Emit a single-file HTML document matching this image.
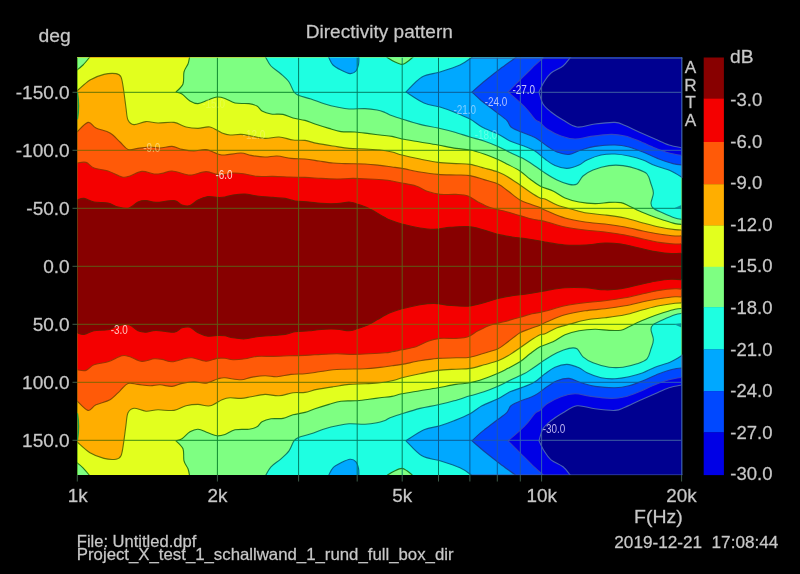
<!DOCTYPE html>
<html><head><meta charset="utf-8"><title>Directivity pattern</title>
<style>html,body{margin:0;padding:0;background:#000;}body{width:800px;height:574px;overflow:hidden;position:relative;font-family:"Liberation Sans",sans-serif;}</style>
</head><body>
<svg width="800" height="574" viewBox="0 0 800 574" style="display:block;position:absolute;left:0;top:0">
<rect x="0" y="0" width="800" height="574" fill="#000"/>
<defs><clipPath id="pc"><rect x="77" y="57.6" width="604.4" height="417.4"/></clipPath>
<clipPath id="bc"><path d="M473.0 56.0 C472.7 56.3 473.2 56.5 471.0 58.0 C468.8 59.5 465.2 62.7 460.0 65.0 C454.8 67.3 446.3 70.0 440.0 72.0 C433.7 74.0 427.7 73.7 422.0 77.0 C416.3 80.3 408.7 89.5 406.0 92.0 C409.0 93.8 418.3 100.5 424.0 103.0 C429.7 105.5 435.0 105.5 440.0 107.0 C445.0 108.5 449.0 110.0 454.0 112.0 C459.0 114.0 465.3 116.5 470.0 119.0 C474.7 121.5 477.3 124.5 482.0 127.0 C486.7 129.5 493.3 131.7 498.0 134.0 C502.7 136.3 505.7 139.0 510.0 141.0 C514.3 143.0 519.8 144.3 524.0 146.0 C528.2 147.7 531.5 148.8 535.0 151.0 C538.5 153.2 541.7 156.6 545.0 159.0 C548.3 161.4 551.3 164.0 555.0 165.6 C558.7 167.2 563.0 168.5 567.0 168.4 C571.0 168.3 575.7 166.4 579.0 165.0 C582.3 163.6 583.3 161.7 587.0 160.0 C590.7 158.3 596.3 156.0 601.0 155.0 C605.7 154.0 610.3 153.8 615.0 154.0 C619.7 154.2 624.3 155.0 629.0 156.0 C633.7 157.0 638.7 158.4 643.0 160.0 C647.3 161.6 650.3 163.8 655.0 165.6 C659.7 167.4 666.3 168.9 671.0 171.0 C675.7 173.1 681.0 176.8 683.0 178.0 L684.4 178.0 L684.4 54.6 L473.0 54.6 Z"/><path d="M473.0 476.8 C472.7 476.5 473.2 476.3 471.0 474.8 C468.8 473.3 465.2 470.1 460.0 467.8 C454.8 465.5 446.3 462.8 440.0 460.8 C433.7 458.8 427.7 459.1 422.0 455.8 C416.3 452.5 408.7 443.3 406.0 440.8 C409.0 439.0 418.3 432.3 424.0 429.8 C429.7 427.3 435.0 427.3 440.0 425.8 C445.0 424.3 449.0 422.8 454.0 420.8 C459.0 418.8 465.3 416.3 470.0 413.8 C474.7 411.3 477.3 408.3 482.0 405.8 C486.7 403.3 493.3 401.1 498.0 398.8 C502.7 396.5 505.7 393.8 510.0 391.8 C514.3 389.8 519.8 388.5 524.0 386.8 C528.2 385.1 531.5 384.0 535.0 381.8 C538.5 379.6 541.7 376.2 545.0 373.8 C548.3 371.4 551.3 368.8 555.0 367.2 C558.7 365.6 563.0 364.3 567.0 364.4 C571.0 364.5 575.7 366.4 579.0 367.8 C582.3 369.2 583.3 371.1 587.0 372.8 C590.7 374.5 596.3 376.8 601.0 377.8 C605.7 378.8 610.3 379.0 615.0 378.8 C619.7 378.6 624.3 377.8 629.0 376.8 C633.7 375.8 638.7 374.4 643.0 372.8 C647.3 371.2 650.3 369.0 655.0 367.2 C659.7 365.4 666.3 363.9 671.0 361.8 C675.7 359.7 681.0 356.0 683.0 354.8 L684.4 354.8 L684.4 478.0 L473.0 478.0 Z"/></clipPath>
<clipPath id="b0"><path clip-rule="evenodd" d="M72 52.6 H686.4 V480 H72 Z M77.0 200.0 C78.2 199.7 81.2 198.1 84.0 198.4 C86.8 198.7 90.0 201.2 94.0 202.0 C98.0 202.8 104.0 202.2 108.0 203.0 C112.0 203.8 114.5 206.2 118.0 207.0 C121.5 207.8 125.7 208.8 129.0 208.0 C132.3 207.2 135.2 203.2 138.0 202.0 C140.8 200.8 143.0 200.5 146.0 200.6 C149.0 200.7 151.3 202.4 156.0 202.4 C160.7 202.4 169.7 200.2 174.0 200.6 C178.3 201.0 179.3 204.2 182.0 205.0 C184.7 205.8 187.3 206.4 190.0 205.6 C192.7 204.8 195.0 201.5 198.0 200.0 C201.0 198.5 204.7 197.0 208.0 196.6 C211.3 196.2 215.2 197.3 218.0 197.4 C220.8 197.5 222.5 197.4 225.0 197.0 C227.5 196.6 229.7 195.5 233.0 195.0 C236.3 194.5 241.0 193.8 245.0 194.0 C249.0 194.2 252.3 195.4 257.0 196.0 C261.7 196.6 268.3 197.0 273.0 197.4 C277.7 197.8 281.3 197.8 285.0 198.4 C288.7 199.0 291.0 200.4 295.0 201.0 C299.0 201.6 304.7 201.6 309.0 202.0 C313.3 202.4 316.3 203.1 321.0 203.4 C325.7 203.7 332.3 203.8 337.0 203.6 C341.7 203.4 345.7 201.9 349.0 202.0 C352.3 202.1 353.7 202.9 357.0 204.0 C360.3 205.1 365.7 206.9 369.0 208.4 C372.3 209.9 374.3 211.5 377.0 213.0 C379.7 214.5 382.8 216.4 385.0 217.6 C387.2 218.8 387.2 218.9 390.0 220.0 C392.8 221.1 397.0 222.7 402.0 224.0 C407.0 225.3 414.7 227.1 420.0 228.0 C425.3 228.9 429.0 229.5 434.0 229.4 C439.0 229.3 444.3 227.9 450.0 227.4 C455.7 226.9 462.3 226.2 468.0 226.6 C473.7 227.0 479.0 228.7 484.0 230.0 C489.0 231.3 493.3 233.2 498.0 234.4 C502.7 235.6 507.0 236.2 512.0 237.0 C517.0 237.8 523.3 238.3 528.0 239.0 C532.7 239.7 536.8 240.4 540.0 241.0 C543.2 241.6 542.8 241.7 547.0 242.4 C551.2 243.1 558.7 244.6 565.0 245.0 C571.3 245.4 578.3 245.3 585.0 245.0 C591.7 244.7 599.0 243.2 605.0 243.0 C611.0 242.8 615.3 243.2 621.0 244.0 C626.7 244.8 633.3 246.7 639.0 248.0 C644.7 249.3 649.7 250.7 655.0 251.6 C660.3 252.5 666.3 253.4 671.0 253.6 C675.7 253.8 681.0 253.1 683.0 253.0 L684.4 253.0 L684.4 54.6 L74.0 54.6 L74.0 200.0 Z M77.0 332.8 C78.2 333.1 81.2 334.7 84.0 334.4 C86.8 334.1 90.0 331.6 94.0 330.8 C98.0 330.0 104.0 330.6 108.0 329.8 C112.0 329.0 114.5 326.6 118.0 325.8 C121.5 325.0 125.7 324.0 129.0 324.8 C132.3 325.6 135.2 329.6 138.0 330.8 C140.8 332.0 143.0 332.3 146.0 332.2 C149.0 332.1 151.3 330.4 156.0 330.4 C160.7 330.4 169.7 332.6 174.0 332.2 C178.3 331.8 179.3 328.6 182.0 327.8 C184.7 327.0 187.3 326.4 190.0 327.2 C192.7 328.0 195.0 331.3 198.0 332.8 C201.0 334.3 204.7 335.8 208.0 336.2 C211.3 336.6 215.2 335.5 218.0 335.4 C220.8 335.3 222.5 335.4 225.0 335.8 C227.5 336.2 229.7 337.3 233.0 337.8 C236.3 338.3 241.0 339.0 245.0 338.8 C249.0 338.6 252.3 337.4 257.0 336.8 C261.7 336.2 268.3 335.8 273.0 335.4 C277.7 335.0 281.3 335.0 285.0 334.4 C288.7 333.8 291.0 332.4 295.0 331.8 C299.0 331.2 304.7 331.2 309.0 330.8 C313.3 330.4 316.3 329.7 321.0 329.4 C325.7 329.1 332.3 329.0 337.0 329.2 C341.7 329.4 345.7 330.9 349.0 330.8 C352.3 330.7 353.7 329.9 357.0 328.8 C360.3 327.7 365.7 325.9 369.0 324.4 C372.3 322.9 374.3 321.3 377.0 319.8 C379.7 318.3 382.8 316.4 385.0 315.2 C387.2 314.0 387.2 313.9 390.0 312.8 C392.8 311.7 397.0 310.1 402.0 308.8 C407.0 307.5 414.7 305.7 420.0 304.8 C425.3 303.9 429.0 303.3 434.0 303.4 C439.0 303.5 444.3 304.9 450.0 305.4 C455.7 305.9 462.3 306.6 468.0 306.2 C473.7 305.8 479.0 304.1 484.0 302.8 C489.0 301.5 493.3 299.6 498.0 298.4 C502.7 297.2 507.0 296.6 512.0 295.8 C517.0 295.0 523.3 294.5 528.0 293.8 C532.7 293.1 536.8 292.4 540.0 291.8 C543.2 291.2 542.8 291.1 547.0 290.4 C551.2 289.7 558.7 288.2 565.0 287.8 C571.3 287.4 578.3 287.5 585.0 287.8 C591.7 288.1 599.0 289.6 605.0 289.8 C611.0 290.0 615.3 289.6 621.0 288.8 C626.7 288.0 633.3 286.1 639.0 284.8 C644.7 283.5 649.7 282.1 655.0 281.2 C660.3 280.3 666.3 279.4 671.0 279.2 C675.7 279.0 681.0 279.7 683.0 279.8 L684.4 279.8 L684.4 478.0 L74.0 478.0 L74.0 332.8 Z"/></clipPath>
<clipPath id="b1"><path clip-rule="evenodd" d="M77.0 200.0 C78.2 199.7 81.2 198.1 84.0 198.4 C86.8 198.7 90.0 201.2 94.0 202.0 C98.0 202.8 104.0 202.2 108.0 203.0 C112.0 203.8 114.5 206.2 118.0 207.0 C121.5 207.8 125.7 208.8 129.0 208.0 C132.3 207.2 135.2 203.2 138.0 202.0 C140.8 200.8 143.0 200.5 146.0 200.6 C149.0 200.7 151.3 202.4 156.0 202.4 C160.7 202.4 169.7 200.2 174.0 200.6 C178.3 201.0 179.3 204.2 182.0 205.0 C184.7 205.8 187.3 206.4 190.0 205.6 C192.7 204.8 195.0 201.5 198.0 200.0 C201.0 198.5 204.7 197.0 208.0 196.6 C211.3 196.2 215.2 197.3 218.0 197.4 C220.8 197.5 222.5 197.4 225.0 197.0 C227.5 196.6 229.7 195.5 233.0 195.0 C236.3 194.5 241.0 193.8 245.0 194.0 C249.0 194.2 252.3 195.4 257.0 196.0 C261.7 196.6 268.3 197.0 273.0 197.4 C277.7 197.8 281.3 197.8 285.0 198.4 C288.7 199.0 291.0 200.4 295.0 201.0 C299.0 201.6 304.7 201.6 309.0 202.0 C313.3 202.4 316.3 203.1 321.0 203.4 C325.7 203.7 332.3 203.8 337.0 203.6 C341.7 203.4 345.7 201.9 349.0 202.0 C352.3 202.1 353.7 202.9 357.0 204.0 C360.3 205.1 365.7 206.9 369.0 208.4 C372.3 209.9 374.3 211.5 377.0 213.0 C379.7 214.5 382.8 216.4 385.0 217.6 C387.2 218.8 387.2 218.9 390.0 220.0 C392.8 221.1 397.0 222.7 402.0 224.0 C407.0 225.3 414.7 227.1 420.0 228.0 C425.3 228.9 429.0 229.5 434.0 229.4 C439.0 229.3 444.3 227.9 450.0 227.4 C455.7 226.9 462.3 226.2 468.0 226.6 C473.7 227.0 479.0 228.7 484.0 230.0 C489.0 231.3 493.3 233.2 498.0 234.4 C502.7 235.6 507.0 236.2 512.0 237.0 C517.0 237.8 523.3 238.3 528.0 239.0 C532.7 239.7 536.8 240.4 540.0 241.0 C543.2 241.6 542.8 241.7 547.0 242.4 C551.2 243.1 558.7 244.6 565.0 245.0 C571.3 245.4 578.3 245.3 585.0 245.0 C591.7 244.7 599.0 243.2 605.0 243.0 C611.0 242.8 615.3 243.2 621.0 244.0 C626.7 244.8 633.3 246.7 639.0 248.0 C644.7 249.3 649.7 250.7 655.0 251.6 C660.3 252.5 666.3 253.4 671.0 253.6 C675.7 253.8 681.0 253.1 683.0 253.0 L684.4 253.0 L684.4 54.6 L74.0 54.6 L74.0 200.0 Z M77.0 332.8 C78.2 333.1 81.2 334.7 84.0 334.4 C86.8 334.1 90.0 331.6 94.0 330.8 C98.0 330.0 104.0 330.6 108.0 329.8 C112.0 329.0 114.5 326.6 118.0 325.8 C121.5 325.0 125.7 324.0 129.0 324.8 C132.3 325.6 135.2 329.6 138.0 330.8 C140.8 332.0 143.0 332.3 146.0 332.2 C149.0 332.1 151.3 330.4 156.0 330.4 C160.7 330.4 169.7 332.6 174.0 332.2 C178.3 331.8 179.3 328.6 182.0 327.8 C184.7 327.0 187.3 326.4 190.0 327.2 C192.7 328.0 195.0 331.3 198.0 332.8 C201.0 334.3 204.7 335.8 208.0 336.2 C211.3 336.6 215.2 335.5 218.0 335.4 C220.8 335.3 222.5 335.4 225.0 335.8 C227.5 336.2 229.7 337.3 233.0 337.8 C236.3 338.3 241.0 339.0 245.0 338.8 C249.0 338.6 252.3 337.4 257.0 336.8 C261.7 336.2 268.3 335.8 273.0 335.4 C277.7 335.0 281.3 335.0 285.0 334.4 C288.7 333.8 291.0 332.4 295.0 331.8 C299.0 331.2 304.7 331.2 309.0 330.8 C313.3 330.4 316.3 329.7 321.0 329.4 C325.7 329.1 332.3 329.0 337.0 329.2 C341.7 329.4 345.7 330.9 349.0 330.8 C352.3 330.7 353.7 329.9 357.0 328.8 C360.3 327.7 365.7 325.9 369.0 324.4 C372.3 322.9 374.3 321.3 377.0 319.8 C379.7 318.3 382.8 316.4 385.0 315.2 C387.2 314.0 387.2 313.9 390.0 312.8 C392.8 311.7 397.0 310.1 402.0 308.8 C407.0 307.5 414.7 305.7 420.0 304.8 C425.3 303.9 429.0 303.3 434.0 303.4 C439.0 303.5 444.3 304.9 450.0 305.4 C455.7 305.9 462.3 306.6 468.0 306.2 C473.7 305.8 479.0 304.1 484.0 302.8 C489.0 301.5 493.3 299.6 498.0 298.4 C502.7 297.2 507.0 296.6 512.0 295.8 C517.0 295.0 523.3 294.5 528.0 293.8 C532.7 293.1 536.8 292.4 540.0 291.8 C543.2 291.2 542.8 291.1 547.0 290.4 C551.2 289.7 558.7 288.2 565.0 287.8 C571.3 287.4 578.3 287.5 585.0 287.8 C591.7 288.1 599.0 289.6 605.0 289.8 C611.0 290.0 615.3 289.6 621.0 288.8 C626.7 288.0 633.3 286.1 639.0 284.8 C644.7 283.5 649.7 282.1 655.0 281.2 C660.3 280.3 666.3 279.4 671.0 279.2 C675.7 279.0 681.0 279.7 683.0 279.8 L684.4 279.8 L684.4 478.0 L74.0 478.0 L74.0 332.8 Z M77.0 163.0 C78.5 162.9 83.2 161.6 86.0 162.4 C88.8 163.2 90.3 166.6 94.0 168.0 C97.7 169.4 103.3 169.5 108.0 171.0 C112.7 172.5 118.3 176.2 122.0 177.0 C125.7 177.8 126.7 176.9 130.0 176.0 C133.3 175.1 138.0 171.7 142.0 171.4 C146.0 171.1 150.7 173.7 154.0 174.0 C157.3 174.3 159.0 173.9 162.0 173.4 C165.0 172.9 168.3 170.9 172.0 171.0 C175.7 171.1 180.7 173.3 184.0 174.0 C187.3 174.7 188.3 175.4 192.0 175.0 C195.7 174.6 201.8 171.7 206.0 171.6 C210.2 171.5 213.8 173.9 217.0 174.4 C220.2 174.9 222.3 174.7 225.0 174.5 C227.7 174.3 229.7 173.1 233.0 173.0 C236.3 172.9 241.0 173.4 245.0 174.0 C249.0 174.6 252.3 176.0 257.0 176.4 C261.7 176.8 267.7 176.3 273.0 176.4 C278.3 176.5 283.7 176.8 289.0 177.0 C294.3 177.2 299.7 177.2 305.0 177.4 C310.3 177.6 315.7 178.1 321.0 178.4 C326.3 178.7 331.7 179.0 337.0 179.0 C342.3 179.0 347.7 178.4 353.0 178.4 C358.3 178.4 363.7 178.7 369.0 179.0 C374.3 179.3 381.2 179.7 385.0 180.0 C388.8 180.3 389.2 180.5 392.0 181.0 C394.8 181.5 398.0 182.2 402.0 183.0 C406.0 183.8 411.7 184.6 416.0 186.0 C420.3 187.4 424.0 190.2 428.0 191.6 C432.0 193.0 435.3 193.9 440.0 194.4 C444.7 194.9 451.3 194.1 456.0 194.4 C460.7 194.7 464.3 194.7 468.0 196.0 C471.7 197.3 474.3 200.1 478.0 202.0 C481.7 203.9 485.7 206.1 490.0 207.6 C494.3 209.1 499.0 209.7 504.0 211.0 C509.0 212.3 515.3 214.3 520.0 215.6 C524.7 216.9 528.7 218.2 532.0 219.0 C535.3 219.8 537.5 219.9 540.0 220.4 C542.5 220.9 542.8 220.9 547.0 222.0 C551.2 223.1 558.7 225.7 565.0 227.0 C571.3 228.3 578.3 229.2 585.0 230.0 C591.7 230.8 598.3 231.2 605.0 232.0 C611.7 232.8 618.7 233.8 625.0 235.0 C631.3 236.2 637.3 237.8 643.0 239.0 C648.7 240.2 653.7 241.6 659.0 242.4 C664.3 243.2 671.0 243.8 675.0 244.0 C679.0 244.2 681.7 243.7 683.0 243.6 L684.4 243.6 L684.4 54.6 L74.0 54.6 L74.0 163.0 Z M77.0 369.8 C78.5 369.9 83.2 371.2 86.0 370.4 C88.8 369.6 90.3 366.2 94.0 364.8 C97.7 363.4 103.3 363.3 108.0 361.8 C112.7 360.3 118.3 356.6 122.0 355.8 C125.7 355.0 126.7 355.9 130.0 356.8 C133.3 357.7 138.0 361.1 142.0 361.4 C146.0 361.7 150.7 359.1 154.0 358.8 C157.3 358.5 159.0 358.9 162.0 359.4 C165.0 359.9 168.3 361.9 172.0 361.8 C175.7 361.7 180.7 359.5 184.0 358.8 C187.3 358.1 188.3 357.4 192.0 357.8 C195.7 358.2 201.8 361.1 206.0 361.2 C210.2 361.3 213.8 358.9 217.0 358.4 C220.2 357.9 222.3 358.1 225.0 358.3 C227.7 358.5 229.7 359.7 233.0 359.8 C236.3 359.9 241.0 359.4 245.0 358.8 C249.0 358.2 252.3 356.8 257.0 356.4 C261.7 356.0 267.7 356.5 273.0 356.4 C278.3 356.3 283.7 356.0 289.0 355.8 C294.3 355.6 299.7 355.6 305.0 355.4 C310.3 355.2 315.7 354.7 321.0 354.4 C326.3 354.1 331.7 353.8 337.0 353.8 C342.3 353.8 347.7 354.4 353.0 354.4 C358.3 354.4 363.7 354.1 369.0 353.8 C374.3 353.5 381.2 353.1 385.0 352.8 C388.8 352.5 389.2 352.3 392.0 351.8 C394.8 351.3 398.0 350.6 402.0 349.8 C406.0 349.0 411.7 348.2 416.0 346.8 C420.3 345.4 424.0 342.6 428.0 341.2 C432.0 339.8 435.3 338.9 440.0 338.4 C444.7 337.9 451.3 338.7 456.0 338.4 C460.7 338.1 464.3 338.1 468.0 336.8 C471.7 335.5 474.3 332.7 478.0 330.8 C481.7 328.9 485.7 326.7 490.0 325.2 C494.3 323.7 499.0 323.1 504.0 321.8 C509.0 320.5 515.3 318.5 520.0 317.2 C524.7 315.9 528.7 314.6 532.0 313.8 C535.3 313.0 537.5 312.9 540.0 312.4 C542.5 311.9 542.8 311.9 547.0 310.8 C551.2 309.7 558.7 307.1 565.0 305.8 C571.3 304.5 578.3 303.6 585.0 302.8 C591.7 302.0 598.3 301.6 605.0 300.8 C611.7 300.0 618.7 299.0 625.0 297.8 C631.3 296.6 637.3 295.0 643.0 293.8 C648.7 292.6 653.7 291.2 659.0 290.4 C664.3 289.6 671.0 289.0 675.0 288.8 C679.0 288.6 681.7 289.1 683.0 289.2 L684.4 289.2 L684.4 478.0 L74.0 478.0 L74.0 369.8 Z"/></clipPath>
<clipPath id="b2"><path clip-rule="evenodd" d="M77.0 163.0 C78.5 162.9 83.2 161.6 86.0 162.4 C88.8 163.2 90.3 166.6 94.0 168.0 C97.7 169.4 103.3 169.5 108.0 171.0 C112.7 172.5 118.3 176.2 122.0 177.0 C125.7 177.8 126.7 176.9 130.0 176.0 C133.3 175.1 138.0 171.7 142.0 171.4 C146.0 171.1 150.7 173.7 154.0 174.0 C157.3 174.3 159.0 173.9 162.0 173.4 C165.0 172.9 168.3 170.9 172.0 171.0 C175.7 171.1 180.7 173.3 184.0 174.0 C187.3 174.7 188.3 175.4 192.0 175.0 C195.7 174.6 201.8 171.7 206.0 171.6 C210.2 171.5 213.8 173.9 217.0 174.4 C220.2 174.9 222.3 174.7 225.0 174.5 C227.7 174.3 229.7 173.1 233.0 173.0 C236.3 172.9 241.0 173.4 245.0 174.0 C249.0 174.6 252.3 176.0 257.0 176.4 C261.7 176.8 267.7 176.3 273.0 176.4 C278.3 176.5 283.7 176.8 289.0 177.0 C294.3 177.2 299.7 177.2 305.0 177.4 C310.3 177.6 315.7 178.1 321.0 178.4 C326.3 178.7 331.7 179.0 337.0 179.0 C342.3 179.0 347.7 178.4 353.0 178.4 C358.3 178.4 363.7 178.7 369.0 179.0 C374.3 179.3 381.2 179.7 385.0 180.0 C388.8 180.3 389.2 180.5 392.0 181.0 C394.8 181.5 398.0 182.2 402.0 183.0 C406.0 183.8 411.7 184.6 416.0 186.0 C420.3 187.4 424.0 190.2 428.0 191.6 C432.0 193.0 435.3 193.9 440.0 194.4 C444.7 194.9 451.3 194.1 456.0 194.4 C460.7 194.7 464.3 194.7 468.0 196.0 C471.7 197.3 474.3 200.1 478.0 202.0 C481.7 203.9 485.7 206.1 490.0 207.6 C494.3 209.1 499.0 209.7 504.0 211.0 C509.0 212.3 515.3 214.3 520.0 215.6 C524.7 216.9 528.7 218.2 532.0 219.0 C535.3 219.8 537.5 219.9 540.0 220.4 C542.5 220.9 542.8 220.9 547.0 222.0 C551.2 223.1 558.7 225.7 565.0 227.0 C571.3 228.3 578.3 229.2 585.0 230.0 C591.7 230.8 598.3 231.2 605.0 232.0 C611.7 232.8 618.7 233.8 625.0 235.0 C631.3 236.2 637.3 237.8 643.0 239.0 C648.7 240.2 653.7 241.6 659.0 242.4 C664.3 243.2 671.0 243.8 675.0 244.0 C679.0 244.2 681.7 243.7 683.0 243.6 L684.4 243.6 L684.4 54.6 L74.0 54.6 L74.0 163.0 Z M77.0 369.8 C78.5 369.9 83.2 371.2 86.0 370.4 C88.8 369.6 90.3 366.2 94.0 364.8 C97.7 363.4 103.3 363.3 108.0 361.8 C112.7 360.3 118.3 356.6 122.0 355.8 C125.7 355.0 126.7 355.9 130.0 356.8 C133.3 357.7 138.0 361.1 142.0 361.4 C146.0 361.7 150.7 359.1 154.0 358.8 C157.3 358.5 159.0 358.9 162.0 359.4 C165.0 359.9 168.3 361.9 172.0 361.8 C175.7 361.7 180.7 359.5 184.0 358.8 C187.3 358.1 188.3 357.4 192.0 357.8 C195.7 358.2 201.8 361.1 206.0 361.2 C210.2 361.3 213.8 358.9 217.0 358.4 C220.2 357.9 222.3 358.1 225.0 358.3 C227.7 358.5 229.7 359.7 233.0 359.8 C236.3 359.9 241.0 359.4 245.0 358.8 C249.0 358.2 252.3 356.8 257.0 356.4 C261.7 356.0 267.7 356.5 273.0 356.4 C278.3 356.3 283.7 356.0 289.0 355.8 C294.3 355.6 299.7 355.6 305.0 355.4 C310.3 355.2 315.7 354.7 321.0 354.4 C326.3 354.1 331.7 353.8 337.0 353.8 C342.3 353.8 347.7 354.4 353.0 354.4 C358.3 354.4 363.7 354.1 369.0 353.8 C374.3 353.5 381.2 353.1 385.0 352.8 C388.8 352.5 389.2 352.3 392.0 351.8 C394.8 351.3 398.0 350.6 402.0 349.8 C406.0 349.0 411.7 348.2 416.0 346.8 C420.3 345.4 424.0 342.6 428.0 341.2 C432.0 339.8 435.3 338.9 440.0 338.4 C444.7 337.9 451.3 338.7 456.0 338.4 C460.7 338.1 464.3 338.1 468.0 336.8 C471.7 335.5 474.3 332.7 478.0 330.8 C481.7 328.9 485.7 326.7 490.0 325.2 C494.3 323.7 499.0 323.1 504.0 321.8 C509.0 320.5 515.3 318.5 520.0 317.2 C524.7 315.9 528.7 314.6 532.0 313.8 C535.3 313.0 537.5 312.9 540.0 312.4 C542.5 311.9 542.8 311.9 547.0 310.8 C551.2 309.7 558.7 307.1 565.0 305.8 C571.3 304.5 578.3 303.6 585.0 302.8 C591.7 302.0 598.3 301.6 605.0 300.8 C611.7 300.0 618.7 299.0 625.0 297.8 C631.3 296.6 637.3 295.0 643.0 293.8 C648.7 292.6 653.7 291.2 659.0 290.4 C664.3 289.6 671.0 289.0 675.0 288.8 C679.0 288.6 681.7 289.1 683.0 289.2 L684.4 289.2 L684.4 478.0 L74.0 478.0 L74.0 369.8 Z M77.0 132.0 C78.8 130.4 84.8 123.1 88.0 122.4 C91.2 121.7 92.3 126.2 96.0 128.0 C99.7 129.8 106.0 130.7 110.0 133.0 C114.0 135.3 117.0 139.3 120.0 142.0 C123.0 144.7 125.0 148.3 128.0 149.4 C131.0 150.5 134.3 148.8 138.0 148.4 C141.7 148.0 146.3 147.1 150.0 147.0 C153.7 146.9 156.3 148.1 160.0 148.0 C163.7 147.9 168.3 146.2 172.0 146.4 C175.7 146.6 178.3 148.6 182.0 149.4 C185.7 150.2 190.0 151.0 194.0 151.0 C198.0 151.0 202.0 149.1 206.0 149.6 C210.0 150.1 214.8 153.1 218.0 154.0 C221.2 154.9 221.2 155.2 225.0 155.0 C228.8 154.8 236.7 152.9 241.0 153.0 C245.3 153.1 247.0 154.7 251.0 155.4 C255.0 156.1 260.7 156.9 265.0 157.0 C269.3 157.1 272.7 155.8 277.0 156.0 C281.3 156.2 286.3 157.9 291.0 158.4 C295.7 158.9 300.3 158.6 305.0 159.0 C309.7 159.4 314.3 160.3 319.0 161.0 C323.7 161.7 328.7 162.6 333.0 163.0 C337.3 163.4 339.7 163.4 345.0 163.6 C350.3 163.8 359.2 163.7 365.0 164.0 C370.8 164.3 375.5 164.9 380.0 165.4 C384.5 165.9 388.3 166.5 392.0 167.0 C395.7 167.5 397.3 167.6 402.0 168.4 C406.7 169.2 414.0 171.0 420.0 172.0 C426.0 173.0 432.0 173.9 438.0 174.4 C444.0 174.9 450.7 174.8 456.0 175.0 C461.3 175.2 465.3 174.8 470.0 175.6 C474.7 176.4 479.3 178.2 484.0 179.6 C488.7 181.0 494.0 182.1 498.0 184.0 C502.0 185.9 504.3 188.3 508.0 191.0 C511.7 193.7 516.3 197.8 520.0 200.0 C523.7 202.2 526.7 202.7 530.0 204.0 C533.3 205.3 537.2 206.4 540.0 207.6 C542.8 208.8 542.8 209.3 547.0 211.0 C551.2 212.7 558.7 216.2 565.0 218.0 C571.3 219.8 578.3 221.0 585.0 222.0 C591.7 223.0 598.3 223.2 605.0 224.0 C611.7 224.8 618.7 225.8 625.0 227.0 C631.3 228.2 637.3 229.8 643.0 231.0 C648.7 232.2 653.7 233.2 659.0 234.0 C664.3 234.8 671.0 235.7 675.0 236.0 C679.0 236.3 681.7 235.7 683.0 235.6 L684.4 235.6 L684.4 54.6 L74.0 54.6 L74.0 132.0 Z M77.0 400.8 C78.8 402.4 84.8 409.7 88.0 410.4 C91.2 411.1 92.3 406.6 96.0 404.8 C99.7 403.0 106.0 402.1 110.0 399.8 C114.0 397.5 117.0 393.5 120.0 390.8 C123.0 388.1 125.0 384.5 128.0 383.4 C131.0 382.3 134.3 384.0 138.0 384.4 C141.7 384.8 146.3 385.7 150.0 385.8 C153.7 385.9 156.3 384.7 160.0 384.8 C163.7 384.9 168.3 386.6 172.0 386.4 C175.7 386.2 178.3 384.2 182.0 383.4 C185.7 382.6 190.0 381.8 194.0 381.8 C198.0 381.8 202.0 383.7 206.0 383.2 C210.0 382.7 214.8 379.7 218.0 378.8 C221.2 377.9 221.2 377.6 225.0 377.8 C228.8 378.0 236.7 379.9 241.0 379.8 C245.3 379.7 247.0 378.1 251.0 377.4 C255.0 376.7 260.7 375.9 265.0 375.8 C269.3 375.7 272.7 377.0 277.0 376.8 C281.3 376.6 286.3 374.9 291.0 374.4 C295.7 373.9 300.3 374.2 305.0 373.8 C309.7 373.4 314.3 372.5 319.0 371.8 C323.7 371.1 328.7 370.2 333.0 369.8 C337.3 369.4 339.7 369.4 345.0 369.2 C350.3 369.0 359.2 369.1 365.0 368.8 C370.8 368.5 375.5 367.9 380.0 367.4 C384.5 366.9 388.3 366.3 392.0 365.8 C395.7 365.3 397.3 365.2 402.0 364.4 C406.7 363.6 414.0 361.8 420.0 360.8 C426.0 359.8 432.0 358.9 438.0 358.4 C444.0 357.9 450.7 358.0 456.0 357.8 C461.3 357.6 465.3 358.0 470.0 357.2 C474.7 356.4 479.3 354.6 484.0 353.2 C488.7 351.8 494.0 350.7 498.0 348.8 C502.0 346.9 504.3 344.5 508.0 341.8 C511.7 339.1 516.3 335.0 520.0 332.8 C523.7 330.6 526.7 330.1 530.0 328.8 C533.3 327.5 537.2 326.4 540.0 325.2 C542.8 324.0 542.8 323.5 547.0 321.8 C551.2 320.1 558.7 316.6 565.0 314.8 C571.3 313.0 578.3 311.8 585.0 310.8 C591.7 309.8 598.3 309.6 605.0 308.8 C611.7 308.0 618.7 307.0 625.0 305.8 C631.3 304.6 637.3 303.0 643.0 301.8 C648.7 300.6 653.7 299.6 659.0 298.8 C664.3 298.0 671.0 297.1 675.0 296.8 C679.0 296.5 681.7 297.1 683.0 297.2 L684.4 297.2 L684.4 478.0 L74.0 478.0 L74.0 400.8 Z"/></clipPath>
<clipPath id="b3"><path clip-rule="evenodd" d="M77.0 132.0 C78.8 130.4 84.8 123.1 88.0 122.4 C91.2 121.7 92.3 126.2 96.0 128.0 C99.7 129.8 106.0 130.7 110.0 133.0 C114.0 135.3 117.0 139.3 120.0 142.0 C123.0 144.7 125.0 148.3 128.0 149.4 C131.0 150.5 134.3 148.8 138.0 148.4 C141.7 148.0 146.3 147.1 150.0 147.0 C153.7 146.9 156.3 148.1 160.0 148.0 C163.7 147.9 168.3 146.2 172.0 146.4 C175.7 146.6 178.3 148.6 182.0 149.4 C185.7 150.2 190.0 151.0 194.0 151.0 C198.0 151.0 202.0 149.1 206.0 149.6 C210.0 150.1 214.8 153.1 218.0 154.0 C221.2 154.9 221.2 155.2 225.0 155.0 C228.8 154.8 236.7 152.9 241.0 153.0 C245.3 153.1 247.0 154.7 251.0 155.4 C255.0 156.1 260.7 156.9 265.0 157.0 C269.3 157.1 272.7 155.8 277.0 156.0 C281.3 156.2 286.3 157.9 291.0 158.4 C295.7 158.9 300.3 158.6 305.0 159.0 C309.7 159.4 314.3 160.3 319.0 161.0 C323.7 161.7 328.7 162.6 333.0 163.0 C337.3 163.4 339.7 163.4 345.0 163.6 C350.3 163.8 359.2 163.7 365.0 164.0 C370.8 164.3 375.5 164.9 380.0 165.4 C384.5 165.9 388.3 166.5 392.0 167.0 C395.7 167.5 397.3 167.6 402.0 168.4 C406.7 169.2 414.0 171.0 420.0 172.0 C426.0 173.0 432.0 173.9 438.0 174.4 C444.0 174.9 450.7 174.8 456.0 175.0 C461.3 175.2 465.3 174.8 470.0 175.6 C474.7 176.4 479.3 178.2 484.0 179.6 C488.7 181.0 494.0 182.1 498.0 184.0 C502.0 185.9 504.3 188.3 508.0 191.0 C511.7 193.7 516.3 197.8 520.0 200.0 C523.7 202.2 526.7 202.7 530.0 204.0 C533.3 205.3 537.2 206.4 540.0 207.6 C542.8 208.8 542.8 209.3 547.0 211.0 C551.2 212.7 558.7 216.2 565.0 218.0 C571.3 219.8 578.3 221.0 585.0 222.0 C591.7 223.0 598.3 223.2 605.0 224.0 C611.7 224.8 618.7 225.8 625.0 227.0 C631.3 228.2 637.3 229.8 643.0 231.0 C648.7 232.2 653.7 233.2 659.0 234.0 C664.3 234.8 671.0 235.7 675.0 236.0 C679.0 236.3 681.7 235.7 683.0 235.6 L684.4 235.6 L684.4 54.6 L74.0 54.6 L74.0 132.0 Z M77.0 400.8 C78.8 402.4 84.8 409.7 88.0 410.4 C91.2 411.1 92.3 406.6 96.0 404.8 C99.7 403.0 106.0 402.1 110.0 399.8 C114.0 397.5 117.0 393.5 120.0 390.8 C123.0 388.1 125.0 384.5 128.0 383.4 C131.0 382.3 134.3 384.0 138.0 384.4 C141.7 384.8 146.3 385.7 150.0 385.8 C153.7 385.9 156.3 384.7 160.0 384.8 C163.7 384.9 168.3 386.6 172.0 386.4 C175.7 386.2 178.3 384.2 182.0 383.4 C185.7 382.6 190.0 381.8 194.0 381.8 C198.0 381.8 202.0 383.7 206.0 383.2 C210.0 382.7 214.8 379.7 218.0 378.8 C221.2 377.9 221.2 377.6 225.0 377.8 C228.8 378.0 236.7 379.9 241.0 379.8 C245.3 379.7 247.0 378.1 251.0 377.4 C255.0 376.7 260.7 375.9 265.0 375.8 C269.3 375.7 272.7 377.0 277.0 376.8 C281.3 376.6 286.3 374.9 291.0 374.4 C295.7 373.9 300.3 374.2 305.0 373.8 C309.7 373.4 314.3 372.5 319.0 371.8 C323.7 371.1 328.7 370.2 333.0 369.8 C337.3 369.4 339.7 369.4 345.0 369.2 C350.3 369.0 359.2 369.1 365.0 368.8 C370.8 368.5 375.5 367.9 380.0 367.4 C384.5 366.9 388.3 366.3 392.0 365.8 C395.7 365.3 397.3 365.2 402.0 364.4 C406.7 363.6 414.0 361.8 420.0 360.8 C426.0 359.8 432.0 358.9 438.0 358.4 C444.0 357.9 450.7 358.0 456.0 357.8 C461.3 357.6 465.3 358.0 470.0 357.2 C474.7 356.4 479.3 354.6 484.0 353.2 C488.7 351.8 494.0 350.7 498.0 348.8 C502.0 346.9 504.3 344.5 508.0 341.8 C511.7 339.1 516.3 335.0 520.0 332.8 C523.7 330.6 526.7 330.1 530.0 328.8 C533.3 327.5 537.2 326.4 540.0 325.2 C542.8 324.0 542.8 323.5 547.0 321.8 C551.2 320.1 558.7 316.6 565.0 314.8 C571.3 313.0 578.3 311.8 585.0 310.8 C591.7 309.8 598.3 309.6 605.0 308.8 C611.7 308.0 618.7 307.0 625.0 305.8 C631.3 304.6 637.3 303.0 643.0 301.8 C648.7 300.6 653.7 299.6 659.0 298.8 C664.3 298.0 671.0 297.1 675.0 296.8 C679.0 296.5 681.7 297.1 683.0 297.2 L684.4 297.2 L684.4 478.0 L74.0 478.0 L74.0 400.8 Z M77.0 91.0 C79.2 89.2 85.5 82.8 90.0 80.0 C94.5 77.2 99.7 75.5 104.0 74.4 C108.3 73.3 113.2 73.2 116.0 73.6 C118.8 74.0 119.7 74.3 121.0 77.0 C122.3 79.7 122.8 84.8 123.6 90.0 C124.4 95.2 125.3 103.0 126.0 108.0 C126.7 113.0 126.7 117.2 128.0 120.0 C129.3 122.8 131.0 124.3 134.0 124.6 C137.0 124.9 142.0 121.9 146.0 121.6 C150.0 121.3 153.3 122.9 158.0 123.0 C162.7 123.1 169.3 121.7 174.0 122.4 C178.7 123.1 182.0 126.0 186.0 127.0 C190.0 128.0 194.0 128.4 198.0 128.4 C202.0 128.4 206.0 126.2 210.0 127.0 C214.0 127.8 218.7 131.7 222.0 133.0 C225.3 134.3 226.8 134.8 230.0 135.0 C233.2 135.2 237.5 134.2 241.0 134.4 C244.5 134.6 247.0 135.3 251.0 136.0 C255.0 136.7 260.3 138.2 265.0 138.4 C269.7 138.6 274.3 136.7 279.0 137.0 C283.7 137.3 288.7 139.4 293.0 140.0 C297.3 140.6 301.0 139.8 305.0 140.4 C309.0 141.0 312.3 142.5 317.0 143.4 C321.7 144.3 327.7 145.2 333.0 146.0 C338.3 146.8 343.7 147.9 349.0 148.4 C354.3 148.9 359.8 148.7 365.0 149.0 C370.2 149.3 375.5 149.5 380.0 150.0 C384.5 150.5 388.3 151.2 392.0 152.0 C395.7 152.8 397.3 153.8 402.0 155.0 C406.7 156.2 414.0 157.8 420.0 159.0 C426.0 160.2 432.0 161.6 438.0 162.4 C444.0 163.2 450.7 163.3 456.0 163.6 C461.3 163.9 465.3 163.7 470.0 164.4 C474.7 165.1 479.3 166.7 484.0 168.0 C488.7 169.3 494.0 170.5 498.0 172.0 C502.0 173.5 504.3 174.8 508.0 177.0 C511.7 179.2 516.3 182.5 520.0 185.0 C523.7 187.5 526.7 189.8 530.0 192.0 C533.3 194.2 537.5 196.8 540.0 198.0 C542.5 199.2 542.2 197.8 545.0 199.0 C547.8 200.2 552.7 203.3 557.0 205.0 C561.3 206.7 566.0 207.7 571.0 209.0 C576.0 210.3 581.3 212.0 587.0 213.0 C592.7 214.0 598.7 214.2 605.0 215.0 C611.3 215.8 618.7 216.7 625.0 218.0 C631.3 219.3 637.3 221.5 643.0 223.0 C648.7 224.5 653.7 225.9 659.0 227.0 C664.3 228.1 671.0 229.1 675.0 229.6 C679.0 230.1 681.7 229.9 683.0 230.0 L684.4 230.0 L684.4 54.6 L74.0 54.6 L74.0 91.0 Z M77.0 441.8 C79.2 443.6 85.5 450.0 90.0 452.8 C94.5 455.6 99.7 457.3 104.0 458.4 C108.3 459.5 113.2 459.6 116.0 459.2 C118.8 458.8 119.7 458.5 121.0 455.8 C122.3 453.1 122.8 448.0 123.6 442.8 C124.4 437.6 125.3 429.8 126.0 424.8 C126.7 419.8 126.7 415.6 128.0 412.8 C129.3 410.0 131.0 408.5 134.0 408.2 C137.0 407.9 142.0 410.9 146.0 411.2 C150.0 411.5 153.3 409.9 158.0 409.8 C162.7 409.7 169.3 411.1 174.0 410.4 C178.7 409.7 182.0 406.8 186.0 405.8 C190.0 404.8 194.0 404.4 198.0 404.4 C202.0 404.4 206.0 406.6 210.0 405.8 C214.0 405.0 218.7 401.1 222.0 399.8 C225.3 398.5 226.8 398.0 230.0 397.8 C233.2 397.6 237.5 398.6 241.0 398.4 C244.5 398.2 247.0 397.5 251.0 396.8 C255.0 396.1 260.3 394.6 265.0 394.4 C269.7 394.2 274.3 396.1 279.0 395.8 C283.7 395.5 288.7 393.4 293.0 392.8 C297.3 392.2 301.0 393.0 305.0 392.4 C309.0 391.8 312.3 390.3 317.0 389.4 C321.7 388.5 327.7 387.6 333.0 386.8 C338.3 386.0 343.7 384.9 349.0 384.4 C354.3 383.9 359.8 384.1 365.0 383.8 C370.2 383.5 375.5 383.3 380.0 382.8 C384.5 382.3 388.3 381.6 392.0 380.8 C395.7 380.0 397.3 379.0 402.0 377.8 C406.7 376.6 414.0 375.0 420.0 373.8 C426.0 372.6 432.0 371.2 438.0 370.4 C444.0 369.6 450.7 369.5 456.0 369.2 C461.3 368.9 465.3 369.1 470.0 368.4 C474.7 367.7 479.3 366.1 484.0 364.8 C488.7 363.5 494.0 362.3 498.0 360.8 C502.0 359.3 504.3 358.0 508.0 355.8 C511.7 353.6 516.3 350.3 520.0 347.8 C523.7 345.3 526.7 343.0 530.0 340.8 C533.3 338.6 537.5 336.0 540.0 334.8 C542.5 333.6 542.2 335.0 545.0 333.8 C547.8 332.6 552.7 329.5 557.0 327.8 C561.3 326.1 566.0 325.1 571.0 323.8 C576.0 322.5 581.3 320.8 587.0 319.8 C592.7 318.8 598.7 318.6 605.0 317.8 C611.3 317.0 618.7 316.1 625.0 314.8 C631.3 313.5 637.3 311.3 643.0 309.8 C648.7 308.3 653.7 306.9 659.0 305.8 C664.3 304.7 671.0 303.7 675.0 303.2 C679.0 302.7 681.7 302.9 683.0 302.8 L684.4 302.8 L684.4 478.0 L74.0 478.0 L74.0 441.8 Z"/></clipPath>
<clipPath id="b4"><path clip-rule="evenodd" d="M77.0 91.0 C79.2 89.2 85.5 82.8 90.0 80.0 C94.5 77.2 99.7 75.5 104.0 74.4 C108.3 73.3 113.2 73.2 116.0 73.6 C118.8 74.0 119.7 74.3 121.0 77.0 C122.3 79.7 122.8 84.8 123.6 90.0 C124.4 95.2 125.3 103.0 126.0 108.0 C126.7 113.0 126.7 117.2 128.0 120.0 C129.3 122.8 131.0 124.3 134.0 124.6 C137.0 124.9 142.0 121.9 146.0 121.6 C150.0 121.3 153.3 122.9 158.0 123.0 C162.7 123.1 169.3 121.7 174.0 122.4 C178.7 123.1 182.0 126.0 186.0 127.0 C190.0 128.0 194.0 128.4 198.0 128.4 C202.0 128.4 206.0 126.2 210.0 127.0 C214.0 127.8 218.7 131.7 222.0 133.0 C225.3 134.3 226.8 134.8 230.0 135.0 C233.2 135.2 237.5 134.2 241.0 134.4 C244.5 134.6 247.0 135.3 251.0 136.0 C255.0 136.7 260.3 138.2 265.0 138.4 C269.7 138.6 274.3 136.7 279.0 137.0 C283.7 137.3 288.7 139.4 293.0 140.0 C297.3 140.6 301.0 139.8 305.0 140.4 C309.0 141.0 312.3 142.5 317.0 143.4 C321.7 144.3 327.7 145.2 333.0 146.0 C338.3 146.8 343.7 147.9 349.0 148.4 C354.3 148.9 359.8 148.7 365.0 149.0 C370.2 149.3 375.5 149.5 380.0 150.0 C384.5 150.5 388.3 151.2 392.0 152.0 C395.7 152.8 397.3 153.8 402.0 155.0 C406.7 156.2 414.0 157.8 420.0 159.0 C426.0 160.2 432.0 161.6 438.0 162.4 C444.0 163.2 450.7 163.3 456.0 163.6 C461.3 163.9 465.3 163.7 470.0 164.4 C474.7 165.1 479.3 166.7 484.0 168.0 C488.7 169.3 494.0 170.5 498.0 172.0 C502.0 173.5 504.3 174.8 508.0 177.0 C511.7 179.2 516.3 182.5 520.0 185.0 C523.7 187.5 526.7 189.8 530.0 192.0 C533.3 194.2 537.5 196.8 540.0 198.0 C542.5 199.2 542.2 197.8 545.0 199.0 C547.8 200.2 552.7 203.3 557.0 205.0 C561.3 206.7 566.0 207.7 571.0 209.0 C576.0 210.3 581.3 212.0 587.0 213.0 C592.7 214.0 598.7 214.2 605.0 215.0 C611.3 215.8 618.7 216.7 625.0 218.0 C631.3 219.3 637.3 221.5 643.0 223.0 C648.7 224.5 653.7 225.9 659.0 227.0 C664.3 228.1 671.0 229.1 675.0 229.6 C679.0 230.1 681.7 229.9 683.0 230.0 L684.4 230.0 L684.4 54.6 L74.0 54.6 L74.0 91.0 Z M77.0 441.8 C79.2 443.6 85.5 450.0 90.0 452.8 C94.5 455.6 99.7 457.3 104.0 458.4 C108.3 459.5 113.2 459.6 116.0 459.2 C118.8 458.8 119.7 458.5 121.0 455.8 C122.3 453.1 122.8 448.0 123.6 442.8 C124.4 437.6 125.3 429.8 126.0 424.8 C126.7 419.8 126.7 415.6 128.0 412.8 C129.3 410.0 131.0 408.5 134.0 408.2 C137.0 407.9 142.0 410.9 146.0 411.2 C150.0 411.5 153.3 409.9 158.0 409.8 C162.7 409.7 169.3 411.1 174.0 410.4 C178.7 409.7 182.0 406.8 186.0 405.8 C190.0 404.8 194.0 404.4 198.0 404.4 C202.0 404.4 206.0 406.6 210.0 405.8 C214.0 405.0 218.7 401.1 222.0 399.8 C225.3 398.5 226.8 398.0 230.0 397.8 C233.2 397.6 237.5 398.6 241.0 398.4 C244.5 398.2 247.0 397.5 251.0 396.8 C255.0 396.1 260.3 394.6 265.0 394.4 C269.7 394.2 274.3 396.1 279.0 395.8 C283.7 395.5 288.7 393.4 293.0 392.8 C297.3 392.2 301.0 393.0 305.0 392.4 C309.0 391.8 312.3 390.3 317.0 389.4 C321.7 388.5 327.7 387.6 333.0 386.8 C338.3 386.0 343.7 384.9 349.0 384.4 C354.3 383.9 359.8 384.1 365.0 383.8 C370.2 383.5 375.5 383.3 380.0 382.8 C384.5 382.3 388.3 381.6 392.0 380.8 C395.7 380.0 397.3 379.0 402.0 377.8 C406.7 376.6 414.0 375.0 420.0 373.8 C426.0 372.6 432.0 371.2 438.0 370.4 C444.0 369.6 450.7 369.5 456.0 369.2 C461.3 368.9 465.3 369.1 470.0 368.4 C474.7 367.7 479.3 366.1 484.0 364.8 C488.7 363.5 494.0 362.3 498.0 360.8 C502.0 359.3 504.3 358.0 508.0 355.8 C511.7 353.6 516.3 350.3 520.0 347.8 C523.7 345.3 526.7 343.0 530.0 340.8 C533.3 338.6 537.5 336.0 540.0 334.8 C542.5 333.6 542.2 335.0 545.0 333.8 C547.8 332.6 552.7 329.5 557.0 327.8 C561.3 326.1 566.0 325.1 571.0 323.8 C576.0 322.5 581.3 320.8 587.0 319.8 C592.7 318.8 598.7 318.6 605.0 317.8 C611.3 317.0 618.7 316.1 625.0 314.8 C631.3 313.5 637.3 311.3 643.0 309.8 C648.7 308.3 653.7 306.9 659.0 305.8 C664.3 304.7 671.0 303.7 675.0 303.2 C679.0 302.7 681.7 302.9 683.0 302.8 L684.4 302.8 L684.4 478.0 L74.0 478.0 L74.0 441.8 Z M189.6 56.0 C189.6 56.3 189.7 56.7 189.4 58.0 C189.1 59.3 188.9 61.7 188.0 64.0 C187.1 66.3 184.8 68.7 184.0 72.0 C183.2 75.3 184.3 80.7 183.0 84.0 C181.7 87.3 177.2 90.7 176.0 92.0 C177.0 92.3 179.7 92.5 182.0 94.0 C184.3 95.5 187.3 99.4 190.0 101.0 C192.7 102.6 195.0 103.8 198.0 103.6 C201.0 103.4 204.8 101.1 208.0 100.0 C211.2 98.9 214.2 97.3 217.0 97.0 C219.8 96.7 222.0 97.4 225.0 98.4 C228.0 99.4 231.0 102.1 235.0 103.0 C239.0 103.9 245.3 103.1 249.0 103.6 C252.7 104.1 254.8 104.8 257.0 106.0 C259.2 107.2 259.7 109.7 262.0 111.0 C264.3 112.3 267.5 113.4 271.0 114.0 C274.5 114.6 279.3 113.7 283.0 114.4 C286.7 115.1 289.3 117.0 293.0 118.0 C296.7 119.0 301.3 119.4 305.0 120.4 C308.7 121.4 311.0 122.7 315.0 124.0 C319.0 125.3 324.7 127.1 329.0 128.4 C333.3 129.7 336.7 131.0 341.0 131.6 C345.3 132.2 350.3 131.7 355.0 132.0 C359.7 132.3 364.8 133.1 369.0 133.6 C373.2 134.1 376.2 134.5 380.0 135.0 C383.8 135.5 388.3 135.7 392.0 136.4 C395.7 137.1 397.3 138.1 402.0 139.0 C406.7 139.9 414.0 141.0 420.0 142.0 C426.0 143.0 432.0 143.9 438.0 145.0 C444.0 146.1 450.7 147.6 456.0 148.4 C461.3 149.2 465.3 149.1 470.0 150.0 C474.7 150.9 479.3 152.4 484.0 154.0 C488.7 155.6 494.0 157.8 498.0 159.5 C502.0 161.2 504.3 162.6 508.0 164.5 C511.7 166.4 516.3 168.6 520.0 171.0 C523.7 173.4 526.7 176.5 530.0 179.0 C533.3 181.5 536.2 184.0 540.0 186.0 C543.8 188.0 548.8 189.0 553.0 191.0 C557.2 193.0 560.7 196.2 565.0 198.0 C569.3 199.8 574.0 201.1 579.0 202.0 C584.0 202.9 590.0 203.5 595.0 203.6 C600.0 203.7 604.7 202.6 609.0 202.4 C613.3 202.2 617.7 202.0 621.0 202.6 C624.3 203.2 626.3 204.8 629.0 206.0 C631.7 207.2 633.7 208.5 637.0 210.0 C640.3 211.5 644.7 213.3 649.0 215.0 C653.3 216.7 658.7 218.6 663.0 220.0 C667.3 221.4 671.7 222.9 675.0 223.6 C678.3 224.3 681.7 224.3 683.0 224.4 L684.4 224.4 L684.4 54.6 L189.6 54.6 Z M189.6 476.8 C189.6 476.5 189.7 476.1 189.4 474.8 C189.1 473.5 188.9 471.1 188.0 468.8 C187.1 466.5 184.8 464.1 184.0 460.8 C183.2 457.5 184.3 452.1 183.0 448.8 C181.7 445.5 177.2 442.1 176.0 440.8 C177.0 440.5 179.7 440.3 182.0 438.8 C184.3 437.3 187.3 433.4 190.0 431.8 C192.7 430.2 195.0 429.0 198.0 429.2 C201.0 429.4 204.8 431.7 208.0 432.8 C211.2 433.9 214.2 435.5 217.0 435.8 C219.8 436.1 222.0 435.4 225.0 434.4 C228.0 433.4 231.0 430.7 235.0 429.8 C239.0 428.9 245.3 429.7 249.0 429.2 C252.7 428.7 254.8 428.0 257.0 426.8 C259.2 425.6 259.7 423.1 262.0 421.8 C264.3 420.5 267.5 419.4 271.0 418.8 C274.5 418.2 279.3 419.1 283.0 418.4 C286.7 417.7 289.3 415.8 293.0 414.8 C296.7 413.8 301.3 413.4 305.0 412.4 C308.7 411.4 311.0 410.1 315.0 408.8 C319.0 407.5 324.7 405.7 329.0 404.4 C333.3 403.1 336.7 401.8 341.0 401.2 C345.3 400.6 350.3 401.1 355.0 400.8 C359.7 400.5 364.8 399.7 369.0 399.2 C373.2 398.7 376.2 398.3 380.0 397.8 C383.8 397.3 388.3 397.1 392.0 396.4 C395.7 395.7 397.3 394.7 402.0 393.8 C406.7 392.9 414.0 391.8 420.0 390.8 C426.0 389.8 432.0 388.9 438.0 387.8 C444.0 386.7 450.7 385.2 456.0 384.4 C461.3 383.6 465.3 383.7 470.0 382.8 C474.7 381.9 479.3 380.4 484.0 378.8 C488.7 377.2 494.0 375.0 498.0 373.3 C502.0 371.5 504.3 370.2 508.0 368.3 C511.7 366.4 516.3 364.2 520.0 361.8 C523.7 359.4 526.7 356.3 530.0 353.8 C533.3 351.3 536.2 348.8 540.0 346.8 C543.8 344.8 548.8 343.8 553.0 341.8 C557.2 339.8 560.7 336.6 565.0 334.8 C569.3 333.0 574.0 331.7 579.0 330.8 C584.0 329.9 590.0 329.3 595.0 329.2 C600.0 329.1 604.7 330.2 609.0 330.4 C613.3 330.6 617.7 330.8 621.0 330.2 C624.3 329.6 626.3 328.0 629.0 326.8 C631.7 325.6 633.7 324.3 637.0 322.8 C640.3 321.3 644.7 319.5 649.0 317.8 C653.3 316.1 658.7 314.2 663.0 312.8 C667.3 311.4 671.7 309.9 675.0 309.2 C678.3 308.5 681.7 308.5 683.0 308.4 L684.4 308.4 L684.4 478.0 L189.6 478.0 Z"/></clipPath>
<clipPath id="b5"><path clip-rule="evenodd" d="M189.6 56.0 C189.6 56.3 189.7 56.7 189.4 58.0 C189.1 59.3 188.9 61.7 188.0 64.0 C187.1 66.3 184.8 68.7 184.0 72.0 C183.2 75.3 184.3 80.7 183.0 84.0 C181.7 87.3 177.2 90.7 176.0 92.0 C177.0 92.3 179.7 92.5 182.0 94.0 C184.3 95.5 187.3 99.4 190.0 101.0 C192.7 102.6 195.0 103.8 198.0 103.6 C201.0 103.4 204.8 101.1 208.0 100.0 C211.2 98.9 214.2 97.3 217.0 97.0 C219.8 96.7 222.0 97.4 225.0 98.4 C228.0 99.4 231.0 102.1 235.0 103.0 C239.0 103.9 245.3 103.1 249.0 103.6 C252.7 104.1 254.8 104.8 257.0 106.0 C259.2 107.2 259.7 109.7 262.0 111.0 C264.3 112.3 267.5 113.4 271.0 114.0 C274.5 114.6 279.3 113.7 283.0 114.4 C286.7 115.1 289.3 117.0 293.0 118.0 C296.7 119.0 301.3 119.4 305.0 120.4 C308.7 121.4 311.0 122.7 315.0 124.0 C319.0 125.3 324.7 127.1 329.0 128.4 C333.3 129.7 336.7 131.0 341.0 131.6 C345.3 132.2 350.3 131.7 355.0 132.0 C359.7 132.3 364.8 133.1 369.0 133.6 C373.2 134.1 376.2 134.5 380.0 135.0 C383.8 135.5 388.3 135.7 392.0 136.4 C395.7 137.1 397.3 138.1 402.0 139.0 C406.7 139.9 414.0 141.0 420.0 142.0 C426.0 143.0 432.0 143.9 438.0 145.0 C444.0 146.1 450.7 147.6 456.0 148.4 C461.3 149.2 465.3 149.1 470.0 150.0 C474.7 150.9 479.3 152.4 484.0 154.0 C488.7 155.6 494.0 157.8 498.0 159.5 C502.0 161.2 504.3 162.6 508.0 164.5 C511.7 166.4 516.3 168.6 520.0 171.0 C523.7 173.4 526.7 176.5 530.0 179.0 C533.3 181.5 536.2 184.0 540.0 186.0 C543.8 188.0 548.8 189.0 553.0 191.0 C557.2 193.0 560.7 196.2 565.0 198.0 C569.3 199.8 574.0 201.1 579.0 202.0 C584.0 202.9 590.0 203.5 595.0 203.6 C600.0 203.7 604.7 202.6 609.0 202.4 C613.3 202.2 617.7 202.0 621.0 202.6 C624.3 203.2 626.3 204.8 629.0 206.0 C631.7 207.2 633.7 208.5 637.0 210.0 C640.3 211.5 644.7 213.3 649.0 215.0 C653.3 216.7 658.7 218.6 663.0 220.0 C667.3 221.4 671.7 222.9 675.0 223.6 C678.3 224.3 681.7 224.3 683.0 224.4 L684.4 224.4 L684.4 54.6 L189.6 54.6 Z M189.6 476.8 C189.6 476.5 189.7 476.1 189.4 474.8 C189.1 473.5 188.9 471.1 188.0 468.8 C187.1 466.5 184.8 464.1 184.0 460.8 C183.2 457.5 184.3 452.1 183.0 448.8 C181.7 445.5 177.2 442.1 176.0 440.8 C177.0 440.5 179.7 440.3 182.0 438.8 C184.3 437.3 187.3 433.4 190.0 431.8 C192.7 430.2 195.0 429.0 198.0 429.2 C201.0 429.4 204.8 431.7 208.0 432.8 C211.2 433.9 214.2 435.5 217.0 435.8 C219.8 436.1 222.0 435.4 225.0 434.4 C228.0 433.4 231.0 430.7 235.0 429.8 C239.0 428.9 245.3 429.7 249.0 429.2 C252.7 428.7 254.8 428.0 257.0 426.8 C259.2 425.6 259.7 423.1 262.0 421.8 C264.3 420.5 267.5 419.4 271.0 418.8 C274.5 418.2 279.3 419.1 283.0 418.4 C286.7 417.7 289.3 415.8 293.0 414.8 C296.7 413.8 301.3 413.4 305.0 412.4 C308.7 411.4 311.0 410.1 315.0 408.8 C319.0 407.5 324.7 405.7 329.0 404.4 C333.3 403.1 336.7 401.8 341.0 401.2 C345.3 400.6 350.3 401.1 355.0 400.8 C359.7 400.5 364.8 399.7 369.0 399.2 C373.2 398.7 376.2 398.3 380.0 397.8 C383.8 397.3 388.3 397.1 392.0 396.4 C395.7 395.7 397.3 394.7 402.0 393.8 C406.7 392.9 414.0 391.8 420.0 390.8 C426.0 389.8 432.0 388.9 438.0 387.8 C444.0 386.7 450.7 385.2 456.0 384.4 C461.3 383.6 465.3 383.7 470.0 382.8 C474.7 381.9 479.3 380.4 484.0 378.8 C488.7 377.2 494.0 375.0 498.0 373.3 C502.0 371.5 504.3 370.2 508.0 368.3 C511.7 366.4 516.3 364.2 520.0 361.8 C523.7 359.4 526.7 356.3 530.0 353.8 C533.3 351.3 536.2 348.8 540.0 346.8 C543.8 344.8 548.8 343.8 553.0 341.8 C557.2 339.8 560.7 336.6 565.0 334.8 C569.3 333.0 574.0 331.7 579.0 330.8 C584.0 329.9 590.0 329.3 595.0 329.2 C600.0 329.1 604.7 330.2 609.0 330.4 C613.3 330.6 617.7 330.8 621.0 330.2 C624.3 329.6 626.3 328.0 629.0 326.8 C631.7 325.6 633.7 324.3 637.0 322.8 C640.3 321.3 644.7 319.5 649.0 317.8 C653.3 316.1 658.7 314.2 663.0 312.8 C667.3 311.4 671.7 309.9 675.0 309.2 C678.3 308.5 681.7 308.5 683.0 308.4 L684.4 308.4 L684.4 478.0 L189.6 478.0 Z M265.0 56.0 C265.2 56.3 265.0 56.3 266.0 58.0 C267.0 59.7 268.5 63.3 271.0 66.0 C273.5 68.7 278.0 71.3 281.0 74.0 C284.0 76.7 286.8 79.0 289.0 82.0 C291.2 85.0 292.3 89.7 294.0 92.0 C295.7 94.3 296.2 94.4 299.0 95.6 C301.8 96.8 306.7 97.6 311.0 99.0 C315.3 100.4 320.7 102.7 325.0 104.0 C329.3 105.3 333.0 106.2 337.0 107.0 C341.0 107.8 344.3 108.7 349.0 109.0 C353.7 109.3 360.3 108.4 365.0 108.6 C369.7 108.8 373.7 109.4 377.0 110.0 C380.3 110.6 382.8 111.6 385.0 112.4 C387.2 113.2 387.2 113.9 390.0 115.0 C392.8 116.1 397.0 117.4 402.0 119.0 C407.0 120.6 414.0 122.9 420.0 124.4 C426.0 125.9 432.3 126.7 438.0 128.0 C443.7 129.3 448.7 130.5 454.0 132.0 C459.3 133.5 465.0 135.5 470.0 137.0 C475.0 138.5 479.3 139.4 484.0 141.0 C488.7 142.6 493.7 144.6 498.0 146.5 C502.3 148.4 505.7 150.4 510.0 152.5 C514.3 154.6 520.3 157.1 524.0 159.0 C527.7 160.9 529.3 162.2 532.0 164.0 C534.7 165.8 537.8 168.0 540.0 169.5 C542.2 171.0 542.2 171.2 545.0 173.0 C547.8 174.8 553.0 178.1 557.0 180.0 C561.0 181.9 565.7 183.7 569.0 184.4 C572.3 185.1 574.7 185.4 577.0 184.0 C579.3 182.6 580.3 178.3 583.0 176.0 C585.7 173.7 588.7 171.7 593.0 170.0 C597.3 168.3 604.0 166.3 609.0 165.6 C614.0 164.9 618.3 165.0 623.0 165.6 C627.7 166.2 633.0 167.6 637.0 169.0 C641.0 170.4 644.7 171.5 647.0 174.0 C649.3 176.5 649.9 180.8 651.0 184.0 C652.1 187.2 653.4 189.8 653.4 193.0 C653.4 196.2 651.1 200.5 651.0 203.0 C650.9 205.5 651.0 206.3 653.0 208.0 C655.0 209.7 659.3 211.3 663.0 213.0 C666.7 214.7 671.7 216.9 675.0 218.0 C678.3 219.1 681.7 219.3 683.0 219.6 L684.4 219.6 L684.4 54.6 L265.0 54.6 Z M265.0 476.8 C265.2 476.5 265.0 476.5 266.0 474.8 C267.0 473.1 268.5 469.5 271.0 466.8 C273.5 464.1 278.0 461.5 281.0 458.8 C284.0 456.1 286.8 453.8 289.0 450.8 C291.2 447.8 292.3 443.1 294.0 440.8 C295.7 438.5 296.2 438.4 299.0 437.2 C301.8 436.0 306.7 435.2 311.0 433.8 C315.3 432.4 320.7 430.1 325.0 428.8 C329.3 427.5 333.0 426.6 337.0 425.8 C341.0 425.0 344.3 424.1 349.0 423.8 C353.7 423.5 360.3 424.4 365.0 424.2 C369.7 424.0 373.7 423.4 377.0 422.8 C380.3 422.2 382.8 421.2 385.0 420.4 C387.2 419.6 387.2 418.9 390.0 417.8 C392.8 416.7 397.0 415.4 402.0 413.8 C407.0 412.2 414.0 409.9 420.0 408.4 C426.0 406.9 432.3 406.1 438.0 404.8 C443.7 403.5 448.7 402.3 454.0 400.8 C459.3 399.3 465.0 397.3 470.0 395.8 C475.0 394.3 479.3 393.4 484.0 391.8 C488.7 390.2 493.7 388.2 498.0 386.3 C502.3 384.4 505.7 382.4 510.0 380.3 C514.3 378.2 520.3 375.7 524.0 373.8 C527.7 371.9 529.3 370.5 532.0 368.8 C534.7 367.0 537.8 364.8 540.0 363.3 C542.2 361.8 542.2 361.5 545.0 359.8 C547.8 358.0 553.0 354.7 557.0 352.8 C561.0 350.9 565.7 349.1 569.0 348.4 C572.3 347.7 574.7 347.4 577.0 348.8 C579.3 350.2 580.3 354.5 583.0 356.8 C585.7 359.1 588.7 361.1 593.0 362.8 C597.3 364.5 604.0 366.5 609.0 367.2 C614.0 367.9 618.3 367.8 623.0 367.2 C627.7 366.6 633.0 365.2 637.0 363.8 C641.0 362.4 644.7 361.3 647.0 358.8 C649.3 356.3 649.9 352.0 651.0 348.8 C652.1 345.6 653.4 343.0 653.4 339.8 C653.4 336.6 651.1 332.3 651.0 329.8 C650.9 327.3 651.0 326.5 653.0 324.8 C655.0 323.1 659.3 321.5 663.0 319.8 C666.7 318.1 671.7 315.9 675.0 314.8 C678.3 313.7 681.7 313.5 683.0 313.2 L684.4 313.2 L684.4 478.0 L265.0 478.0 Z"/></clipPath>
<clipPath id="b6"><path clip-rule="evenodd" d="M265.0 56.0 C265.2 56.3 265.0 56.3 266.0 58.0 C267.0 59.7 268.5 63.3 271.0 66.0 C273.5 68.7 278.0 71.3 281.0 74.0 C284.0 76.7 286.8 79.0 289.0 82.0 C291.2 85.0 292.3 89.7 294.0 92.0 C295.7 94.3 296.2 94.4 299.0 95.6 C301.8 96.8 306.7 97.6 311.0 99.0 C315.3 100.4 320.7 102.7 325.0 104.0 C329.3 105.3 333.0 106.2 337.0 107.0 C341.0 107.8 344.3 108.7 349.0 109.0 C353.7 109.3 360.3 108.4 365.0 108.6 C369.7 108.8 373.7 109.4 377.0 110.0 C380.3 110.6 382.8 111.6 385.0 112.4 C387.2 113.2 387.2 113.9 390.0 115.0 C392.8 116.1 397.0 117.4 402.0 119.0 C407.0 120.6 414.0 122.9 420.0 124.4 C426.0 125.9 432.3 126.7 438.0 128.0 C443.7 129.3 448.7 130.5 454.0 132.0 C459.3 133.5 465.0 135.5 470.0 137.0 C475.0 138.5 479.3 139.4 484.0 141.0 C488.7 142.6 493.7 144.6 498.0 146.5 C502.3 148.4 505.7 150.4 510.0 152.5 C514.3 154.6 520.3 157.1 524.0 159.0 C527.7 160.9 529.3 162.2 532.0 164.0 C534.7 165.8 537.8 168.0 540.0 169.5 C542.2 171.0 542.2 171.2 545.0 173.0 C547.8 174.8 553.0 178.1 557.0 180.0 C561.0 181.9 565.7 183.7 569.0 184.4 C572.3 185.1 574.7 185.4 577.0 184.0 C579.3 182.6 580.3 178.3 583.0 176.0 C585.7 173.7 588.7 171.7 593.0 170.0 C597.3 168.3 604.0 166.3 609.0 165.6 C614.0 164.9 618.3 165.0 623.0 165.6 C627.7 166.2 633.0 167.6 637.0 169.0 C641.0 170.4 644.7 171.5 647.0 174.0 C649.3 176.5 649.9 180.8 651.0 184.0 C652.1 187.2 653.4 189.8 653.4 193.0 C653.4 196.2 651.1 200.5 651.0 203.0 C650.9 205.5 651.0 206.3 653.0 208.0 C655.0 209.7 659.3 211.3 663.0 213.0 C666.7 214.7 671.7 216.9 675.0 218.0 C678.3 219.1 681.7 219.3 683.0 219.6 L684.4 219.6 L684.4 54.6 L265.0 54.6 Z M265.0 476.8 C265.2 476.5 265.0 476.5 266.0 474.8 C267.0 473.1 268.5 469.5 271.0 466.8 C273.5 464.1 278.0 461.5 281.0 458.8 C284.0 456.1 286.8 453.8 289.0 450.8 C291.2 447.8 292.3 443.1 294.0 440.8 C295.7 438.5 296.2 438.4 299.0 437.2 C301.8 436.0 306.7 435.2 311.0 433.8 C315.3 432.4 320.7 430.1 325.0 428.8 C329.3 427.5 333.0 426.6 337.0 425.8 C341.0 425.0 344.3 424.1 349.0 423.8 C353.7 423.5 360.3 424.4 365.0 424.2 C369.7 424.0 373.7 423.4 377.0 422.8 C380.3 422.2 382.8 421.2 385.0 420.4 C387.2 419.6 387.2 418.9 390.0 417.8 C392.8 416.7 397.0 415.4 402.0 413.8 C407.0 412.2 414.0 409.9 420.0 408.4 C426.0 406.9 432.3 406.1 438.0 404.8 C443.7 403.5 448.7 402.3 454.0 400.8 C459.3 399.3 465.0 397.3 470.0 395.8 C475.0 394.3 479.3 393.4 484.0 391.8 C488.7 390.2 493.7 388.2 498.0 386.3 C502.3 384.4 505.7 382.4 510.0 380.3 C514.3 378.2 520.3 375.7 524.0 373.8 C527.7 371.9 529.3 370.5 532.0 368.8 C534.7 367.0 537.8 364.8 540.0 363.3 C542.2 361.8 542.2 361.5 545.0 359.8 C547.8 358.0 553.0 354.7 557.0 352.8 C561.0 350.9 565.7 349.1 569.0 348.4 C572.3 347.7 574.7 347.4 577.0 348.8 C579.3 350.2 580.3 354.5 583.0 356.8 C585.7 359.1 588.7 361.1 593.0 362.8 C597.3 364.5 604.0 366.5 609.0 367.2 C614.0 367.9 618.3 367.8 623.0 367.2 C627.7 366.6 633.0 365.2 637.0 363.8 C641.0 362.4 644.7 361.3 647.0 358.8 C649.3 356.3 649.9 352.0 651.0 348.8 C652.1 345.6 653.4 343.0 653.4 339.8 C653.4 336.6 651.1 332.3 651.0 329.8 C650.9 327.3 651.0 326.5 653.0 324.8 C655.0 323.1 659.3 321.5 663.0 319.8 C666.7 318.1 671.7 315.9 675.0 314.8 C678.3 313.7 681.7 313.5 683.0 313.2 L684.4 313.2 L684.4 478.0 L265.0 478.0 Z M473.0 56.0 C472.7 56.3 473.2 56.5 471.0 58.0 C468.8 59.5 465.2 62.7 460.0 65.0 C454.8 67.3 446.3 70.0 440.0 72.0 C433.7 74.0 427.7 73.7 422.0 77.0 C416.3 80.3 408.7 89.5 406.0 92.0 C409.0 93.8 418.3 100.5 424.0 103.0 C429.7 105.5 435.0 105.5 440.0 107.0 C445.0 108.5 449.0 110.0 454.0 112.0 C459.0 114.0 465.3 116.5 470.0 119.0 C474.7 121.5 477.3 124.5 482.0 127.0 C486.7 129.5 493.3 131.7 498.0 134.0 C502.7 136.3 505.7 139.0 510.0 141.0 C514.3 143.0 519.8 144.3 524.0 146.0 C528.2 147.7 531.5 148.8 535.0 151.0 C538.5 153.2 541.7 156.6 545.0 159.0 C548.3 161.4 551.3 164.0 555.0 165.6 C558.7 167.2 563.0 168.5 567.0 168.4 C571.0 168.3 575.7 166.4 579.0 165.0 C582.3 163.6 583.3 161.7 587.0 160.0 C590.7 158.3 596.3 156.0 601.0 155.0 C605.7 154.0 610.3 153.8 615.0 154.0 C619.7 154.2 624.3 155.0 629.0 156.0 C633.7 157.0 638.7 158.4 643.0 160.0 C647.3 161.6 650.3 163.8 655.0 165.6 C659.7 167.4 666.3 168.9 671.0 171.0 C675.7 173.1 681.0 176.8 683.0 178.0 L684.4 178.0 L684.4 54.6 L473.0 54.6 Z M473.0 476.8 C472.7 476.5 473.2 476.3 471.0 474.8 C468.8 473.3 465.2 470.1 460.0 467.8 C454.8 465.5 446.3 462.8 440.0 460.8 C433.7 458.8 427.7 459.1 422.0 455.8 C416.3 452.5 408.7 443.3 406.0 440.8 C409.0 439.0 418.3 432.3 424.0 429.8 C429.7 427.3 435.0 427.3 440.0 425.8 C445.0 424.3 449.0 422.8 454.0 420.8 C459.0 418.8 465.3 416.3 470.0 413.8 C474.7 411.3 477.3 408.3 482.0 405.8 C486.7 403.3 493.3 401.1 498.0 398.8 C502.7 396.5 505.7 393.8 510.0 391.8 C514.3 389.8 519.8 388.5 524.0 386.8 C528.2 385.1 531.5 384.0 535.0 381.8 C538.5 379.6 541.7 376.2 545.0 373.8 C548.3 371.4 551.3 368.8 555.0 367.2 C558.7 365.6 563.0 364.3 567.0 364.4 C571.0 364.5 575.7 366.4 579.0 367.8 C582.3 369.2 583.3 371.1 587.0 372.8 C590.7 374.5 596.3 376.8 601.0 377.8 C605.7 378.8 610.3 379.0 615.0 378.8 C619.7 378.6 624.3 377.8 629.0 376.8 C633.7 375.8 638.7 374.4 643.0 372.8 C647.3 371.2 650.3 369.0 655.0 367.2 C659.7 365.4 666.3 363.9 671.0 361.8 C675.7 359.7 681.0 356.0 683.0 354.8 L684.4 354.8 L684.4 478.0 L473.0 478.0 Z"/></clipPath>
<clipPath id="b7"><path clip-rule="evenodd" d="M473.0 56.0 C472.7 56.3 473.2 56.5 471.0 58.0 C468.8 59.5 465.2 62.7 460.0 65.0 C454.8 67.3 446.3 70.0 440.0 72.0 C433.7 74.0 427.7 73.7 422.0 77.0 C416.3 80.3 408.7 89.5 406.0 92.0 C409.0 93.8 418.3 100.5 424.0 103.0 C429.7 105.5 435.0 105.5 440.0 107.0 C445.0 108.5 449.0 110.0 454.0 112.0 C459.0 114.0 465.3 116.5 470.0 119.0 C474.7 121.5 477.3 124.5 482.0 127.0 C486.7 129.5 493.3 131.7 498.0 134.0 C502.7 136.3 505.7 139.0 510.0 141.0 C514.3 143.0 519.8 144.3 524.0 146.0 C528.2 147.7 531.5 148.8 535.0 151.0 C538.5 153.2 541.7 156.6 545.0 159.0 C548.3 161.4 551.3 164.0 555.0 165.6 C558.7 167.2 563.0 168.5 567.0 168.4 C571.0 168.3 575.7 166.4 579.0 165.0 C582.3 163.6 583.3 161.7 587.0 160.0 C590.7 158.3 596.3 156.0 601.0 155.0 C605.7 154.0 610.3 153.8 615.0 154.0 C619.7 154.2 624.3 155.0 629.0 156.0 C633.7 157.0 638.7 158.4 643.0 160.0 C647.3 161.6 650.3 163.8 655.0 165.6 C659.7 167.4 666.3 168.9 671.0 171.0 C675.7 173.1 681.0 176.8 683.0 178.0 L684.4 178.0 L684.4 54.6 L473.0 54.6 Z M473.0 476.8 C472.7 476.5 473.2 476.3 471.0 474.8 C468.8 473.3 465.2 470.1 460.0 467.8 C454.8 465.5 446.3 462.8 440.0 460.8 C433.7 458.8 427.7 459.1 422.0 455.8 C416.3 452.5 408.7 443.3 406.0 440.8 C409.0 439.0 418.3 432.3 424.0 429.8 C429.7 427.3 435.0 427.3 440.0 425.8 C445.0 424.3 449.0 422.8 454.0 420.8 C459.0 418.8 465.3 416.3 470.0 413.8 C474.7 411.3 477.3 408.3 482.0 405.8 C486.7 403.3 493.3 401.1 498.0 398.8 C502.7 396.5 505.7 393.8 510.0 391.8 C514.3 389.8 519.8 388.5 524.0 386.8 C528.2 385.1 531.5 384.0 535.0 381.8 C538.5 379.6 541.7 376.2 545.0 373.8 C548.3 371.4 551.3 368.8 555.0 367.2 C558.7 365.6 563.0 364.3 567.0 364.4 C571.0 364.5 575.7 366.4 579.0 367.8 C582.3 369.2 583.3 371.1 587.0 372.8 C590.7 374.5 596.3 376.8 601.0 377.8 C605.7 378.8 610.3 379.0 615.0 378.8 C619.7 378.6 624.3 377.8 629.0 376.8 C633.7 375.8 638.7 374.4 643.0 372.8 C647.3 371.2 650.3 369.0 655.0 367.2 C659.7 365.4 666.3 363.9 671.0 361.8 C675.7 359.7 681.0 356.0 683.0 354.8 L684.4 354.8 L684.4 478.0 L473.0 478.0 Z M517.0 56.0 C516.7 56.3 517.8 55.8 515.0 58.0 C512.2 60.2 504.8 65.3 500.0 69.0 C495.2 72.7 490.7 76.2 486.0 80.0 C481.3 83.8 474.3 90.0 472.0 92.0 C473.3 93.2 477.8 97.6 480.0 99.5 C482.2 101.4 482.1 101.2 485.0 103.5 C487.9 105.8 493.8 110.2 497.5 113.0 C501.2 115.8 504.8 118.2 507.0 120.5 C509.2 122.8 508.8 125.2 511.0 127.0 C513.2 128.8 516.0 129.8 520.0 131.5 C524.0 133.2 530.5 135.1 535.0 137.5 C539.5 139.9 543.3 143.6 547.0 146.0 C550.7 148.4 553.3 150.6 557.0 152.0 C560.7 153.4 565.0 154.7 569.0 154.4 C573.0 154.1 576.7 151.3 581.0 150.0 C585.3 148.7 589.3 147.2 595.0 146.4 C600.7 145.6 609.3 144.9 615.0 145.0 C620.7 145.1 624.3 145.8 629.0 147.0 C633.7 148.2 638.0 150.0 643.0 152.0 C648.0 154.0 654.0 157.1 659.0 159.0 C664.0 160.9 669.0 162.6 673.0 163.6 C677.0 164.6 681.3 164.8 683.0 165.0 L684.4 165.0 L684.4 54.6 L517.0 54.6 Z M517.0 476.8 C516.7 476.5 517.8 477.0 515.0 474.8 C512.2 472.6 504.8 467.5 500.0 463.8 C495.2 460.1 490.7 456.6 486.0 452.8 C481.3 449.0 474.3 442.8 472.0 440.8 C473.3 439.5 477.8 435.2 480.0 433.3 C482.2 431.4 482.1 431.5 485.0 429.3 C487.9 427.0 493.8 422.6 497.5 419.8 C501.2 417.0 504.8 414.6 507.0 412.3 C509.2 410.0 508.8 407.6 511.0 405.8 C513.2 404.0 516.0 403.0 520.0 401.3 C524.0 399.5 530.5 397.7 535.0 395.3 C539.5 392.9 543.3 389.2 547.0 386.8 C550.7 384.4 553.3 382.2 557.0 380.8 C560.7 379.4 565.0 378.1 569.0 378.4 C573.0 378.7 576.7 381.5 581.0 382.8 C585.3 384.1 589.3 385.6 595.0 386.4 C600.7 387.2 609.3 387.9 615.0 387.8 C620.7 387.7 624.3 387.0 629.0 385.8 C633.7 384.6 638.0 382.8 643.0 380.8 C648.0 378.8 654.0 375.7 659.0 373.8 C664.0 371.9 669.0 370.2 673.0 369.2 C677.0 368.2 681.3 368.0 683.0 367.8 L684.4 367.8 L684.4 478.0 L517.0 478.0 Z"/></clipPath>
<clipPath id="b8"><path clip-rule="evenodd" d="M517.0 56.0 C516.7 56.3 517.8 55.8 515.0 58.0 C512.2 60.2 504.8 65.3 500.0 69.0 C495.2 72.7 490.7 76.2 486.0 80.0 C481.3 83.8 474.3 90.0 472.0 92.0 C473.3 93.2 477.8 97.6 480.0 99.5 C482.2 101.4 482.1 101.2 485.0 103.5 C487.9 105.8 493.8 110.2 497.5 113.0 C501.2 115.8 504.8 118.2 507.0 120.5 C509.2 122.8 508.8 125.2 511.0 127.0 C513.2 128.8 516.0 129.8 520.0 131.5 C524.0 133.2 530.5 135.1 535.0 137.5 C539.5 139.9 543.3 143.6 547.0 146.0 C550.7 148.4 553.3 150.6 557.0 152.0 C560.7 153.4 565.0 154.7 569.0 154.4 C573.0 154.1 576.7 151.3 581.0 150.0 C585.3 148.7 589.3 147.2 595.0 146.4 C600.7 145.6 609.3 144.9 615.0 145.0 C620.7 145.1 624.3 145.8 629.0 147.0 C633.7 148.2 638.0 150.0 643.0 152.0 C648.0 154.0 654.0 157.1 659.0 159.0 C664.0 160.9 669.0 162.6 673.0 163.6 C677.0 164.6 681.3 164.8 683.0 165.0 L684.4 165.0 L684.4 54.6 L517.0 54.6 Z M517.0 476.8 C516.7 476.5 517.8 477.0 515.0 474.8 C512.2 472.6 504.8 467.5 500.0 463.8 C495.2 460.1 490.7 456.6 486.0 452.8 C481.3 449.0 474.3 442.8 472.0 440.8 C473.3 439.5 477.8 435.2 480.0 433.3 C482.2 431.4 482.1 431.5 485.0 429.3 C487.9 427.0 493.8 422.6 497.5 419.8 C501.2 417.0 504.8 414.6 507.0 412.3 C509.2 410.0 508.8 407.6 511.0 405.8 C513.2 404.0 516.0 403.0 520.0 401.3 C524.0 399.5 530.5 397.7 535.0 395.3 C539.5 392.9 543.3 389.2 547.0 386.8 C550.7 384.4 553.3 382.2 557.0 380.8 C560.7 379.4 565.0 378.1 569.0 378.4 C573.0 378.7 576.7 381.5 581.0 382.8 C585.3 384.1 589.3 385.6 595.0 386.4 C600.7 387.2 609.3 387.9 615.0 387.8 C620.7 387.7 624.3 387.0 629.0 385.8 C633.7 384.6 638.0 382.8 643.0 380.8 C648.0 378.8 654.0 375.7 659.0 373.8 C664.0 371.9 669.0 370.2 673.0 369.2 C677.0 368.2 681.3 368.0 683.0 367.8 L684.4 367.8 L684.4 478.0 L517.0 478.0 Z M545.0 56.0 C544.7 56.3 545.2 56.0 543.0 58.0 C540.8 60.0 535.8 64.3 532.0 68.0 C528.2 71.7 524.0 76.0 520.0 80.0 C516.0 84.0 510.0 90.0 508.0 92.0 C510.0 93.8 516.8 99.5 520.0 102.5 C523.2 105.5 525.0 107.2 527.5 110.0 C530.0 112.8 532.9 117.4 535.0 119.5 C537.1 121.6 538.0 120.9 540.0 122.5 C542.0 124.1 543.5 126.8 547.0 129.0 C550.5 131.2 556.3 134.3 561.0 136.0 C565.7 137.7 570.0 138.9 575.0 139.0 C580.0 139.1 585.0 137.2 591.0 136.4 C597.0 135.6 605.3 134.5 611.0 134.4 C616.7 134.3 620.3 134.9 625.0 136.0 C629.7 137.1 634.0 139.0 639.0 141.0 C644.0 143.0 650.0 146.0 655.0 148.0 C660.0 150.0 664.3 151.7 669.0 153.0 C673.7 154.3 680.7 155.2 683.0 155.6 L684.4 155.6 L684.4 54.6 L545.0 54.6 Z M545.0 476.8 C544.7 476.5 545.2 476.8 543.0 474.8 C540.8 472.8 535.8 468.5 532.0 464.8 C528.2 461.1 524.0 456.8 520.0 452.8 C516.0 448.8 510.0 442.8 508.0 440.8 C510.0 439.0 516.8 433.3 520.0 430.3 C523.2 427.3 525.0 425.6 527.5 422.8 C530.0 420.0 532.9 415.4 535.0 413.3 C537.1 411.2 538.0 411.9 540.0 410.3 C542.0 408.7 543.5 406.0 547.0 403.8 C550.5 401.5 556.3 398.5 561.0 396.8 C565.7 395.1 570.0 393.9 575.0 393.8 C580.0 393.7 585.0 395.6 591.0 396.4 C597.0 397.2 605.3 398.3 611.0 398.4 C616.7 398.5 620.3 397.9 625.0 396.8 C629.7 395.7 634.0 393.8 639.0 391.8 C644.0 389.8 650.0 386.8 655.0 384.8 C660.0 382.8 664.3 381.1 669.0 379.8 C673.7 378.5 680.7 377.6 683.0 377.2 L684.4 377.2 L684.4 478.0 L545.0 478.0 Z"/></clipPath>
<clipPath id="b9"><path clip-rule="evenodd" d="M545.0 56.0 C544.7 56.3 545.2 56.0 543.0 58.0 C540.8 60.0 535.8 64.3 532.0 68.0 C528.2 71.7 524.0 76.0 520.0 80.0 C516.0 84.0 510.0 90.0 508.0 92.0 C510.0 93.8 516.8 99.5 520.0 102.5 C523.2 105.5 525.0 107.2 527.5 110.0 C530.0 112.8 532.9 117.4 535.0 119.5 C537.1 121.6 538.0 120.9 540.0 122.5 C542.0 124.1 543.5 126.8 547.0 129.0 C550.5 131.2 556.3 134.3 561.0 136.0 C565.7 137.7 570.0 138.9 575.0 139.0 C580.0 139.1 585.0 137.2 591.0 136.4 C597.0 135.6 605.3 134.5 611.0 134.4 C616.7 134.3 620.3 134.9 625.0 136.0 C629.7 137.1 634.0 139.0 639.0 141.0 C644.0 143.0 650.0 146.0 655.0 148.0 C660.0 150.0 664.3 151.7 669.0 153.0 C673.7 154.3 680.7 155.2 683.0 155.6 L684.4 155.6 L684.4 54.6 L545.0 54.6 Z M545.0 476.8 C544.7 476.5 545.2 476.8 543.0 474.8 C540.8 472.8 535.8 468.5 532.0 464.8 C528.2 461.1 524.0 456.8 520.0 452.8 C516.0 448.8 510.0 442.8 508.0 440.8 C510.0 439.0 516.8 433.3 520.0 430.3 C523.2 427.3 525.0 425.6 527.5 422.8 C530.0 420.0 532.9 415.4 535.0 413.3 C537.1 411.2 538.0 411.9 540.0 410.3 C542.0 408.7 543.5 406.0 547.0 403.8 C550.5 401.5 556.3 398.5 561.0 396.8 C565.7 395.1 570.0 393.9 575.0 393.8 C580.0 393.7 585.0 395.6 591.0 396.4 C597.0 397.2 605.3 398.3 611.0 398.4 C616.7 398.5 620.3 397.9 625.0 396.8 C629.7 395.7 634.0 393.8 639.0 391.8 C644.0 389.8 650.0 386.8 655.0 384.8 C660.0 382.8 664.3 381.1 669.0 379.8 C673.7 378.5 680.7 377.6 683.0 377.2 L684.4 377.2 L684.4 478.0 L545.0 478.0 Z M572.0 56.0 C571.7 56.3 571.5 56.3 570.0 58.0 C568.5 59.7 566.2 63.5 563.0 66.0 C559.8 68.5 554.2 70.3 551.0 73.0 C547.8 75.7 546.0 78.8 544.0 82.0 C542.0 85.2 539.8 90.3 539.0 92.0 C539.7 94.0 541.0 100.7 543.0 104.0 C545.0 107.3 547.7 109.3 551.0 112.0 C554.3 114.7 558.7 117.5 563.0 120.0 C567.3 122.5 571.7 126.3 577.0 127.0 C582.3 127.7 588.7 124.8 595.0 124.0 C601.3 123.2 610.0 122.1 615.0 122.4 C620.0 122.7 621.0 124.0 625.0 125.6 C629.0 127.2 634.0 129.8 639.0 132.0 C644.0 134.2 650.0 136.8 655.0 139.0 C660.0 141.2 664.3 143.5 669.0 145.0 C673.7 146.5 680.7 147.5 683.0 148.0 L684.4 148.0 L684.4 54.6 L572.0 54.6 Z M572.0 476.8 C571.7 476.5 571.5 476.5 570.0 474.8 C568.5 473.1 566.2 469.3 563.0 466.8 C559.8 464.3 554.2 462.5 551.0 459.8 C547.8 457.1 546.0 454.0 544.0 450.8 C542.0 447.6 539.8 442.5 539.0 440.8 C539.7 438.8 541.0 432.1 543.0 428.8 C545.0 425.5 547.7 423.5 551.0 420.8 C554.3 418.1 558.7 415.3 563.0 412.8 C567.3 410.3 571.7 406.5 577.0 405.8 C582.3 405.1 588.7 408.0 595.0 408.8 C601.3 409.6 610.0 410.7 615.0 410.4 C620.0 410.1 621.0 408.8 625.0 407.2 C629.0 405.6 634.0 403.0 639.0 400.8 C644.0 398.6 650.0 396.0 655.0 393.8 C660.0 391.6 664.3 389.3 669.0 387.8 C673.7 386.3 680.7 385.3 683.0 384.8 L684.4 384.8 L684.4 478.0 L572.0 478.0 Z"/></clipPath>
<clipPath id="b10"><path clip-rule="evenodd" d="M572.0 56.0 C571.7 56.3 571.5 56.3 570.0 58.0 C568.5 59.7 566.2 63.5 563.0 66.0 C559.8 68.5 554.2 70.3 551.0 73.0 C547.8 75.7 546.0 78.8 544.0 82.0 C542.0 85.2 539.8 90.3 539.0 92.0 C539.7 94.0 541.0 100.7 543.0 104.0 C545.0 107.3 547.7 109.3 551.0 112.0 C554.3 114.7 558.7 117.5 563.0 120.0 C567.3 122.5 571.7 126.3 577.0 127.0 C582.3 127.7 588.7 124.8 595.0 124.0 C601.3 123.2 610.0 122.1 615.0 122.4 C620.0 122.7 621.0 124.0 625.0 125.6 C629.0 127.2 634.0 129.8 639.0 132.0 C644.0 134.2 650.0 136.8 655.0 139.0 C660.0 141.2 664.3 143.5 669.0 145.0 C673.7 146.5 680.7 147.5 683.0 148.0 L684.4 148.0 L684.4 54.6 L572.0 54.6 Z M572.0 476.8 C571.7 476.5 571.5 476.5 570.0 474.8 C568.5 473.1 566.2 469.3 563.0 466.8 C559.8 464.3 554.2 462.5 551.0 459.8 C547.8 457.1 546.0 454.0 544.0 450.8 C542.0 447.6 539.8 442.5 539.0 440.8 C539.7 438.8 541.0 432.1 543.0 428.8 C545.0 425.5 547.7 423.5 551.0 420.8 C554.3 418.1 558.7 415.3 563.0 412.8 C567.3 410.3 571.7 406.5 577.0 405.8 C582.3 405.1 588.7 408.0 595.0 408.8 C601.3 409.6 610.0 410.7 615.0 410.4 C620.0 410.1 621.0 408.8 625.0 407.2 C629.0 405.6 634.0 403.0 639.0 400.8 C644.0 398.6 650.0 396.0 655.0 393.8 C660.0 391.6 664.3 389.3 669.0 387.8 C673.7 386.3 680.7 385.3 683.0 384.8 L684.4 384.8 L684.4 478.0 L572.0 478.0 Z"/></clipPath>
</defs>
<g clip-path="url(#pc)">
<rect x="77" y="57.6" width="604.4" height="417.4" fill="#870000"/>
<path d="M77.0 200.0 C78.2 199.7 81.2 198.1 84.0 198.4 C86.8 198.7 90.0 201.2 94.0 202.0 C98.0 202.8 104.0 202.2 108.0 203.0 C112.0 203.8 114.5 206.2 118.0 207.0 C121.5 207.8 125.7 208.8 129.0 208.0 C132.3 207.2 135.2 203.2 138.0 202.0 C140.8 200.8 143.0 200.5 146.0 200.6 C149.0 200.7 151.3 202.4 156.0 202.4 C160.7 202.4 169.7 200.2 174.0 200.6 C178.3 201.0 179.3 204.2 182.0 205.0 C184.7 205.8 187.3 206.4 190.0 205.6 C192.7 204.8 195.0 201.5 198.0 200.0 C201.0 198.5 204.7 197.0 208.0 196.6 C211.3 196.2 215.2 197.3 218.0 197.4 C220.8 197.5 222.5 197.4 225.0 197.0 C227.5 196.6 229.7 195.5 233.0 195.0 C236.3 194.5 241.0 193.8 245.0 194.0 C249.0 194.2 252.3 195.4 257.0 196.0 C261.7 196.6 268.3 197.0 273.0 197.4 C277.7 197.8 281.3 197.8 285.0 198.4 C288.7 199.0 291.0 200.4 295.0 201.0 C299.0 201.6 304.7 201.6 309.0 202.0 C313.3 202.4 316.3 203.1 321.0 203.4 C325.7 203.7 332.3 203.8 337.0 203.6 C341.7 203.4 345.7 201.9 349.0 202.0 C352.3 202.1 353.7 202.9 357.0 204.0 C360.3 205.1 365.7 206.9 369.0 208.4 C372.3 209.9 374.3 211.5 377.0 213.0 C379.7 214.5 382.8 216.4 385.0 217.6 C387.2 218.8 387.2 218.9 390.0 220.0 C392.8 221.1 397.0 222.7 402.0 224.0 C407.0 225.3 414.7 227.1 420.0 228.0 C425.3 228.9 429.0 229.5 434.0 229.4 C439.0 229.3 444.3 227.9 450.0 227.4 C455.7 226.9 462.3 226.2 468.0 226.6 C473.7 227.0 479.0 228.7 484.0 230.0 C489.0 231.3 493.3 233.2 498.0 234.4 C502.7 235.6 507.0 236.2 512.0 237.0 C517.0 237.8 523.3 238.3 528.0 239.0 C532.7 239.7 536.8 240.4 540.0 241.0 C543.2 241.6 542.8 241.7 547.0 242.4 C551.2 243.1 558.7 244.6 565.0 245.0 C571.3 245.4 578.3 245.3 585.0 245.0 C591.7 244.7 599.0 243.2 605.0 243.0 C611.0 242.8 615.3 243.2 621.0 244.0 C626.7 244.8 633.3 246.7 639.0 248.0 C644.7 249.3 649.7 250.7 655.0 251.6 C660.3 252.5 666.3 253.4 671.0 253.6 C675.7 253.8 681.0 253.1 683.0 253.0 L684.4 253.0 L684.4 54.6 L74.0 54.6 L74.0 200.0 Z" fill="#f40000"/>
<path d="M77.0 332.8 C78.2 333.1 81.2 334.7 84.0 334.4 C86.8 334.1 90.0 331.6 94.0 330.8 C98.0 330.0 104.0 330.6 108.0 329.8 C112.0 329.0 114.5 326.6 118.0 325.8 C121.5 325.0 125.7 324.0 129.0 324.8 C132.3 325.6 135.2 329.6 138.0 330.8 C140.8 332.0 143.0 332.3 146.0 332.2 C149.0 332.1 151.3 330.4 156.0 330.4 C160.7 330.4 169.7 332.6 174.0 332.2 C178.3 331.8 179.3 328.6 182.0 327.8 C184.7 327.0 187.3 326.4 190.0 327.2 C192.7 328.0 195.0 331.3 198.0 332.8 C201.0 334.3 204.7 335.8 208.0 336.2 C211.3 336.6 215.2 335.5 218.0 335.4 C220.8 335.3 222.5 335.4 225.0 335.8 C227.5 336.2 229.7 337.3 233.0 337.8 C236.3 338.3 241.0 339.0 245.0 338.8 C249.0 338.6 252.3 337.4 257.0 336.8 C261.7 336.2 268.3 335.8 273.0 335.4 C277.7 335.0 281.3 335.0 285.0 334.4 C288.7 333.8 291.0 332.4 295.0 331.8 C299.0 331.2 304.7 331.2 309.0 330.8 C313.3 330.4 316.3 329.7 321.0 329.4 C325.7 329.1 332.3 329.0 337.0 329.2 C341.7 329.4 345.7 330.9 349.0 330.8 C352.3 330.7 353.7 329.9 357.0 328.8 C360.3 327.7 365.7 325.9 369.0 324.4 C372.3 322.9 374.3 321.3 377.0 319.8 C379.7 318.3 382.8 316.4 385.0 315.2 C387.2 314.0 387.2 313.9 390.0 312.8 C392.8 311.7 397.0 310.1 402.0 308.8 C407.0 307.5 414.7 305.7 420.0 304.8 C425.3 303.9 429.0 303.3 434.0 303.4 C439.0 303.5 444.3 304.9 450.0 305.4 C455.7 305.9 462.3 306.6 468.0 306.2 C473.7 305.8 479.0 304.1 484.0 302.8 C489.0 301.5 493.3 299.6 498.0 298.4 C502.7 297.2 507.0 296.6 512.0 295.8 C517.0 295.0 523.3 294.5 528.0 293.8 C532.7 293.1 536.8 292.4 540.0 291.8 C543.2 291.2 542.8 291.1 547.0 290.4 C551.2 289.7 558.7 288.2 565.0 287.8 C571.3 287.4 578.3 287.5 585.0 287.8 C591.7 288.1 599.0 289.6 605.0 289.8 C611.0 290.0 615.3 289.6 621.0 288.8 C626.7 288.0 633.3 286.1 639.0 284.8 C644.7 283.5 649.7 282.1 655.0 281.2 C660.3 280.3 666.3 279.4 671.0 279.2 C675.7 279.0 681.0 279.7 683.0 279.8 L684.4 279.8 L684.4 478.0 L74.0 478.0 L74.0 332.8 Z" fill="#f40000"/>
<path d="M77.0 163.0 C78.5 162.9 83.2 161.6 86.0 162.4 C88.8 163.2 90.3 166.6 94.0 168.0 C97.7 169.4 103.3 169.5 108.0 171.0 C112.7 172.5 118.3 176.2 122.0 177.0 C125.7 177.8 126.7 176.9 130.0 176.0 C133.3 175.1 138.0 171.7 142.0 171.4 C146.0 171.1 150.7 173.7 154.0 174.0 C157.3 174.3 159.0 173.9 162.0 173.4 C165.0 172.9 168.3 170.9 172.0 171.0 C175.7 171.1 180.7 173.3 184.0 174.0 C187.3 174.7 188.3 175.4 192.0 175.0 C195.7 174.6 201.8 171.7 206.0 171.6 C210.2 171.5 213.8 173.9 217.0 174.4 C220.2 174.9 222.3 174.7 225.0 174.5 C227.7 174.3 229.7 173.1 233.0 173.0 C236.3 172.9 241.0 173.4 245.0 174.0 C249.0 174.6 252.3 176.0 257.0 176.4 C261.7 176.8 267.7 176.3 273.0 176.4 C278.3 176.5 283.7 176.8 289.0 177.0 C294.3 177.2 299.7 177.2 305.0 177.4 C310.3 177.6 315.7 178.1 321.0 178.4 C326.3 178.7 331.7 179.0 337.0 179.0 C342.3 179.0 347.7 178.4 353.0 178.4 C358.3 178.4 363.7 178.7 369.0 179.0 C374.3 179.3 381.2 179.7 385.0 180.0 C388.8 180.3 389.2 180.5 392.0 181.0 C394.8 181.5 398.0 182.2 402.0 183.0 C406.0 183.8 411.7 184.6 416.0 186.0 C420.3 187.4 424.0 190.2 428.0 191.6 C432.0 193.0 435.3 193.9 440.0 194.4 C444.7 194.9 451.3 194.1 456.0 194.4 C460.7 194.7 464.3 194.7 468.0 196.0 C471.7 197.3 474.3 200.1 478.0 202.0 C481.7 203.9 485.7 206.1 490.0 207.6 C494.3 209.1 499.0 209.7 504.0 211.0 C509.0 212.3 515.3 214.3 520.0 215.6 C524.7 216.9 528.7 218.2 532.0 219.0 C535.3 219.8 537.5 219.9 540.0 220.4 C542.5 220.9 542.8 220.9 547.0 222.0 C551.2 223.1 558.7 225.7 565.0 227.0 C571.3 228.3 578.3 229.2 585.0 230.0 C591.7 230.8 598.3 231.2 605.0 232.0 C611.7 232.8 618.7 233.8 625.0 235.0 C631.3 236.2 637.3 237.8 643.0 239.0 C648.7 240.2 653.7 241.6 659.0 242.4 C664.3 243.2 671.0 243.8 675.0 244.0 C679.0 244.2 681.7 243.7 683.0 243.6 L684.4 243.6 L684.4 54.6 L74.0 54.6 L74.0 163.0 Z" fill="#ff5a08"/>
<path d="M77.0 369.8 C78.5 369.9 83.2 371.2 86.0 370.4 C88.8 369.6 90.3 366.2 94.0 364.8 C97.7 363.4 103.3 363.3 108.0 361.8 C112.7 360.3 118.3 356.6 122.0 355.8 C125.7 355.0 126.7 355.9 130.0 356.8 C133.3 357.7 138.0 361.1 142.0 361.4 C146.0 361.7 150.7 359.1 154.0 358.8 C157.3 358.5 159.0 358.9 162.0 359.4 C165.0 359.9 168.3 361.9 172.0 361.8 C175.7 361.7 180.7 359.5 184.0 358.8 C187.3 358.1 188.3 357.4 192.0 357.8 C195.7 358.2 201.8 361.1 206.0 361.2 C210.2 361.3 213.8 358.9 217.0 358.4 C220.2 357.9 222.3 358.1 225.0 358.3 C227.7 358.5 229.7 359.7 233.0 359.8 C236.3 359.9 241.0 359.4 245.0 358.8 C249.0 358.2 252.3 356.8 257.0 356.4 C261.7 356.0 267.7 356.5 273.0 356.4 C278.3 356.3 283.7 356.0 289.0 355.8 C294.3 355.6 299.7 355.6 305.0 355.4 C310.3 355.2 315.7 354.7 321.0 354.4 C326.3 354.1 331.7 353.8 337.0 353.8 C342.3 353.8 347.7 354.4 353.0 354.4 C358.3 354.4 363.7 354.1 369.0 353.8 C374.3 353.5 381.2 353.1 385.0 352.8 C388.8 352.5 389.2 352.3 392.0 351.8 C394.8 351.3 398.0 350.6 402.0 349.8 C406.0 349.0 411.7 348.2 416.0 346.8 C420.3 345.4 424.0 342.6 428.0 341.2 C432.0 339.8 435.3 338.9 440.0 338.4 C444.7 337.9 451.3 338.7 456.0 338.4 C460.7 338.1 464.3 338.1 468.0 336.8 C471.7 335.5 474.3 332.7 478.0 330.8 C481.7 328.9 485.7 326.7 490.0 325.2 C494.3 323.7 499.0 323.1 504.0 321.8 C509.0 320.5 515.3 318.5 520.0 317.2 C524.7 315.9 528.7 314.6 532.0 313.8 C535.3 313.0 537.5 312.9 540.0 312.4 C542.5 311.9 542.8 311.9 547.0 310.8 C551.2 309.7 558.7 307.1 565.0 305.8 C571.3 304.5 578.3 303.6 585.0 302.8 C591.7 302.0 598.3 301.6 605.0 300.8 C611.7 300.0 618.7 299.0 625.0 297.8 C631.3 296.6 637.3 295.0 643.0 293.8 C648.7 292.6 653.7 291.2 659.0 290.4 C664.3 289.6 671.0 289.0 675.0 288.8 C679.0 288.6 681.7 289.1 683.0 289.2 L684.4 289.2 L684.4 478.0 L74.0 478.0 L74.0 369.8 Z" fill="#ff5a08"/>
<path d="M77.0 132.0 C78.8 130.4 84.8 123.1 88.0 122.4 C91.2 121.7 92.3 126.2 96.0 128.0 C99.7 129.8 106.0 130.7 110.0 133.0 C114.0 135.3 117.0 139.3 120.0 142.0 C123.0 144.7 125.0 148.3 128.0 149.4 C131.0 150.5 134.3 148.8 138.0 148.4 C141.7 148.0 146.3 147.1 150.0 147.0 C153.7 146.9 156.3 148.1 160.0 148.0 C163.7 147.9 168.3 146.2 172.0 146.4 C175.7 146.6 178.3 148.6 182.0 149.4 C185.7 150.2 190.0 151.0 194.0 151.0 C198.0 151.0 202.0 149.1 206.0 149.6 C210.0 150.1 214.8 153.1 218.0 154.0 C221.2 154.9 221.2 155.2 225.0 155.0 C228.8 154.8 236.7 152.9 241.0 153.0 C245.3 153.1 247.0 154.7 251.0 155.4 C255.0 156.1 260.7 156.9 265.0 157.0 C269.3 157.1 272.7 155.8 277.0 156.0 C281.3 156.2 286.3 157.9 291.0 158.4 C295.7 158.9 300.3 158.6 305.0 159.0 C309.7 159.4 314.3 160.3 319.0 161.0 C323.7 161.7 328.7 162.6 333.0 163.0 C337.3 163.4 339.7 163.4 345.0 163.6 C350.3 163.8 359.2 163.7 365.0 164.0 C370.8 164.3 375.5 164.9 380.0 165.4 C384.5 165.9 388.3 166.5 392.0 167.0 C395.7 167.5 397.3 167.6 402.0 168.4 C406.7 169.2 414.0 171.0 420.0 172.0 C426.0 173.0 432.0 173.9 438.0 174.4 C444.0 174.9 450.7 174.8 456.0 175.0 C461.3 175.2 465.3 174.8 470.0 175.6 C474.7 176.4 479.3 178.2 484.0 179.6 C488.7 181.0 494.0 182.1 498.0 184.0 C502.0 185.9 504.3 188.3 508.0 191.0 C511.7 193.7 516.3 197.8 520.0 200.0 C523.7 202.2 526.7 202.7 530.0 204.0 C533.3 205.3 537.2 206.4 540.0 207.6 C542.8 208.8 542.8 209.3 547.0 211.0 C551.2 212.7 558.7 216.2 565.0 218.0 C571.3 219.8 578.3 221.0 585.0 222.0 C591.7 223.0 598.3 223.2 605.0 224.0 C611.7 224.8 618.7 225.8 625.0 227.0 C631.3 228.2 637.3 229.8 643.0 231.0 C648.7 232.2 653.7 233.2 659.0 234.0 C664.3 234.8 671.0 235.7 675.0 236.0 C679.0 236.3 681.7 235.7 683.0 235.6 L684.4 235.6 L684.4 54.6 L74.0 54.6 L74.0 132.0 Z" fill="#ffae00"/>
<path d="M77.0 400.8 C78.8 402.4 84.8 409.7 88.0 410.4 C91.2 411.1 92.3 406.6 96.0 404.8 C99.7 403.0 106.0 402.1 110.0 399.8 C114.0 397.5 117.0 393.5 120.0 390.8 C123.0 388.1 125.0 384.5 128.0 383.4 C131.0 382.3 134.3 384.0 138.0 384.4 C141.7 384.8 146.3 385.7 150.0 385.8 C153.7 385.9 156.3 384.7 160.0 384.8 C163.7 384.9 168.3 386.6 172.0 386.4 C175.7 386.2 178.3 384.2 182.0 383.4 C185.7 382.6 190.0 381.8 194.0 381.8 C198.0 381.8 202.0 383.7 206.0 383.2 C210.0 382.7 214.8 379.7 218.0 378.8 C221.2 377.9 221.2 377.6 225.0 377.8 C228.8 378.0 236.7 379.9 241.0 379.8 C245.3 379.7 247.0 378.1 251.0 377.4 C255.0 376.7 260.7 375.9 265.0 375.8 C269.3 375.7 272.7 377.0 277.0 376.8 C281.3 376.6 286.3 374.9 291.0 374.4 C295.7 373.9 300.3 374.2 305.0 373.8 C309.7 373.4 314.3 372.5 319.0 371.8 C323.7 371.1 328.7 370.2 333.0 369.8 C337.3 369.4 339.7 369.4 345.0 369.2 C350.3 369.0 359.2 369.1 365.0 368.8 C370.8 368.5 375.5 367.9 380.0 367.4 C384.5 366.9 388.3 366.3 392.0 365.8 C395.7 365.3 397.3 365.2 402.0 364.4 C406.7 363.6 414.0 361.8 420.0 360.8 C426.0 359.8 432.0 358.9 438.0 358.4 C444.0 357.9 450.7 358.0 456.0 357.8 C461.3 357.6 465.3 358.0 470.0 357.2 C474.7 356.4 479.3 354.6 484.0 353.2 C488.7 351.8 494.0 350.7 498.0 348.8 C502.0 346.9 504.3 344.5 508.0 341.8 C511.7 339.1 516.3 335.0 520.0 332.8 C523.7 330.6 526.7 330.1 530.0 328.8 C533.3 327.5 537.2 326.4 540.0 325.2 C542.8 324.0 542.8 323.5 547.0 321.8 C551.2 320.1 558.7 316.6 565.0 314.8 C571.3 313.0 578.3 311.8 585.0 310.8 C591.7 309.8 598.3 309.6 605.0 308.8 C611.7 308.0 618.7 307.0 625.0 305.8 C631.3 304.6 637.3 303.0 643.0 301.8 C648.7 300.6 653.7 299.6 659.0 298.8 C664.3 298.0 671.0 297.1 675.0 296.8 C679.0 296.5 681.7 297.1 683.0 297.2 L684.4 297.2 L684.4 478.0 L74.0 478.0 L74.0 400.8 Z" fill="#ffae00"/>
<path d="M77.0 91.0 C79.2 89.2 85.5 82.8 90.0 80.0 C94.5 77.2 99.7 75.5 104.0 74.4 C108.3 73.3 113.2 73.2 116.0 73.6 C118.8 74.0 119.7 74.3 121.0 77.0 C122.3 79.7 122.8 84.8 123.6 90.0 C124.4 95.2 125.3 103.0 126.0 108.0 C126.7 113.0 126.7 117.2 128.0 120.0 C129.3 122.8 131.0 124.3 134.0 124.6 C137.0 124.9 142.0 121.9 146.0 121.6 C150.0 121.3 153.3 122.9 158.0 123.0 C162.7 123.1 169.3 121.7 174.0 122.4 C178.7 123.1 182.0 126.0 186.0 127.0 C190.0 128.0 194.0 128.4 198.0 128.4 C202.0 128.4 206.0 126.2 210.0 127.0 C214.0 127.8 218.7 131.7 222.0 133.0 C225.3 134.3 226.8 134.8 230.0 135.0 C233.2 135.2 237.5 134.2 241.0 134.4 C244.5 134.6 247.0 135.3 251.0 136.0 C255.0 136.7 260.3 138.2 265.0 138.4 C269.7 138.6 274.3 136.7 279.0 137.0 C283.7 137.3 288.7 139.4 293.0 140.0 C297.3 140.6 301.0 139.8 305.0 140.4 C309.0 141.0 312.3 142.5 317.0 143.4 C321.7 144.3 327.7 145.2 333.0 146.0 C338.3 146.8 343.7 147.9 349.0 148.4 C354.3 148.9 359.8 148.7 365.0 149.0 C370.2 149.3 375.5 149.5 380.0 150.0 C384.5 150.5 388.3 151.2 392.0 152.0 C395.7 152.8 397.3 153.8 402.0 155.0 C406.7 156.2 414.0 157.8 420.0 159.0 C426.0 160.2 432.0 161.6 438.0 162.4 C444.0 163.2 450.7 163.3 456.0 163.6 C461.3 163.9 465.3 163.7 470.0 164.4 C474.7 165.1 479.3 166.7 484.0 168.0 C488.7 169.3 494.0 170.5 498.0 172.0 C502.0 173.5 504.3 174.8 508.0 177.0 C511.7 179.2 516.3 182.5 520.0 185.0 C523.7 187.5 526.7 189.8 530.0 192.0 C533.3 194.2 537.5 196.8 540.0 198.0 C542.5 199.2 542.2 197.8 545.0 199.0 C547.8 200.2 552.7 203.3 557.0 205.0 C561.3 206.7 566.0 207.7 571.0 209.0 C576.0 210.3 581.3 212.0 587.0 213.0 C592.7 214.0 598.7 214.2 605.0 215.0 C611.3 215.8 618.7 216.7 625.0 218.0 C631.3 219.3 637.3 221.5 643.0 223.0 C648.7 224.5 653.7 225.9 659.0 227.0 C664.3 228.1 671.0 229.1 675.0 229.6 C679.0 230.1 681.7 229.9 683.0 230.0 L684.4 230.0 L684.4 54.6 L74.0 54.6 L74.0 91.0 Z" fill="#e2ff1e"/>
<path d="M77.0 441.8 C79.2 443.6 85.5 450.0 90.0 452.8 C94.5 455.6 99.7 457.3 104.0 458.4 C108.3 459.5 113.2 459.6 116.0 459.2 C118.8 458.8 119.7 458.5 121.0 455.8 C122.3 453.1 122.8 448.0 123.6 442.8 C124.4 437.6 125.3 429.8 126.0 424.8 C126.7 419.8 126.7 415.6 128.0 412.8 C129.3 410.0 131.0 408.5 134.0 408.2 C137.0 407.9 142.0 410.9 146.0 411.2 C150.0 411.5 153.3 409.9 158.0 409.8 C162.7 409.7 169.3 411.1 174.0 410.4 C178.7 409.7 182.0 406.8 186.0 405.8 C190.0 404.8 194.0 404.4 198.0 404.4 C202.0 404.4 206.0 406.6 210.0 405.8 C214.0 405.0 218.7 401.1 222.0 399.8 C225.3 398.5 226.8 398.0 230.0 397.8 C233.2 397.6 237.5 398.6 241.0 398.4 C244.5 398.2 247.0 397.5 251.0 396.8 C255.0 396.1 260.3 394.6 265.0 394.4 C269.7 394.2 274.3 396.1 279.0 395.8 C283.7 395.5 288.7 393.4 293.0 392.8 C297.3 392.2 301.0 393.0 305.0 392.4 C309.0 391.8 312.3 390.3 317.0 389.4 C321.7 388.5 327.7 387.6 333.0 386.8 C338.3 386.0 343.7 384.9 349.0 384.4 C354.3 383.9 359.8 384.1 365.0 383.8 C370.2 383.5 375.5 383.3 380.0 382.8 C384.5 382.3 388.3 381.6 392.0 380.8 C395.7 380.0 397.3 379.0 402.0 377.8 C406.7 376.6 414.0 375.0 420.0 373.8 C426.0 372.6 432.0 371.2 438.0 370.4 C444.0 369.6 450.7 369.5 456.0 369.2 C461.3 368.9 465.3 369.1 470.0 368.4 C474.7 367.7 479.3 366.1 484.0 364.8 C488.7 363.5 494.0 362.3 498.0 360.8 C502.0 359.3 504.3 358.0 508.0 355.8 C511.7 353.6 516.3 350.3 520.0 347.8 C523.7 345.3 526.7 343.0 530.0 340.8 C533.3 338.6 537.5 336.0 540.0 334.8 C542.5 333.6 542.2 335.0 545.0 333.8 C547.8 332.6 552.7 329.5 557.0 327.8 C561.3 326.1 566.0 325.1 571.0 323.8 C576.0 322.5 581.3 320.8 587.0 319.8 C592.7 318.8 598.7 318.6 605.0 317.8 C611.3 317.0 618.7 316.1 625.0 314.8 C631.3 313.5 637.3 311.3 643.0 309.8 C648.7 308.3 653.7 306.9 659.0 305.8 C664.3 304.7 671.0 303.7 675.0 303.2 C679.0 302.7 681.7 302.9 683.0 302.8 L684.4 302.8 L684.4 478.0 L74.0 478.0 L74.0 441.8 Z" fill="#e2ff1e"/>
<path d="M189.6 56.0 C189.6 56.3 189.7 56.7 189.4 58.0 C189.1 59.3 188.9 61.7 188.0 64.0 C187.1 66.3 184.8 68.7 184.0 72.0 C183.2 75.3 184.3 80.7 183.0 84.0 C181.7 87.3 177.2 90.7 176.0 92.0 C177.0 92.3 179.7 92.5 182.0 94.0 C184.3 95.5 187.3 99.4 190.0 101.0 C192.7 102.6 195.0 103.8 198.0 103.6 C201.0 103.4 204.8 101.1 208.0 100.0 C211.2 98.9 214.2 97.3 217.0 97.0 C219.8 96.7 222.0 97.4 225.0 98.4 C228.0 99.4 231.0 102.1 235.0 103.0 C239.0 103.9 245.3 103.1 249.0 103.6 C252.7 104.1 254.8 104.8 257.0 106.0 C259.2 107.2 259.7 109.7 262.0 111.0 C264.3 112.3 267.5 113.4 271.0 114.0 C274.5 114.6 279.3 113.7 283.0 114.4 C286.7 115.1 289.3 117.0 293.0 118.0 C296.7 119.0 301.3 119.4 305.0 120.4 C308.7 121.4 311.0 122.7 315.0 124.0 C319.0 125.3 324.7 127.1 329.0 128.4 C333.3 129.7 336.7 131.0 341.0 131.6 C345.3 132.2 350.3 131.7 355.0 132.0 C359.7 132.3 364.8 133.1 369.0 133.6 C373.2 134.1 376.2 134.5 380.0 135.0 C383.8 135.5 388.3 135.7 392.0 136.4 C395.7 137.1 397.3 138.1 402.0 139.0 C406.7 139.9 414.0 141.0 420.0 142.0 C426.0 143.0 432.0 143.9 438.0 145.0 C444.0 146.1 450.7 147.6 456.0 148.4 C461.3 149.2 465.3 149.1 470.0 150.0 C474.7 150.9 479.3 152.4 484.0 154.0 C488.7 155.6 494.0 157.8 498.0 159.5 C502.0 161.2 504.3 162.6 508.0 164.5 C511.7 166.4 516.3 168.6 520.0 171.0 C523.7 173.4 526.7 176.5 530.0 179.0 C533.3 181.5 536.2 184.0 540.0 186.0 C543.8 188.0 548.8 189.0 553.0 191.0 C557.2 193.0 560.7 196.2 565.0 198.0 C569.3 199.8 574.0 201.1 579.0 202.0 C584.0 202.9 590.0 203.5 595.0 203.6 C600.0 203.7 604.7 202.6 609.0 202.4 C613.3 202.2 617.7 202.0 621.0 202.6 C624.3 203.2 626.3 204.8 629.0 206.0 C631.7 207.2 633.7 208.5 637.0 210.0 C640.3 211.5 644.7 213.3 649.0 215.0 C653.3 216.7 658.7 218.6 663.0 220.0 C667.3 221.4 671.7 222.9 675.0 223.6 C678.3 224.3 681.7 224.3 683.0 224.4 L684.4 224.4 L684.4 54.6 L189.6 54.6 Z" fill="#7eff82"/>
<path d="M189.6 476.8 C189.6 476.5 189.7 476.1 189.4 474.8 C189.1 473.5 188.9 471.1 188.0 468.8 C187.1 466.5 184.8 464.1 184.0 460.8 C183.2 457.5 184.3 452.1 183.0 448.8 C181.7 445.5 177.2 442.1 176.0 440.8 C177.0 440.5 179.7 440.3 182.0 438.8 C184.3 437.3 187.3 433.4 190.0 431.8 C192.7 430.2 195.0 429.0 198.0 429.2 C201.0 429.4 204.8 431.7 208.0 432.8 C211.2 433.9 214.2 435.5 217.0 435.8 C219.8 436.1 222.0 435.4 225.0 434.4 C228.0 433.4 231.0 430.7 235.0 429.8 C239.0 428.9 245.3 429.7 249.0 429.2 C252.7 428.7 254.8 428.0 257.0 426.8 C259.2 425.6 259.7 423.1 262.0 421.8 C264.3 420.5 267.5 419.4 271.0 418.8 C274.5 418.2 279.3 419.1 283.0 418.4 C286.7 417.7 289.3 415.8 293.0 414.8 C296.7 413.8 301.3 413.4 305.0 412.4 C308.7 411.4 311.0 410.1 315.0 408.8 C319.0 407.5 324.7 405.7 329.0 404.4 C333.3 403.1 336.7 401.8 341.0 401.2 C345.3 400.6 350.3 401.1 355.0 400.8 C359.7 400.5 364.8 399.7 369.0 399.2 C373.2 398.7 376.2 398.3 380.0 397.8 C383.8 397.3 388.3 397.1 392.0 396.4 C395.7 395.7 397.3 394.7 402.0 393.8 C406.7 392.9 414.0 391.8 420.0 390.8 C426.0 389.8 432.0 388.9 438.0 387.8 C444.0 386.7 450.7 385.2 456.0 384.4 C461.3 383.6 465.3 383.7 470.0 382.8 C474.7 381.9 479.3 380.4 484.0 378.8 C488.7 377.2 494.0 375.0 498.0 373.3 C502.0 371.5 504.3 370.2 508.0 368.3 C511.7 366.4 516.3 364.2 520.0 361.8 C523.7 359.4 526.7 356.3 530.0 353.8 C533.3 351.3 536.2 348.8 540.0 346.8 C543.8 344.8 548.8 343.8 553.0 341.8 C557.2 339.8 560.7 336.6 565.0 334.8 C569.3 333.0 574.0 331.7 579.0 330.8 C584.0 329.9 590.0 329.3 595.0 329.2 C600.0 329.1 604.7 330.2 609.0 330.4 C613.3 330.6 617.7 330.8 621.0 330.2 C624.3 329.6 626.3 328.0 629.0 326.8 C631.7 325.6 633.7 324.3 637.0 322.8 C640.3 321.3 644.7 319.5 649.0 317.8 C653.3 316.1 658.7 314.2 663.0 312.8 C667.3 311.4 671.7 309.9 675.0 309.2 C678.3 308.5 681.7 308.5 683.0 308.4 L684.4 308.4 L684.4 478.0 L189.6 478.0 Z" fill="#7eff82"/>
<path d="M265.0 56.0 C265.2 56.3 265.0 56.3 266.0 58.0 C267.0 59.7 268.5 63.3 271.0 66.0 C273.5 68.7 278.0 71.3 281.0 74.0 C284.0 76.7 286.8 79.0 289.0 82.0 C291.2 85.0 292.3 89.7 294.0 92.0 C295.7 94.3 296.2 94.4 299.0 95.6 C301.8 96.8 306.7 97.6 311.0 99.0 C315.3 100.4 320.7 102.7 325.0 104.0 C329.3 105.3 333.0 106.2 337.0 107.0 C341.0 107.8 344.3 108.7 349.0 109.0 C353.7 109.3 360.3 108.4 365.0 108.6 C369.7 108.8 373.7 109.4 377.0 110.0 C380.3 110.6 382.8 111.6 385.0 112.4 C387.2 113.2 387.2 113.9 390.0 115.0 C392.8 116.1 397.0 117.4 402.0 119.0 C407.0 120.6 414.0 122.9 420.0 124.4 C426.0 125.9 432.3 126.7 438.0 128.0 C443.7 129.3 448.7 130.5 454.0 132.0 C459.3 133.5 465.0 135.5 470.0 137.0 C475.0 138.5 479.3 139.4 484.0 141.0 C488.7 142.6 493.7 144.6 498.0 146.5 C502.3 148.4 505.7 150.4 510.0 152.5 C514.3 154.6 520.3 157.1 524.0 159.0 C527.7 160.9 529.3 162.2 532.0 164.0 C534.7 165.8 537.8 168.0 540.0 169.5 C542.2 171.0 542.2 171.2 545.0 173.0 C547.8 174.8 553.0 178.1 557.0 180.0 C561.0 181.9 565.7 183.7 569.0 184.4 C572.3 185.1 574.7 185.4 577.0 184.0 C579.3 182.6 580.3 178.3 583.0 176.0 C585.7 173.7 588.7 171.7 593.0 170.0 C597.3 168.3 604.0 166.3 609.0 165.6 C614.0 164.9 618.3 165.0 623.0 165.6 C627.7 166.2 633.0 167.6 637.0 169.0 C641.0 170.4 644.7 171.5 647.0 174.0 C649.3 176.5 649.9 180.8 651.0 184.0 C652.1 187.2 653.4 189.8 653.4 193.0 C653.4 196.2 651.1 200.5 651.0 203.0 C650.9 205.5 651.0 206.3 653.0 208.0 C655.0 209.7 659.3 211.3 663.0 213.0 C666.7 214.7 671.7 216.9 675.0 218.0 C678.3 219.1 681.7 219.3 683.0 219.6 L684.4 219.6 L684.4 54.6 L265.0 54.6 Z" fill="#1effe1"/>
<path d="M265.0 476.8 C265.2 476.5 265.0 476.5 266.0 474.8 C267.0 473.1 268.5 469.5 271.0 466.8 C273.5 464.1 278.0 461.5 281.0 458.8 C284.0 456.1 286.8 453.8 289.0 450.8 C291.2 447.8 292.3 443.1 294.0 440.8 C295.7 438.5 296.2 438.4 299.0 437.2 C301.8 436.0 306.7 435.2 311.0 433.8 C315.3 432.4 320.7 430.1 325.0 428.8 C329.3 427.5 333.0 426.6 337.0 425.8 C341.0 425.0 344.3 424.1 349.0 423.8 C353.7 423.5 360.3 424.4 365.0 424.2 C369.7 424.0 373.7 423.4 377.0 422.8 C380.3 422.2 382.8 421.2 385.0 420.4 C387.2 419.6 387.2 418.9 390.0 417.8 C392.8 416.7 397.0 415.4 402.0 413.8 C407.0 412.2 414.0 409.9 420.0 408.4 C426.0 406.9 432.3 406.1 438.0 404.8 C443.7 403.5 448.7 402.3 454.0 400.8 C459.3 399.3 465.0 397.3 470.0 395.8 C475.0 394.3 479.3 393.4 484.0 391.8 C488.7 390.2 493.7 388.2 498.0 386.3 C502.3 384.4 505.7 382.4 510.0 380.3 C514.3 378.2 520.3 375.7 524.0 373.8 C527.7 371.9 529.3 370.5 532.0 368.8 C534.7 367.0 537.8 364.8 540.0 363.3 C542.2 361.8 542.2 361.5 545.0 359.8 C547.8 358.0 553.0 354.7 557.0 352.8 C561.0 350.9 565.7 349.1 569.0 348.4 C572.3 347.7 574.7 347.4 577.0 348.8 C579.3 350.2 580.3 354.5 583.0 356.8 C585.7 359.1 588.7 361.1 593.0 362.8 C597.3 364.5 604.0 366.5 609.0 367.2 C614.0 367.9 618.3 367.8 623.0 367.2 C627.7 366.6 633.0 365.2 637.0 363.8 C641.0 362.4 644.7 361.3 647.0 358.8 C649.3 356.3 649.9 352.0 651.0 348.8 C652.1 345.6 653.4 343.0 653.4 339.8 C653.4 336.6 651.1 332.3 651.0 329.8 C650.9 327.3 651.0 326.5 653.0 324.8 C655.0 323.1 659.3 321.5 663.0 319.8 C666.7 318.1 671.7 315.9 675.0 314.8 C678.3 313.7 681.7 313.5 683.0 313.2 L684.4 313.2 L684.4 478.0 L265.0 478.0 Z" fill="#1effe1"/>
<path d="M473.0 56.0 C472.7 56.3 473.2 56.5 471.0 58.0 C468.8 59.5 465.2 62.7 460.0 65.0 C454.8 67.3 446.3 70.0 440.0 72.0 C433.7 74.0 427.7 73.7 422.0 77.0 C416.3 80.3 408.7 89.5 406.0 92.0 C409.0 93.8 418.3 100.5 424.0 103.0 C429.7 105.5 435.0 105.5 440.0 107.0 C445.0 108.5 449.0 110.0 454.0 112.0 C459.0 114.0 465.3 116.5 470.0 119.0 C474.7 121.5 477.3 124.5 482.0 127.0 C486.7 129.5 493.3 131.7 498.0 134.0 C502.7 136.3 505.7 139.0 510.0 141.0 C514.3 143.0 519.8 144.3 524.0 146.0 C528.2 147.7 531.5 148.8 535.0 151.0 C538.5 153.2 541.7 156.6 545.0 159.0 C548.3 161.4 551.3 164.0 555.0 165.6 C558.7 167.2 563.0 168.5 567.0 168.4 C571.0 168.3 575.7 166.4 579.0 165.0 C582.3 163.6 583.3 161.7 587.0 160.0 C590.7 158.3 596.3 156.0 601.0 155.0 C605.7 154.0 610.3 153.8 615.0 154.0 C619.7 154.2 624.3 155.0 629.0 156.0 C633.7 157.0 638.7 158.4 643.0 160.0 C647.3 161.6 650.3 163.8 655.0 165.6 C659.7 167.4 666.3 168.9 671.0 171.0 C675.7 173.1 681.0 176.8 683.0 178.0 L684.4 178.0 L684.4 54.6 L473.0 54.6 Z" fill="#00a8ff"/>
<path d="M473.0 476.8 C472.7 476.5 473.2 476.3 471.0 474.8 C468.8 473.3 465.2 470.1 460.0 467.8 C454.8 465.5 446.3 462.8 440.0 460.8 C433.7 458.8 427.7 459.1 422.0 455.8 C416.3 452.5 408.7 443.3 406.0 440.8 C409.0 439.0 418.3 432.3 424.0 429.8 C429.7 427.3 435.0 427.3 440.0 425.8 C445.0 424.3 449.0 422.8 454.0 420.8 C459.0 418.8 465.3 416.3 470.0 413.8 C474.7 411.3 477.3 408.3 482.0 405.8 C486.7 403.3 493.3 401.1 498.0 398.8 C502.7 396.5 505.7 393.8 510.0 391.8 C514.3 389.8 519.8 388.5 524.0 386.8 C528.2 385.1 531.5 384.0 535.0 381.8 C538.5 379.6 541.7 376.2 545.0 373.8 C548.3 371.4 551.3 368.8 555.0 367.2 C558.7 365.6 563.0 364.3 567.0 364.4 C571.0 364.5 575.7 366.4 579.0 367.8 C582.3 369.2 583.3 371.1 587.0 372.8 C590.7 374.5 596.3 376.8 601.0 377.8 C605.7 378.8 610.3 379.0 615.0 378.8 C619.7 378.6 624.3 377.8 629.0 376.8 C633.7 375.8 638.7 374.4 643.0 372.8 C647.3 371.2 650.3 369.0 655.0 367.2 C659.7 365.4 666.3 363.9 671.0 361.8 C675.7 359.7 681.0 356.0 683.0 354.8 L684.4 354.8 L684.4 478.0 L473.0 478.0 Z" fill="#00a8ff"/>
<path d="M517.0 56.0 C516.7 56.3 517.8 55.8 515.0 58.0 C512.2 60.2 504.8 65.3 500.0 69.0 C495.2 72.7 490.7 76.2 486.0 80.0 C481.3 83.8 474.3 90.0 472.0 92.0 C473.3 93.2 477.8 97.6 480.0 99.5 C482.2 101.4 482.1 101.2 485.0 103.5 C487.9 105.8 493.8 110.2 497.5 113.0 C501.2 115.8 504.8 118.2 507.0 120.5 C509.2 122.8 508.8 125.2 511.0 127.0 C513.2 128.8 516.0 129.8 520.0 131.5 C524.0 133.2 530.5 135.1 535.0 137.5 C539.5 139.9 543.3 143.6 547.0 146.0 C550.7 148.4 553.3 150.6 557.0 152.0 C560.7 153.4 565.0 154.7 569.0 154.4 C573.0 154.1 576.7 151.3 581.0 150.0 C585.3 148.7 589.3 147.2 595.0 146.4 C600.7 145.6 609.3 144.9 615.0 145.0 C620.7 145.1 624.3 145.8 629.0 147.0 C633.7 148.2 638.0 150.0 643.0 152.0 C648.0 154.0 654.0 157.1 659.0 159.0 C664.0 160.9 669.0 162.6 673.0 163.6 C677.0 164.6 681.3 164.8 683.0 165.0 L684.4 165.0 L684.4 54.6 L517.0 54.6 Z" fill="#0048ff"/>
<path d="M517.0 476.8 C516.7 476.5 517.8 477.0 515.0 474.8 C512.2 472.6 504.8 467.5 500.0 463.8 C495.2 460.1 490.7 456.6 486.0 452.8 C481.3 449.0 474.3 442.8 472.0 440.8 C473.3 439.5 477.8 435.2 480.0 433.3 C482.2 431.4 482.1 431.5 485.0 429.3 C487.9 427.0 493.8 422.6 497.5 419.8 C501.2 417.0 504.8 414.6 507.0 412.3 C509.2 410.0 508.8 407.6 511.0 405.8 C513.2 404.0 516.0 403.0 520.0 401.3 C524.0 399.5 530.5 397.7 535.0 395.3 C539.5 392.9 543.3 389.2 547.0 386.8 C550.7 384.4 553.3 382.2 557.0 380.8 C560.7 379.4 565.0 378.1 569.0 378.4 C573.0 378.7 576.7 381.5 581.0 382.8 C585.3 384.1 589.3 385.6 595.0 386.4 C600.7 387.2 609.3 387.9 615.0 387.8 C620.7 387.7 624.3 387.0 629.0 385.8 C633.7 384.6 638.0 382.8 643.0 380.8 C648.0 378.8 654.0 375.7 659.0 373.8 C664.0 371.9 669.0 370.2 673.0 369.2 C677.0 368.2 681.3 368.0 683.0 367.8 L684.4 367.8 L684.4 478.0 L517.0 478.0 Z" fill="#0048ff"/>
<path d="M545.0 56.0 C544.7 56.3 545.2 56.0 543.0 58.0 C540.8 60.0 535.8 64.3 532.0 68.0 C528.2 71.7 524.0 76.0 520.0 80.0 C516.0 84.0 510.0 90.0 508.0 92.0 C510.0 93.8 516.8 99.5 520.0 102.5 C523.2 105.5 525.0 107.2 527.5 110.0 C530.0 112.8 532.9 117.4 535.0 119.5 C537.1 121.6 538.0 120.9 540.0 122.5 C542.0 124.1 543.5 126.8 547.0 129.0 C550.5 131.2 556.3 134.3 561.0 136.0 C565.7 137.7 570.0 138.9 575.0 139.0 C580.0 139.1 585.0 137.2 591.0 136.4 C597.0 135.6 605.3 134.5 611.0 134.4 C616.7 134.3 620.3 134.9 625.0 136.0 C629.7 137.1 634.0 139.0 639.0 141.0 C644.0 143.0 650.0 146.0 655.0 148.0 C660.0 150.0 664.3 151.7 669.0 153.0 C673.7 154.3 680.7 155.2 683.0 155.6 L684.4 155.6 L684.4 54.6 L545.0 54.6 Z" fill="#0000e6"/>
<path d="M545.0 476.8 C544.7 476.5 545.2 476.8 543.0 474.8 C540.8 472.8 535.8 468.5 532.0 464.8 C528.2 461.1 524.0 456.8 520.0 452.8 C516.0 448.8 510.0 442.8 508.0 440.8 C510.0 439.0 516.8 433.3 520.0 430.3 C523.2 427.3 525.0 425.6 527.5 422.8 C530.0 420.0 532.9 415.4 535.0 413.3 C537.1 411.2 538.0 411.9 540.0 410.3 C542.0 408.7 543.5 406.0 547.0 403.8 C550.5 401.5 556.3 398.5 561.0 396.8 C565.7 395.1 570.0 393.9 575.0 393.8 C580.0 393.7 585.0 395.6 591.0 396.4 C597.0 397.2 605.3 398.3 611.0 398.4 C616.7 398.5 620.3 397.9 625.0 396.8 C629.7 395.7 634.0 393.8 639.0 391.8 C644.0 389.8 650.0 386.8 655.0 384.8 C660.0 382.8 664.3 381.1 669.0 379.8 C673.7 378.5 680.7 377.6 683.0 377.2 L684.4 377.2 L684.4 478.0 L545.0 478.0 Z" fill="#0000e6"/>
<path d="M572.0 56.0 C571.7 56.3 571.5 56.3 570.0 58.0 C568.5 59.7 566.2 63.5 563.0 66.0 C559.8 68.5 554.2 70.3 551.0 73.0 C547.8 75.7 546.0 78.8 544.0 82.0 C542.0 85.2 539.8 90.3 539.0 92.0 C539.7 94.0 541.0 100.7 543.0 104.0 C545.0 107.3 547.7 109.3 551.0 112.0 C554.3 114.7 558.7 117.5 563.0 120.0 C567.3 122.5 571.7 126.3 577.0 127.0 C582.3 127.7 588.7 124.8 595.0 124.0 C601.3 123.2 610.0 122.1 615.0 122.4 C620.0 122.7 621.0 124.0 625.0 125.6 C629.0 127.2 634.0 129.8 639.0 132.0 C644.0 134.2 650.0 136.8 655.0 139.0 C660.0 141.2 664.3 143.5 669.0 145.0 C673.7 146.5 680.7 147.5 683.0 148.0 L684.4 148.0 L684.4 54.6 L572.0 54.6 Z" fill="#000090"/>
<path d="M572.0 476.8 C571.7 476.5 571.5 476.5 570.0 474.8 C568.5 473.1 566.2 469.3 563.0 466.8 C559.8 464.3 554.2 462.5 551.0 459.8 C547.8 457.1 546.0 454.0 544.0 450.8 C542.0 447.6 539.8 442.5 539.0 440.8 C539.7 438.8 541.0 432.1 543.0 428.8 C545.0 425.5 547.7 423.5 551.0 420.8 C554.3 418.1 558.7 415.3 563.0 412.8 C567.3 410.3 571.7 406.5 577.0 405.8 C582.3 405.1 588.7 408.0 595.0 408.8 C601.3 409.6 610.0 410.7 615.0 410.4 C620.0 410.1 621.0 408.8 625.0 407.2 C629.0 405.6 634.0 403.0 639.0 400.8 C644.0 398.6 650.0 396.0 655.0 393.8 C660.0 391.6 664.3 389.3 669.0 387.8 C673.7 386.3 680.7 385.3 683.0 384.8 L684.4 384.8 L684.4 478.0 L572.0 478.0 Z" fill="#000090"/>
<path d="M75.0 56.0 L90.0 56.0 L89.0 58.0 L83.0 65.0 L77.0 70.0 L75.0 71.0 Z" fill="#7eff82"/>
<path d="M75.0 476.8 L90.0 476.8 L89.0 474.8 L83.0 467.8 L77.0 462.8 L75.0 461.8 Z" fill="#7eff82"/>
<path d="M328.0 56.0 C328.2 56.3 328.2 56.5 329.0 58.0 C329.8 59.5 331.0 63.0 333.0 65.0 C335.0 67.0 338.2 68.6 341.0 70.0 C343.8 71.4 347.5 73.4 350.0 73.6 C352.5 73.8 354.6 72.6 356.0 71.0 C357.4 69.4 358.1 66.5 358.6 64.0 C359.1 61.5 358.8 57.3 358.8 56.0 Z" fill="#00a8ff"/>
<path d="M328.0 476.8 C328.2 476.5 328.2 476.3 329.0 474.8 C329.8 473.3 331.0 469.8 333.0 467.8 C335.0 465.8 338.2 464.2 341.0 462.8 C343.8 461.4 347.5 459.4 350.0 459.2 C352.5 459.0 354.6 460.2 356.0 461.8 C357.4 463.4 358.1 466.3 358.6 468.8 C359.1 471.3 358.8 475.5 358.8 476.8 Z" fill="#00a8ff"/>
<path d="M386.0 56.0 C386.3 56.3 386.5 57.0 388.0 58.0 C389.5 59.0 392.7 60.9 395.0 62.0 C397.3 63.1 400.0 64.4 402.0 64.4 C404.0 64.4 405.3 63.1 407.0 62.0 C408.7 60.9 410.8 59.0 412.0 58.0 C413.2 57.0 413.7 56.3 414.0 56.0 Z" fill="#7eff82"/>
<path d="M386.0 476.8 C386.3 476.5 386.5 475.8 388.0 474.8 C389.5 473.8 392.7 471.9 395.0 470.8 C397.3 469.7 400.0 468.4 402.0 468.4 C404.0 468.4 405.3 469.7 407.0 470.8 C408.7 471.9 410.8 473.8 412.0 474.8 C413.2 475.8 413.7 476.5 414.0 476.8 Z" fill="#7eff82"/>
<path d="M77.0 200.0 C78.2 199.7 81.2 198.1 84.0 198.4 C86.8 198.7 90.0 201.2 94.0 202.0 C98.0 202.8 104.0 202.2 108.0 203.0 C112.0 203.8 114.5 206.2 118.0 207.0 C121.5 207.8 125.7 208.8 129.0 208.0 C132.3 207.2 135.2 203.2 138.0 202.0 C140.8 200.8 143.0 200.5 146.0 200.6 C149.0 200.7 151.3 202.4 156.0 202.4 C160.7 202.4 169.7 200.2 174.0 200.6 C178.3 201.0 179.3 204.2 182.0 205.0 C184.7 205.8 187.3 206.4 190.0 205.6 C192.7 204.8 195.0 201.5 198.0 200.0 C201.0 198.5 204.7 197.0 208.0 196.6 C211.3 196.2 215.2 197.3 218.0 197.4 C220.8 197.5 222.5 197.4 225.0 197.0 C227.5 196.6 229.7 195.5 233.0 195.0 C236.3 194.5 241.0 193.8 245.0 194.0 C249.0 194.2 252.3 195.4 257.0 196.0 C261.7 196.6 268.3 197.0 273.0 197.4 C277.7 197.8 281.3 197.8 285.0 198.4 C288.7 199.0 291.0 200.4 295.0 201.0 C299.0 201.6 304.7 201.6 309.0 202.0 C313.3 202.4 316.3 203.1 321.0 203.4 C325.7 203.7 332.3 203.8 337.0 203.6 C341.7 203.4 345.7 201.9 349.0 202.0 C352.3 202.1 353.7 202.9 357.0 204.0 C360.3 205.1 365.7 206.9 369.0 208.4 C372.3 209.9 374.3 211.5 377.0 213.0 C379.7 214.5 382.8 216.4 385.0 217.6 C387.2 218.8 387.2 218.9 390.0 220.0 C392.8 221.1 397.0 222.7 402.0 224.0 C407.0 225.3 414.7 227.1 420.0 228.0 C425.3 228.9 429.0 229.5 434.0 229.4 C439.0 229.3 444.3 227.9 450.0 227.4 C455.7 226.9 462.3 226.2 468.0 226.6 C473.7 227.0 479.0 228.7 484.0 230.0 C489.0 231.3 493.3 233.2 498.0 234.4 C502.7 235.6 507.0 236.2 512.0 237.0 C517.0 237.8 523.3 238.3 528.0 239.0 C532.7 239.7 536.8 240.4 540.0 241.0 C543.2 241.6 542.8 241.7 547.0 242.4 C551.2 243.1 558.7 244.6 565.0 245.0 C571.3 245.4 578.3 245.3 585.0 245.0 C591.7 244.7 599.0 243.2 605.0 243.0 C611.0 242.8 615.3 243.2 621.0 244.0 C626.7 244.8 633.3 246.7 639.0 248.0 C644.7 249.3 649.7 250.7 655.0 251.6 C660.3 252.5 666.3 253.4 671.0 253.6 C675.7 253.8 681.0 253.1 683.0 253.0" fill="none" stroke="#641c00" stroke-opacity="0.95" stroke-width="1.1" stroke-linejoin="round"/>
<path d="M77.0 332.8 C78.2 333.1 81.2 334.7 84.0 334.4 C86.8 334.1 90.0 331.6 94.0 330.8 C98.0 330.0 104.0 330.6 108.0 329.8 C112.0 329.0 114.5 326.6 118.0 325.8 C121.5 325.0 125.7 324.0 129.0 324.8 C132.3 325.6 135.2 329.6 138.0 330.8 C140.8 332.0 143.0 332.3 146.0 332.2 C149.0 332.1 151.3 330.4 156.0 330.4 C160.7 330.4 169.7 332.6 174.0 332.2 C178.3 331.8 179.3 328.6 182.0 327.8 C184.7 327.0 187.3 326.4 190.0 327.2 C192.7 328.0 195.0 331.3 198.0 332.8 C201.0 334.3 204.7 335.8 208.0 336.2 C211.3 336.6 215.2 335.5 218.0 335.4 C220.8 335.3 222.5 335.4 225.0 335.8 C227.5 336.2 229.7 337.3 233.0 337.8 C236.3 338.3 241.0 339.0 245.0 338.8 C249.0 338.6 252.3 337.4 257.0 336.8 C261.7 336.2 268.3 335.8 273.0 335.4 C277.7 335.0 281.3 335.0 285.0 334.4 C288.7 333.8 291.0 332.4 295.0 331.8 C299.0 331.2 304.7 331.2 309.0 330.8 C313.3 330.4 316.3 329.7 321.0 329.4 C325.7 329.1 332.3 329.0 337.0 329.2 C341.7 329.4 345.7 330.9 349.0 330.8 C352.3 330.7 353.7 329.9 357.0 328.8 C360.3 327.7 365.7 325.9 369.0 324.4 C372.3 322.9 374.3 321.3 377.0 319.8 C379.7 318.3 382.8 316.4 385.0 315.2 C387.2 314.0 387.2 313.9 390.0 312.8 C392.8 311.7 397.0 310.1 402.0 308.8 C407.0 307.5 414.7 305.7 420.0 304.8 C425.3 303.9 429.0 303.3 434.0 303.4 C439.0 303.5 444.3 304.9 450.0 305.4 C455.7 305.9 462.3 306.6 468.0 306.2 C473.7 305.8 479.0 304.1 484.0 302.8 C489.0 301.5 493.3 299.6 498.0 298.4 C502.7 297.2 507.0 296.6 512.0 295.8 C517.0 295.0 523.3 294.5 528.0 293.8 C532.7 293.1 536.8 292.4 540.0 291.8 C543.2 291.2 542.8 291.1 547.0 290.4 C551.2 289.7 558.7 288.2 565.0 287.8 C571.3 287.4 578.3 287.5 585.0 287.8 C591.7 288.1 599.0 289.6 605.0 289.8 C611.0 290.0 615.3 289.6 621.0 288.8 C626.7 288.0 633.3 286.1 639.0 284.8 C644.7 283.5 649.7 282.1 655.0 281.2 C660.3 280.3 666.3 279.4 671.0 279.2 C675.7 279.0 681.0 279.7 683.0 279.8" fill="none" stroke="#641c00" stroke-opacity="0.95" stroke-width="1.1" stroke-linejoin="round"/>
<path d="M77.0 163.0 C78.5 162.9 83.2 161.6 86.0 162.4 C88.8 163.2 90.3 166.6 94.0 168.0 C97.7 169.4 103.3 169.5 108.0 171.0 C112.7 172.5 118.3 176.2 122.0 177.0 C125.7 177.8 126.7 176.9 130.0 176.0 C133.3 175.1 138.0 171.7 142.0 171.4 C146.0 171.1 150.7 173.7 154.0 174.0 C157.3 174.3 159.0 173.9 162.0 173.4 C165.0 172.9 168.3 170.9 172.0 171.0 C175.7 171.1 180.7 173.3 184.0 174.0 C187.3 174.7 188.3 175.4 192.0 175.0 C195.7 174.6 201.8 171.7 206.0 171.6 C210.2 171.5 213.8 173.9 217.0 174.4 C220.2 174.9 222.3 174.7 225.0 174.5 C227.7 174.3 229.7 173.1 233.0 173.0 C236.3 172.9 241.0 173.4 245.0 174.0 C249.0 174.6 252.3 176.0 257.0 176.4 C261.7 176.8 267.7 176.3 273.0 176.4 C278.3 176.5 283.7 176.8 289.0 177.0 C294.3 177.2 299.7 177.2 305.0 177.4 C310.3 177.6 315.7 178.1 321.0 178.4 C326.3 178.7 331.7 179.0 337.0 179.0 C342.3 179.0 347.7 178.4 353.0 178.4 C358.3 178.4 363.7 178.7 369.0 179.0 C374.3 179.3 381.2 179.7 385.0 180.0 C388.8 180.3 389.2 180.5 392.0 181.0 C394.8 181.5 398.0 182.2 402.0 183.0 C406.0 183.8 411.7 184.6 416.0 186.0 C420.3 187.4 424.0 190.2 428.0 191.6 C432.0 193.0 435.3 193.9 440.0 194.4 C444.7 194.9 451.3 194.1 456.0 194.4 C460.7 194.7 464.3 194.7 468.0 196.0 C471.7 197.3 474.3 200.1 478.0 202.0 C481.7 203.9 485.7 206.1 490.0 207.6 C494.3 209.1 499.0 209.7 504.0 211.0 C509.0 212.3 515.3 214.3 520.0 215.6 C524.7 216.9 528.7 218.2 532.0 219.0 C535.3 219.8 537.5 219.9 540.0 220.4 C542.5 220.9 542.8 220.9 547.0 222.0 C551.2 223.1 558.7 225.7 565.0 227.0 C571.3 228.3 578.3 229.2 585.0 230.0 C591.7 230.8 598.3 231.2 605.0 232.0 C611.7 232.8 618.7 233.8 625.0 235.0 C631.3 236.2 637.3 237.8 643.0 239.0 C648.7 240.2 653.7 241.6 659.0 242.4 C664.3 243.2 671.0 243.8 675.0 244.0 C679.0 244.2 681.7 243.7 683.0 243.6" fill="none" stroke="#963600" stroke-opacity="0.95" stroke-width="1.1" stroke-linejoin="round"/>
<path d="M77.0 369.8 C78.5 369.9 83.2 371.2 86.0 370.4 C88.8 369.6 90.3 366.2 94.0 364.8 C97.7 363.4 103.3 363.3 108.0 361.8 C112.7 360.3 118.3 356.6 122.0 355.8 C125.7 355.0 126.7 355.9 130.0 356.8 C133.3 357.7 138.0 361.1 142.0 361.4 C146.0 361.7 150.7 359.1 154.0 358.8 C157.3 358.5 159.0 358.9 162.0 359.4 C165.0 359.9 168.3 361.9 172.0 361.8 C175.7 361.7 180.7 359.5 184.0 358.8 C187.3 358.1 188.3 357.4 192.0 357.8 C195.7 358.2 201.8 361.1 206.0 361.2 C210.2 361.3 213.8 358.9 217.0 358.4 C220.2 357.9 222.3 358.1 225.0 358.3 C227.7 358.5 229.7 359.7 233.0 359.8 C236.3 359.9 241.0 359.4 245.0 358.8 C249.0 358.2 252.3 356.8 257.0 356.4 C261.7 356.0 267.7 356.5 273.0 356.4 C278.3 356.3 283.7 356.0 289.0 355.8 C294.3 355.6 299.7 355.6 305.0 355.4 C310.3 355.2 315.7 354.7 321.0 354.4 C326.3 354.1 331.7 353.8 337.0 353.8 C342.3 353.8 347.7 354.4 353.0 354.4 C358.3 354.4 363.7 354.1 369.0 353.8 C374.3 353.5 381.2 353.1 385.0 352.8 C388.8 352.5 389.2 352.3 392.0 351.8 C394.8 351.3 398.0 350.6 402.0 349.8 C406.0 349.0 411.7 348.2 416.0 346.8 C420.3 345.4 424.0 342.6 428.0 341.2 C432.0 339.8 435.3 338.9 440.0 338.4 C444.7 337.9 451.3 338.7 456.0 338.4 C460.7 338.1 464.3 338.1 468.0 336.8 C471.7 335.5 474.3 332.7 478.0 330.8 C481.7 328.9 485.7 326.7 490.0 325.2 C494.3 323.7 499.0 323.1 504.0 321.8 C509.0 320.5 515.3 318.5 520.0 317.2 C524.7 315.9 528.7 314.6 532.0 313.8 C535.3 313.0 537.5 312.9 540.0 312.4 C542.5 311.9 542.8 311.9 547.0 310.8 C551.2 309.7 558.7 307.1 565.0 305.8 C571.3 304.5 578.3 303.6 585.0 302.8 C591.7 302.0 598.3 301.6 605.0 300.8 C611.7 300.0 618.7 299.0 625.0 297.8 C631.3 296.6 637.3 295.0 643.0 293.8 C648.7 292.6 653.7 291.2 659.0 290.4 C664.3 289.6 671.0 289.0 675.0 288.8 C679.0 288.6 681.7 289.1 683.0 289.2" fill="none" stroke="#963600" stroke-opacity="0.95" stroke-width="1.1" stroke-linejoin="round"/>
<path d="M77.0 132.0 C78.8 130.4 84.8 123.1 88.0 122.4 C91.2 121.7 92.3 126.2 96.0 128.0 C99.7 129.8 106.0 130.7 110.0 133.0 C114.0 135.3 117.0 139.3 120.0 142.0 C123.0 144.7 125.0 148.3 128.0 149.4 C131.0 150.5 134.3 148.8 138.0 148.4 C141.7 148.0 146.3 147.1 150.0 147.0 C153.7 146.9 156.3 148.1 160.0 148.0 C163.7 147.9 168.3 146.2 172.0 146.4 C175.7 146.6 178.3 148.6 182.0 149.4 C185.7 150.2 190.0 151.0 194.0 151.0 C198.0 151.0 202.0 149.1 206.0 149.6 C210.0 150.1 214.8 153.1 218.0 154.0 C221.2 154.9 221.2 155.2 225.0 155.0 C228.8 154.8 236.7 152.9 241.0 153.0 C245.3 153.1 247.0 154.7 251.0 155.4 C255.0 156.1 260.7 156.9 265.0 157.0 C269.3 157.1 272.7 155.8 277.0 156.0 C281.3 156.2 286.3 157.9 291.0 158.4 C295.7 158.9 300.3 158.6 305.0 159.0 C309.7 159.4 314.3 160.3 319.0 161.0 C323.7 161.7 328.7 162.6 333.0 163.0 C337.3 163.4 339.7 163.4 345.0 163.6 C350.3 163.8 359.2 163.7 365.0 164.0 C370.8 164.3 375.5 164.9 380.0 165.4 C384.5 165.9 388.3 166.5 392.0 167.0 C395.7 167.5 397.3 167.6 402.0 168.4 C406.7 169.2 414.0 171.0 420.0 172.0 C426.0 173.0 432.0 173.9 438.0 174.4 C444.0 174.9 450.7 174.8 456.0 175.0 C461.3 175.2 465.3 174.8 470.0 175.6 C474.7 176.4 479.3 178.2 484.0 179.6 C488.7 181.0 494.0 182.1 498.0 184.0 C502.0 185.9 504.3 188.3 508.0 191.0 C511.7 193.7 516.3 197.8 520.0 200.0 C523.7 202.2 526.7 202.7 530.0 204.0 C533.3 205.3 537.2 206.4 540.0 207.6 C542.8 208.8 542.8 209.3 547.0 211.0 C551.2 212.7 558.7 216.2 565.0 218.0 C571.3 219.8 578.3 221.0 585.0 222.0 C591.7 223.0 598.3 223.2 605.0 224.0 C611.7 224.8 618.7 225.8 625.0 227.0 C631.3 228.2 637.3 229.8 643.0 231.0 C648.7 232.2 653.7 233.2 659.0 234.0 C664.3 234.8 671.0 235.7 675.0 236.0 C679.0 236.3 681.7 235.7 683.0 235.6" fill="none" stroke="#864800" stroke-opacity="0.95" stroke-width="1.1" stroke-linejoin="round"/>
<path d="M77.0 400.8 C78.8 402.4 84.8 409.7 88.0 410.4 C91.2 411.1 92.3 406.6 96.0 404.8 C99.7 403.0 106.0 402.1 110.0 399.8 C114.0 397.5 117.0 393.5 120.0 390.8 C123.0 388.1 125.0 384.5 128.0 383.4 C131.0 382.3 134.3 384.0 138.0 384.4 C141.7 384.8 146.3 385.7 150.0 385.8 C153.7 385.9 156.3 384.7 160.0 384.8 C163.7 384.9 168.3 386.6 172.0 386.4 C175.7 386.2 178.3 384.2 182.0 383.4 C185.7 382.6 190.0 381.8 194.0 381.8 C198.0 381.8 202.0 383.7 206.0 383.2 C210.0 382.7 214.8 379.7 218.0 378.8 C221.2 377.9 221.2 377.6 225.0 377.8 C228.8 378.0 236.7 379.9 241.0 379.8 C245.3 379.7 247.0 378.1 251.0 377.4 C255.0 376.7 260.7 375.9 265.0 375.8 C269.3 375.7 272.7 377.0 277.0 376.8 C281.3 376.6 286.3 374.9 291.0 374.4 C295.7 373.9 300.3 374.2 305.0 373.8 C309.7 373.4 314.3 372.5 319.0 371.8 C323.7 371.1 328.7 370.2 333.0 369.8 C337.3 369.4 339.7 369.4 345.0 369.2 C350.3 369.0 359.2 369.1 365.0 368.8 C370.8 368.5 375.5 367.9 380.0 367.4 C384.5 366.9 388.3 366.3 392.0 365.8 C395.7 365.3 397.3 365.2 402.0 364.4 C406.7 363.6 414.0 361.8 420.0 360.8 C426.0 359.8 432.0 358.9 438.0 358.4 C444.0 357.9 450.7 358.0 456.0 357.8 C461.3 357.6 465.3 358.0 470.0 357.2 C474.7 356.4 479.3 354.6 484.0 353.2 C488.7 351.8 494.0 350.7 498.0 348.8 C502.0 346.9 504.3 344.5 508.0 341.8 C511.7 339.1 516.3 335.0 520.0 332.8 C523.7 330.6 526.7 330.1 530.0 328.8 C533.3 327.5 537.2 326.4 540.0 325.2 C542.8 324.0 542.8 323.5 547.0 321.8 C551.2 320.1 558.7 316.6 565.0 314.8 C571.3 313.0 578.3 311.8 585.0 310.8 C591.7 309.8 598.3 309.6 605.0 308.8 C611.7 308.0 618.7 307.0 625.0 305.8 C631.3 304.6 637.3 303.0 643.0 301.8 C648.7 300.6 653.7 299.6 659.0 298.8 C664.3 298.0 671.0 297.1 675.0 296.8 C679.0 296.5 681.7 297.1 683.0 297.2" fill="none" stroke="#864800" stroke-opacity="0.95" stroke-width="1.1" stroke-linejoin="round"/>
<path d="M77.0 91.0 C79.2 89.2 85.5 82.8 90.0 80.0 C94.5 77.2 99.7 75.5 104.0 74.4 C108.3 73.3 113.2 73.2 116.0 73.6 C118.8 74.0 119.7 74.3 121.0 77.0 C122.3 79.7 122.8 84.8 123.6 90.0 C124.4 95.2 125.3 103.0 126.0 108.0 C126.7 113.0 126.7 117.2 128.0 120.0 C129.3 122.8 131.0 124.3 134.0 124.6 C137.0 124.9 142.0 121.9 146.0 121.6 C150.0 121.3 153.3 122.9 158.0 123.0 C162.7 123.1 169.3 121.7 174.0 122.4 C178.7 123.1 182.0 126.0 186.0 127.0 C190.0 128.0 194.0 128.4 198.0 128.4 C202.0 128.4 206.0 126.2 210.0 127.0 C214.0 127.8 218.7 131.7 222.0 133.0 C225.3 134.3 226.8 134.8 230.0 135.0 C233.2 135.2 237.5 134.2 241.0 134.4 C244.5 134.6 247.0 135.3 251.0 136.0 C255.0 136.7 260.3 138.2 265.0 138.4 C269.7 138.6 274.3 136.7 279.0 137.0 C283.7 137.3 288.7 139.4 293.0 140.0 C297.3 140.6 301.0 139.8 305.0 140.4 C309.0 141.0 312.3 142.5 317.0 143.4 C321.7 144.3 327.7 145.2 333.0 146.0 C338.3 146.8 343.7 147.9 349.0 148.4 C354.3 148.9 359.8 148.7 365.0 149.0 C370.2 149.3 375.5 149.5 380.0 150.0 C384.5 150.5 388.3 151.2 392.0 152.0 C395.7 152.8 397.3 153.8 402.0 155.0 C406.7 156.2 414.0 157.8 420.0 159.0 C426.0 160.2 432.0 161.6 438.0 162.4 C444.0 163.2 450.7 163.3 456.0 163.6 C461.3 163.9 465.3 163.7 470.0 164.4 C474.7 165.1 479.3 166.7 484.0 168.0 C488.7 169.3 494.0 170.5 498.0 172.0 C502.0 173.5 504.3 174.8 508.0 177.0 C511.7 179.2 516.3 182.5 520.0 185.0 C523.7 187.5 526.7 189.8 530.0 192.0 C533.3 194.2 537.5 196.8 540.0 198.0 C542.5 199.2 542.2 197.8 545.0 199.0 C547.8 200.2 552.7 203.3 557.0 205.0 C561.3 206.7 566.0 207.7 571.0 209.0 C576.0 210.3 581.3 212.0 587.0 213.0 C592.7 214.0 598.7 214.2 605.0 215.0 C611.3 215.8 618.7 216.7 625.0 218.0 C631.3 219.3 637.3 221.5 643.0 223.0 C648.7 224.5 653.7 225.9 659.0 227.0 C664.3 228.1 671.0 229.1 675.0 229.6 C679.0 230.1 681.7 229.9 683.0 230.0" fill="none" stroke="#5e6c00" stroke-opacity="0.95" stroke-width="1.1" stroke-linejoin="round"/>
<path d="M77.0 441.8 C79.2 443.6 85.5 450.0 90.0 452.8 C94.5 455.6 99.7 457.3 104.0 458.4 C108.3 459.5 113.2 459.6 116.0 459.2 C118.8 458.8 119.7 458.5 121.0 455.8 C122.3 453.1 122.8 448.0 123.6 442.8 C124.4 437.6 125.3 429.8 126.0 424.8 C126.7 419.8 126.7 415.6 128.0 412.8 C129.3 410.0 131.0 408.5 134.0 408.2 C137.0 407.9 142.0 410.9 146.0 411.2 C150.0 411.5 153.3 409.9 158.0 409.8 C162.7 409.7 169.3 411.1 174.0 410.4 C178.7 409.7 182.0 406.8 186.0 405.8 C190.0 404.8 194.0 404.4 198.0 404.4 C202.0 404.4 206.0 406.6 210.0 405.8 C214.0 405.0 218.7 401.1 222.0 399.8 C225.3 398.5 226.8 398.0 230.0 397.8 C233.2 397.6 237.5 398.6 241.0 398.4 C244.5 398.2 247.0 397.5 251.0 396.8 C255.0 396.1 260.3 394.6 265.0 394.4 C269.7 394.2 274.3 396.1 279.0 395.8 C283.7 395.5 288.7 393.4 293.0 392.8 C297.3 392.2 301.0 393.0 305.0 392.4 C309.0 391.8 312.3 390.3 317.0 389.4 C321.7 388.5 327.7 387.6 333.0 386.8 C338.3 386.0 343.7 384.9 349.0 384.4 C354.3 383.9 359.8 384.1 365.0 383.8 C370.2 383.5 375.5 383.3 380.0 382.8 C384.5 382.3 388.3 381.6 392.0 380.8 C395.7 380.0 397.3 379.0 402.0 377.8 C406.7 376.6 414.0 375.0 420.0 373.8 C426.0 372.6 432.0 371.2 438.0 370.4 C444.0 369.6 450.7 369.5 456.0 369.2 C461.3 368.9 465.3 369.1 470.0 368.4 C474.7 367.7 479.3 366.1 484.0 364.8 C488.7 363.5 494.0 362.3 498.0 360.8 C502.0 359.3 504.3 358.0 508.0 355.8 C511.7 353.6 516.3 350.3 520.0 347.8 C523.7 345.3 526.7 343.0 530.0 340.8 C533.3 338.6 537.5 336.0 540.0 334.8 C542.5 333.6 542.2 335.0 545.0 333.8 C547.8 332.6 552.7 329.5 557.0 327.8 C561.3 326.1 566.0 325.1 571.0 323.8 C576.0 322.5 581.3 320.8 587.0 319.8 C592.7 318.8 598.7 318.6 605.0 317.8 C611.3 317.0 618.7 316.1 625.0 314.8 C631.3 313.5 637.3 311.3 643.0 309.8 C648.7 308.3 653.7 306.9 659.0 305.8 C664.3 304.7 671.0 303.7 675.0 303.2 C679.0 302.7 681.7 302.9 683.0 302.8" fill="none" stroke="#5e6c00" stroke-opacity="0.95" stroke-width="1.1" stroke-linejoin="round"/>
<path d="M189.6 56.0 C189.6 56.3 189.7 56.7 189.4 58.0 C189.1 59.3 188.9 61.7 188.0 64.0 C187.1 66.3 184.8 68.7 184.0 72.0 C183.2 75.3 184.3 80.7 183.0 84.0 C181.7 87.3 177.2 90.7 176.0 92.0 C177.0 92.3 179.7 92.5 182.0 94.0 C184.3 95.5 187.3 99.4 190.0 101.0 C192.7 102.6 195.0 103.8 198.0 103.6 C201.0 103.4 204.8 101.1 208.0 100.0 C211.2 98.9 214.2 97.3 217.0 97.0 C219.8 96.7 222.0 97.4 225.0 98.4 C228.0 99.4 231.0 102.1 235.0 103.0 C239.0 103.9 245.3 103.1 249.0 103.6 C252.7 104.1 254.8 104.8 257.0 106.0 C259.2 107.2 259.7 109.7 262.0 111.0 C264.3 112.3 267.5 113.4 271.0 114.0 C274.5 114.6 279.3 113.7 283.0 114.4 C286.7 115.1 289.3 117.0 293.0 118.0 C296.7 119.0 301.3 119.4 305.0 120.4 C308.7 121.4 311.0 122.7 315.0 124.0 C319.0 125.3 324.7 127.1 329.0 128.4 C333.3 129.7 336.7 131.0 341.0 131.6 C345.3 132.2 350.3 131.7 355.0 132.0 C359.7 132.3 364.8 133.1 369.0 133.6 C373.2 134.1 376.2 134.5 380.0 135.0 C383.8 135.5 388.3 135.7 392.0 136.4 C395.7 137.1 397.3 138.1 402.0 139.0 C406.7 139.9 414.0 141.0 420.0 142.0 C426.0 143.0 432.0 143.9 438.0 145.0 C444.0 146.1 450.7 147.6 456.0 148.4 C461.3 149.2 465.3 149.1 470.0 150.0 C474.7 150.9 479.3 152.4 484.0 154.0 C488.7 155.6 494.0 157.8 498.0 159.5 C502.0 161.2 504.3 162.6 508.0 164.5 C511.7 166.4 516.3 168.6 520.0 171.0 C523.7 173.4 526.7 176.5 530.0 179.0 C533.3 181.5 536.2 184.0 540.0 186.0 C543.8 188.0 548.8 189.0 553.0 191.0 C557.2 193.0 560.7 196.2 565.0 198.0 C569.3 199.8 574.0 201.1 579.0 202.0 C584.0 202.9 590.0 203.5 595.0 203.6 C600.0 203.7 604.7 202.6 609.0 202.4 C613.3 202.2 617.7 202.0 621.0 202.6 C624.3 203.2 626.3 204.8 629.0 206.0 C631.7 207.2 633.7 208.5 637.0 210.0 C640.3 211.5 644.7 213.3 649.0 215.0 C653.3 216.7 658.7 218.6 663.0 220.0 C667.3 221.4 671.7 222.9 675.0 223.6 C678.3 224.3 681.7 224.3 683.0 224.4" fill="none" stroke="#1e7418" stroke-opacity="0.95" stroke-width="1.1" stroke-linejoin="round"/>
<path d="M189.6 476.8 C189.6 476.5 189.7 476.1 189.4 474.8 C189.1 473.5 188.9 471.1 188.0 468.8 C187.1 466.5 184.8 464.1 184.0 460.8 C183.2 457.5 184.3 452.1 183.0 448.8 C181.7 445.5 177.2 442.1 176.0 440.8 C177.0 440.5 179.7 440.3 182.0 438.8 C184.3 437.3 187.3 433.4 190.0 431.8 C192.7 430.2 195.0 429.0 198.0 429.2 C201.0 429.4 204.8 431.7 208.0 432.8 C211.2 433.9 214.2 435.5 217.0 435.8 C219.8 436.1 222.0 435.4 225.0 434.4 C228.0 433.4 231.0 430.7 235.0 429.8 C239.0 428.9 245.3 429.7 249.0 429.2 C252.7 428.7 254.8 428.0 257.0 426.8 C259.2 425.6 259.7 423.1 262.0 421.8 C264.3 420.5 267.5 419.4 271.0 418.8 C274.5 418.2 279.3 419.1 283.0 418.4 C286.7 417.7 289.3 415.8 293.0 414.8 C296.7 413.8 301.3 413.4 305.0 412.4 C308.7 411.4 311.0 410.1 315.0 408.8 C319.0 407.5 324.7 405.7 329.0 404.4 C333.3 403.1 336.7 401.8 341.0 401.2 C345.3 400.6 350.3 401.1 355.0 400.8 C359.7 400.5 364.8 399.7 369.0 399.2 C373.2 398.7 376.2 398.3 380.0 397.8 C383.8 397.3 388.3 397.1 392.0 396.4 C395.7 395.7 397.3 394.7 402.0 393.8 C406.7 392.9 414.0 391.8 420.0 390.8 C426.0 389.8 432.0 388.9 438.0 387.8 C444.0 386.7 450.7 385.2 456.0 384.4 C461.3 383.6 465.3 383.7 470.0 382.8 C474.7 381.9 479.3 380.4 484.0 378.8 C488.7 377.2 494.0 375.0 498.0 373.3 C502.0 371.5 504.3 370.2 508.0 368.3 C511.7 366.4 516.3 364.2 520.0 361.8 C523.7 359.4 526.7 356.3 530.0 353.8 C533.3 351.3 536.2 348.8 540.0 346.8 C543.8 344.8 548.8 343.8 553.0 341.8 C557.2 339.8 560.7 336.6 565.0 334.8 C569.3 333.0 574.0 331.7 579.0 330.8 C584.0 329.9 590.0 329.3 595.0 329.2 C600.0 329.1 604.7 330.2 609.0 330.4 C613.3 330.6 617.7 330.8 621.0 330.2 C624.3 329.6 626.3 328.0 629.0 326.8 C631.7 325.6 633.7 324.3 637.0 322.8 C640.3 321.3 644.7 319.5 649.0 317.8 C653.3 316.1 658.7 314.2 663.0 312.8 C667.3 311.4 671.7 309.9 675.0 309.2 C678.3 308.5 681.7 308.5 683.0 308.4" fill="none" stroke="#1e7418" stroke-opacity="0.95" stroke-width="1.1" stroke-linejoin="round"/>
<path d="M265.0 56.0 C265.2 56.3 265.0 56.3 266.0 58.0 C267.0 59.7 268.5 63.3 271.0 66.0 C273.5 68.7 278.0 71.3 281.0 74.0 C284.0 76.7 286.8 79.0 289.0 82.0 C291.2 85.0 292.3 89.7 294.0 92.0 C295.7 94.3 296.2 94.4 299.0 95.6 C301.8 96.8 306.7 97.6 311.0 99.0 C315.3 100.4 320.7 102.7 325.0 104.0 C329.3 105.3 333.0 106.2 337.0 107.0 C341.0 107.8 344.3 108.7 349.0 109.0 C353.7 109.3 360.3 108.4 365.0 108.6 C369.7 108.8 373.7 109.4 377.0 110.0 C380.3 110.6 382.8 111.6 385.0 112.4 C387.2 113.2 387.2 113.9 390.0 115.0 C392.8 116.1 397.0 117.4 402.0 119.0 C407.0 120.6 414.0 122.9 420.0 124.4 C426.0 125.9 432.3 126.7 438.0 128.0 C443.7 129.3 448.7 130.5 454.0 132.0 C459.3 133.5 465.0 135.5 470.0 137.0 C475.0 138.5 479.3 139.4 484.0 141.0 C488.7 142.6 493.7 144.6 498.0 146.5 C502.3 148.4 505.7 150.4 510.0 152.5 C514.3 154.6 520.3 157.1 524.0 159.0 C527.7 160.9 529.3 162.2 532.0 164.0 C534.7 165.8 537.8 168.0 540.0 169.5 C542.2 171.0 542.2 171.2 545.0 173.0 C547.8 174.8 553.0 178.1 557.0 180.0 C561.0 181.9 565.7 183.7 569.0 184.4 C572.3 185.1 574.7 185.4 577.0 184.0 C579.3 182.6 580.3 178.3 583.0 176.0 C585.7 173.7 588.7 171.7 593.0 170.0 C597.3 168.3 604.0 166.3 609.0 165.6 C614.0 164.9 618.3 165.0 623.0 165.6 C627.7 166.2 633.0 167.6 637.0 169.0 C641.0 170.4 644.7 171.5 647.0 174.0 C649.3 176.5 649.9 180.8 651.0 184.0 C652.1 187.2 653.4 189.8 653.4 193.0 C653.4 196.2 651.1 200.5 651.0 203.0 C650.9 205.5 651.0 206.3 653.0 208.0 C655.0 209.7 659.3 211.3 663.0 213.0 C666.7 214.7 671.7 216.9 675.0 218.0 C678.3 219.1 681.7 219.3 683.0 219.6" fill="none" stroke="#0a7660" stroke-opacity="0.95" stroke-width="1.1" stroke-linejoin="round"/>
<path d="M265.0 476.8 C265.2 476.5 265.0 476.5 266.0 474.8 C267.0 473.1 268.5 469.5 271.0 466.8 C273.5 464.1 278.0 461.5 281.0 458.8 C284.0 456.1 286.8 453.8 289.0 450.8 C291.2 447.8 292.3 443.1 294.0 440.8 C295.7 438.5 296.2 438.4 299.0 437.2 C301.8 436.0 306.7 435.2 311.0 433.8 C315.3 432.4 320.7 430.1 325.0 428.8 C329.3 427.5 333.0 426.6 337.0 425.8 C341.0 425.0 344.3 424.1 349.0 423.8 C353.7 423.5 360.3 424.4 365.0 424.2 C369.7 424.0 373.7 423.4 377.0 422.8 C380.3 422.2 382.8 421.2 385.0 420.4 C387.2 419.6 387.2 418.9 390.0 417.8 C392.8 416.7 397.0 415.4 402.0 413.8 C407.0 412.2 414.0 409.9 420.0 408.4 C426.0 406.9 432.3 406.1 438.0 404.8 C443.7 403.5 448.7 402.3 454.0 400.8 C459.3 399.3 465.0 397.3 470.0 395.8 C475.0 394.3 479.3 393.4 484.0 391.8 C488.7 390.2 493.7 388.2 498.0 386.3 C502.3 384.4 505.7 382.4 510.0 380.3 C514.3 378.2 520.3 375.7 524.0 373.8 C527.7 371.9 529.3 370.5 532.0 368.8 C534.7 367.0 537.8 364.8 540.0 363.3 C542.2 361.8 542.2 361.5 545.0 359.8 C547.8 358.0 553.0 354.7 557.0 352.8 C561.0 350.9 565.7 349.1 569.0 348.4 C572.3 347.7 574.7 347.4 577.0 348.8 C579.3 350.2 580.3 354.5 583.0 356.8 C585.7 359.1 588.7 361.1 593.0 362.8 C597.3 364.5 604.0 366.5 609.0 367.2 C614.0 367.9 618.3 367.8 623.0 367.2 C627.7 366.6 633.0 365.2 637.0 363.8 C641.0 362.4 644.7 361.3 647.0 358.8 C649.3 356.3 649.9 352.0 651.0 348.8 C652.1 345.6 653.4 343.0 653.4 339.8 C653.4 336.6 651.1 332.3 651.0 329.8 C650.9 327.3 651.0 326.5 653.0 324.8 C655.0 323.1 659.3 321.5 663.0 319.8 C666.7 318.1 671.7 315.9 675.0 314.8 C678.3 313.7 681.7 313.5 683.0 313.2" fill="none" stroke="#0a7660" stroke-opacity="0.95" stroke-width="1.1" stroke-linejoin="round"/>
<path d="M473.0 56.0 C472.7 56.3 473.2 56.5 471.0 58.0 C468.8 59.5 465.2 62.7 460.0 65.0 C454.8 67.3 446.3 70.0 440.0 72.0 C433.7 74.0 427.7 73.7 422.0 77.0 C416.3 80.3 408.7 89.5 406.0 92.0 C409.0 93.8 418.3 100.5 424.0 103.0 C429.7 105.5 435.0 105.5 440.0 107.0 C445.0 108.5 449.0 110.0 454.0 112.0 C459.0 114.0 465.3 116.5 470.0 119.0 C474.7 121.5 477.3 124.5 482.0 127.0 C486.7 129.5 493.3 131.7 498.0 134.0 C502.7 136.3 505.7 139.0 510.0 141.0 C514.3 143.0 519.8 144.3 524.0 146.0 C528.2 147.7 531.5 148.8 535.0 151.0 C538.5 153.2 541.7 156.6 545.0 159.0 C548.3 161.4 551.3 164.0 555.0 165.6 C558.7 167.2 563.0 168.5 567.0 168.4 C571.0 168.3 575.7 166.4 579.0 165.0 C582.3 163.6 583.3 161.7 587.0 160.0 C590.7 158.3 596.3 156.0 601.0 155.0 C605.7 154.0 610.3 153.8 615.0 154.0 C619.7 154.2 624.3 155.0 629.0 156.0 C633.7 157.0 638.7 158.4 643.0 160.0 C647.3 161.6 650.3 163.8 655.0 165.6 C659.7 167.4 666.3 168.9 671.0 171.0 C675.7 173.1 681.0 176.8 683.0 178.0" fill="none" stroke="#04608c" stroke-opacity="0.95" stroke-width="1.1" stroke-linejoin="round"/>
<path d="M473.0 476.8 C472.7 476.5 473.2 476.3 471.0 474.8 C468.8 473.3 465.2 470.1 460.0 467.8 C454.8 465.5 446.3 462.8 440.0 460.8 C433.7 458.8 427.7 459.1 422.0 455.8 C416.3 452.5 408.7 443.3 406.0 440.8 C409.0 439.0 418.3 432.3 424.0 429.8 C429.7 427.3 435.0 427.3 440.0 425.8 C445.0 424.3 449.0 422.8 454.0 420.8 C459.0 418.8 465.3 416.3 470.0 413.8 C474.7 411.3 477.3 408.3 482.0 405.8 C486.7 403.3 493.3 401.1 498.0 398.8 C502.7 396.5 505.7 393.8 510.0 391.8 C514.3 389.8 519.8 388.5 524.0 386.8 C528.2 385.1 531.5 384.0 535.0 381.8 C538.5 379.6 541.7 376.2 545.0 373.8 C548.3 371.4 551.3 368.8 555.0 367.2 C558.7 365.6 563.0 364.3 567.0 364.4 C571.0 364.5 575.7 366.4 579.0 367.8 C582.3 369.2 583.3 371.1 587.0 372.8 C590.7 374.5 596.3 376.8 601.0 377.8 C605.7 378.8 610.3 379.0 615.0 378.8 C619.7 378.6 624.3 377.8 629.0 376.8 C633.7 375.8 638.7 374.4 643.0 372.8 C647.3 371.2 650.3 369.0 655.0 367.2 C659.7 365.4 666.3 363.9 671.0 361.8 C675.7 359.7 681.0 356.0 683.0 354.8" fill="none" stroke="#04608c" stroke-opacity="0.95" stroke-width="1.1" stroke-linejoin="round"/>
<path d="M517.0 56.0 C516.7 56.3 517.8 55.8 515.0 58.0 C512.2 60.2 504.8 65.3 500.0 69.0 C495.2 72.7 490.7 76.2 486.0 80.0 C481.3 83.8 474.3 90.0 472.0 92.0 C473.3 93.2 477.8 97.6 480.0 99.5 C482.2 101.4 482.1 101.2 485.0 103.5 C487.9 105.8 493.8 110.2 497.5 113.0 C501.2 115.8 504.8 118.2 507.0 120.5 C509.2 122.8 508.8 125.2 511.0 127.0 C513.2 128.8 516.0 129.8 520.0 131.5 C524.0 133.2 530.5 135.1 535.0 137.5 C539.5 139.9 543.3 143.6 547.0 146.0 C550.7 148.4 553.3 150.6 557.0 152.0 C560.7 153.4 565.0 154.7 569.0 154.4 C573.0 154.1 576.7 151.3 581.0 150.0 C585.3 148.7 589.3 147.2 595.0 146.4 C600.7 145.6 609.3 144.9 615.0 145.0 C620.7 145.1 624.3 145.8 629.0 147.0 C633.7 148.2 638.0 150.0 643.0 152.0 C648.0 154.0 654.0 157.1 659.0 159.0 C664.0 160.9 669.0 162.6 673.0 163.6 C677.0 164.6 681.3 164.8 683.0 165.0" fill="none" stroke="#163c98" stroke-opacity="0.95" stroke-width="1.1" stroke-linejoin="round"/>
<path d="M517.0 476.8 C516.7 476.5 517.8 477.0 515.0 474.8 C512.2 472.6 504.8 467.5 500.0 463.8 C495.2 460.1 490.7 456.6 486.0 452.8 C481.3 449.0 474.3 442.8 472.0 440.8 C473.3 439.5 477.8 435.2 480.0 433.3 C482.2 431.4 482.1 431.5 485.0 429.3 C487.9 427.0 493.8 422.6 497.5 419.8 C501.2 417.0 504.8 414.6 507.0 412.3 C509.2 410.0 508.8 407.6 511.0 405.8 C513.2 404.0 516.0 403.0 520.0 401.3 C524.0 399.5 530.5 397.7 535.0 395.3 C539.5 392.9 543.3 389.2 547.0 386.8 C550.7 384.4 553.3 382.2 557.0 380.8 C560.7 379.4 565.0 378.1 569.0 378.4 C573.0 378.7 576.7 381.5 581.0 382.8 C585.3 384.1 589.3 385.6 595.0 386.4 C600.7 387.2 609.3 387.9 615.0 387.8 C620.7 387.7 624.3 387.0 629.0 385.8 C633.7 384.6 638.0 382.8 643.0 380.8 C648.0 378.8 654.0 375.7 659.0 373.8 C664.0 371.9 669.0 370.2 673.0 369.2 C677.0 368.2 681.3 368.0 683.0 367.8" fill="none" stroke="#163c98" stroke-opacity="0.95" stroke-width="1.1" stroke-linejoin="round"/>
<path d="M545.0 56.0 C544.7 56.3 545.2 56.0 543.0 58.0 C540.8 60.0 535.8 64.3 532.0 68.0 C528.2 71.7 524.0 76.0 520.0 80.0 C516.0 84.0 510.0 90.0 508.0 92.0 C510.0 93.8 516.8 99.5 520.0 102.5 C523.2 105.5 525.0 107.2 527.5 110.0 C530.0 112.8 532.9 117.4 535.0 119.5 C537.1 121.6 538.0 120.9 540.0 122.5 C542.0 124.1 543.5 126.8 547.0 129.0 C550.5 131.2 556.3 134.3 561.0 136.0 C565.7 137.7 570.0 138.9 575.0 139.0 C580.0 139.1 585.0 137.2 591.0 136.4 C597.0 135.6 605.3 134.5 611.0 134.4 C616.7 134.3 620.3 134.9 625.0 136.0 C629.7 137.1 634.0 139.0 639.0 141.0 C644.0 143.0 650.0 146.0 655.0 148.0 C660.0 150.0 664.3 151.7 669.0 153.0 C673.7 154.3 680.7 155.2 683.0 155.6" fill="none" stroke="#3448c0" stroke-opacity="0.95" stroke-width="1.1" stroke-linejoin="round"/>
<path d="M545.0 476.8 C544.7 476.5 545.2 476.8 543.0 474.8 C540.8 472.8 535.8 468.5 532.0 464.8 C528.2 461.1 524.0 456.8 520.0 452.8 C516.0 448.8 510.0 442.8 508.0 440.8 C510.0 439.0 516.8 433.3 520.0 430.3 C523.2 427.3 525.0 425.6 527.5 422.8 C530.0 420.0 532.9 415.4 535.0 413.3 C537.1 411.2 538.0 411.9 540.0 410.3 C542.0 408.7 543.5 406.0 547.0 403.8 C550.5 401.5 556.3 398.5 561.0 396.8 C565.7 395.1 570.0 393.9 575.0 393.8 C580.0 393.7 585.0 395.6 591.0 396.4 C597.0 397.2 605.3 398.3 611.0 398.4 C616.7 398.5 620.3 397.9 625.0 396.8 C629.7 395.7 634.0 393.8 639.0 391.8 C644.0 389.8 650.0 386.8 655.0 384.8 C660.0 382.8 664.3 381.1 669.0 379.8 C673.7 378.5 680.7 377.6 683.0 377.2" fill="none" stroke="#3448c0" stroke-opacity="0.95" stroke-width="1.1" stroke-linejoin="round"/>
<path d="M572.0 56.0 C571.7 56.3 571.5 56.3 570.0 58.0 C568.5 59.7 566.2 63.5 563.0 66.0 C559.8 68.5 554.2 70.3 551.0 73.0 C547.8 75.7 546.0 78.8 544.0 82.0 C542.0 85.2 539.8 90.3 539.0 92.0 C539.7 94.0 541.0 100.7 543.0 104.0 C545.0 107.3 547.7 109.3 551.0 112.0 C554.3 114.7 558.7 117.5 563.0 120.0 C567.3 122.5 571.7 126.3 577.0 127.0 C582.3 127.7 588.7 124.8 595.0 124.0 C601.3 123.2 610.0 122.1 615.0 122.4 C620.0 122.7 621.0 124.0 625.0 125.6 C629.0 127.2 634.0 129.8 639.0 132.0 C644.0 134.2 650.0 136.8 655.0 139.0 C660.0 141.2 664.3 143.5 669.0 145.0 C673.7 146.5 680.7 147.5 683.0 148.0" fill="none" stroke="#4c66b4" stroke-opacity="0.95" stroke-width="1.1" stroke-linejoin="round"/>
<path d="M572.0 476.8 C571.7 476.5 571.5 476.5 570.0 474.8 C568.5 473.1 566.2 469.3 563.0 466.8 C559.8 464.3 554.2 462.5 551.0 459.8 C547.8 457.1 546.0 454.0 544.0 450.8 C542.0 447.6 539.8 442.5 539.0 440.8 C539.7 438.8 541.0 432.1 543.0 428.8 C545.0 425.5 547.7 423.5 551.0 420.8 C554.3 418.1 558.7 415.3 563.0 412.8 C567.3 410.3 571.7 406.5 577.0 405.8 C582.3 405.1 588.7 408.0 595.0 408.8 C601.3 409.6 610.0 410.7 615.0 410.4 C620.0 410.1 621.0 408.8 625.0 407.2 C629.0 405.6 634.0 403.0 639.0 400.8 C644.0 398.6 650.0 396.0 655.0 393.8 C660.0 391.6 664.3 389.3 669.0 387.8 C673.7 386.3 680.7 385.3 683.0 384.8" fill="none" stroke="#4c66b4" stroke-opacity="0.95" stroke-width="1.1" stroke-linejoin="round"/>
<path d="M90.0 56.0 C89.8 56.3 90.2 56.5 89.0 58.0 C87.8 59.5 85.0 63.0 83.0 65.0 C81.0 67.0 78.3 69.0 77.0 70.0 C75.7 71.0 75.3 70.8 75.0 71.0" fill="none" stroke="#1e7418" stroke-opacity="0.95" stroke-width="1.1"/>
<path d="M90.0 476.8 C89.8 476.5 90.2 476.3 89.0 474.8 C87.8 473.3 85.0 469.8 83.0 467.8 C81.0 465.8 78.3 463.8 77.0 462.8 C75.7 461.8 75.3 462.0 75.0 461.8" fill="none" stroke="#1e7418" stroke-opacity="0.95" stroke-width="1.1"/>
<path d="M328.0 56.0 C328.2 56.3 328.2 56.5 329.0 58.0 C329.8 59.5 331.0 63.0 333.0 65.0 C335.0 67.0 338.2 68.6 341.0 70.0 C343.8 71.4 347.5 73.4 350.0 73.6 C352.5 73.8 354.6 72.6 356.0 71.0 C357.4 69.4 358.1 66.5 358.6 64.0 C359.1 61.5 358.8 57.3 358.8 56.0" fill="none" stroke="#04608c" stroke-opacity="0.95" stroke-width="1.1"/>
<path d="M328.0 476.8 C328.2 476.5 328.2 476.3 329.0 474.8 C329.8 473.3 331.0 469.8 333.0 467.8 C335.0 465.8 338.2 464.2 341.0 462.8 C343.8 461.4 347.5 459.4 350.0 459.2 C352.5 459.0 354.6 460.2 356.0 461.8 C357.4 463.4 358.1 466.3 358.6 468.8 C359.1 471.3 358.8 475.5 358.8 476.8" fill="none" stroke="#04608c" stroke-opacity="0.95" stroke-width="1.1"/>
<path d="M386.0 56.0 C386.3 56.3 386.5 57.0 388.0 58.0 C389.5 59.0 392.7 60.9 395.0 62.0 C397.3 63.1 400.0 64.4 402.0 64.4 C404.0 64.4 405.3 63.1 407.0 62.0 C408.7 60.9 410.8 59.0 412.0 58.0 C413.2 57.0 413.7 56.3 414.0 56.0" fill="none" stroke="#1e7418" stroke-opacity="0.95" stroke-width="1.1"/>
<path d="M386.0 476.8 C386.3 476.5 386.5 475.8 388.0 474.8 C389.5 473.8 392.7 471.9 395.0 470.8 C397.3 469.7 400.0 468.4 402.0 468.4 C404.0 468.4 405.3 469.7 407.0 470.8 C408.7 471.9 410.8 473.8 412.0 474.8 C413.2 475.8 413.7 476.5 414.0 476.8" fill="none" stroke="#1e7418" stroke-opacity="0.95" stroke-width="1.1"/>
<g clip-path="url(#b0)"><g stroke="#5e5a16" stroke-width="1"><line x1="217.4" y1="57.6" x2="217.4" y2="475"/><line x1="298.6" y1="57.6" x2="298.6" y2="475"/><line x1="357.2" y1="57.6" x2="357.2" y2="475"/><line x1="402.2" y1="57.6" x2="402.2" y2="475"/><line x1="438.5" y1="57.6" x2="438.5" y2="475"/><line x1="469.9" y1="57.6" x2="469.9" y2="475"/><line x1="497.3" y1="57.6" x2="497.3" y2="475"/><line x1="520.3" y1="57.6" x2="520.3" y2="475"/><line x1="541.6" y1="57.6" x2="541.6" y2="475"/><line x1="77" y1="92.3" x2="681.4" y2="92.3"/><line x1="77" y1="150.3" x2="681.4" y2="150.3"/><line x1="77" y1="208.3" x2="681.4" y2="208.3"/><line x1="77" y1="266.3" x2="681.4" y2="266.3"/><line x1="77" y1="324.3" x2="681.4" y2="324.3"/><line x1="77" y1="382.3" x2="681.4" y2="382.3"/><line x1="77" y1="440.3" x2="681.4" y2="440.3"/><line x1="77.4" y1="57.6" x2="77.4" y2="475" stroke-opacity="0.7"/></g></g>
<g clip-path="url(#b1)"><g stroke="#8c5a0a" stroke-width="1"><line x1="217.4" y1="57.6" x2="217.4" y2="475"/><line x1="298.6" y1="57.6" x2="298.6" y2="475"/><line x1="357.2" y1="57.6" x2="357.2" y2="475"/><line x1="402.2" y1="57.6" x2="402.2" y2="475"/><line x1="438.5" y1="57.6" x2="438.5" y2="475"/><line x1="469.9" y1="57.6" x2="469.9" y2="475"/><line x1="497.3" y1="57.6" x2="497.3" y2="475"/><line x1="520.3" y1="57.6" x2="520.3" y2="475"/><line x1="541.6" y1="57.6" x2="541.6" y2="475"/><line x1="77" y1="92.3" x2="681.4" y2="92.3"/><line x1="77" y1="150.3" x2="681.4" y2="150.3"/><line x1="77" y1="208.3" x2="681.4" y2="208.3"/><line x1="77" y1="266.3" x2="681.4" y2="266.3"/><line x1="77" y1="324.3" x2="681.4" y2="324.3"/><line x1="77" y1="382.3" x2="681.4" y2="382.3"/><line x1="77" y1="440.3" x2="681.4" y2="440.3"/><line x1="77.4" y1="57.6" x2="77.4" y2="475" stroke-opacity="0.7"/></g></g>
<g clip-path="url(#b2)"><g stroke="#806400" stroke-width="1"><line x1="217.4" y1="57.6" x2="217.4" y2="475"/><line x1="298.6" y1="57.6" x2="298.6" y2="475"/><line x1="357.2" y1="57.6" x2="357.2" y2="475"/><line x1="402.2" y1="57.6" x2="402.2" y2="475"/><line x1="438.5" y1="57.6" x2="438.5" y2="475"/><line x1="469.9" y1="57.6" x2="469.9" y2="475"/><line x1="497.3" y1="57.6" x2="497.3" y2="475"/><line x1="520.3" y1="57.6" x2="520.3" y2="475"/><line x1="541.6" y1="57.6" x2="541.6" y2="475"/><line x1="77" y1="92.3" x2="681.4" y2="92.3"/><line x1="77" y1="150.3" x2="681.4" y2="150.3"/><line x1="77" y1="208.3" x2="681.4" y2="208.3"/><line x1="77" y1="266.3" x2="681.4" y2="266.3"/><line x1="77" y1="324.3" x2="681.4" y2="324.3"/><line x1="77" y1="382.3" x2="681.4" y2="382.3"/><line x1="77" y1="440.3" x2="681.4" y2="440.3"/><line x1="77.4" y1="57.6" x2="77.4" y2="475" stroke-opacity="0.7"/></g></g>
<g clip-path="url(#b3)"><g stroke="#687200" stroke-width="1"><line x1="217.4" y1="57.6" x2="217.4" y2="475"/><line x1="298.6" y1="57.6" x2="298.6" y2="475"/><line x1="357.2" y1="57.6" x2="357.2" y2="475"/><line x1="402.2" y1="57.6" x2="402.2" y2="475"/><line x1="438.5" y1="57.6" x2="438.5" y2="475"/><line x1="469.9" y1="57.6" x2="469.9" y2="475"/><line x1="497.3" y1="57.6" x2="497.3" y2="475"/><line x1="520.3" y1="57.6" x2="520.3" y2="475"/><line x1="541.6" y1="57.6" x2="541.6" y2="475"/><line x1="77" y1="92.3" x2="681.4" y2="92.3"/><line x1="77" y1="150.3" x2="681.4" y2="150.3"/><line x1="77" y1="208.3" x2="681.4" y2="208.3"/><line x1="77" y1="266.3" x2="681.4" y2="266.3"/><line x1="77" y1="324.3" x2="681.4" y2="324.3"/><line x1="77" y1="382.3" x2="681.4" y2="382.3"/><line x1="77" y1="440.3" x2="681.4" y2="440.3"/><line x1="77.4" y1="57.6" x2="77.4" y2="475" stroke-opacity="0.7"/></g></g>
<g clip-path="url(#b4)"><g stroke="#3c8a12" stroke-width="1"><line x1="217.4" y1="57.6" x2="217.4" y2="475"/><line x1="298.6" y1="57.6" x2="298.6" y2="475"/><line x1="357.2" y1="57.6" x2="357.2" y2="475"/><line x1="402.2" y1="57.6" x2="402.2" y2="475"/><line x1="438.5" y1="57.6" x2="438.5" y2="475"/><line x1="469.9" y1="57.6" x2="469.9" y2="475"/><line x1="497.3" y1="57.6" x2="497.3" y2="475"/><line x1="520.3" y1="57.6" x2="520.3" y2="475"/><line x1="541.6" y1="57.6" x2="541.6" y2="475"/><line x1="77" y1="92.3" x2="681.4" y2="92.3"/><line x1="77" y1="150.3" x2="681.4" y2="150.3"/><line x1="77" y1="208.3" x2="681.4" y2="208.3"/><line x1="77" y1="266.3" x2="681.4" y2="266.3"/><line x1="77" y1="324.3" x2="681.4" y2="324.3"/><line x1="77" y1="382.3" x2="681.4" y2="382.3"/><line x1="77" y1="440.3" x2="681.4" y2="440.3"/><line x1="77.4" y1="57.6" x2="77.4" y2="475" stroke-opacity="0.7"/></g></g>
<g clip-path="url(#b5)"><g stroke="#0e8a2e" stroke-width="1"><line x1="217.4" y1="57.6" x2="217.4" y2="475"/><line x1="298.6" y1="57.6" x2="298.6" y2="475"/><line x1="357.2" y1="57.6" x2="357.2" y2="475"/><line x1="402.2" y1="57.6" x2="402.2" y2="475"/><line x1="438.5" y1="57.6" x2="438.5" y2="475"/><line x1="469.9" y1="57.6" x2="469.9" y2="475"/><line x1="497.3" y1="57.6" x2="497.3" y2="475"/><line x1="520.3" y1="57.6" x2="520.3" y2="475"/><line x1="541.6" y1="57.6" x2="541.6" y2="475"/><line x1="77" y1="92.3" x2="681.4" y2="92.3"/><line x1="77" y1="150.3" x2="681.4" y2="150.3"/><line x1="77" y1="208.3" x2="681.4" y2="208.3"/><line x1="77" y1="266.3" x2="681.4" y2="266.3"/><line x1="77" y1="324.3" x2="681.4" y2="324.3"/><line x1="77" y1="382.3" x2="681.4" y2="382.3"/><line x1="77" y1="440.3" x2="681.4" y2="440.3"/><line x1="77.4" y1="57.6" x2="77.4" y2="475" stroke-opacity="0.7"/></g></g>
<g clip-path="url(#b6)"><g stroke="#007e64" stroke-width="1"><line x1="217.4" y1="57.6" x2="217.4" y2="475"/><line x1="298.6" y1="57.6" x2="298.6" y2="475"/><line x1="357.2" y1="57.6" x2="357.2" y2="475"/><line x1="402.2" y1="57.6" x2="402.2" y2="475"/><line x1="438.5" y1="57.6" x2="438.5" y2="475"/><line x1="469.9" y1="57.6" x2="469.9" y2="475"/><line x1="497.3" y1="57.6" x2="497.3" y2="475"/><line x1="520.3" y1="57.6" x2="520.3" y2="475"/><line x1="541.6" y1="57.6" x2="541.6" y2="475"/><line x1="77" y1="92.3" x2="681.4" y2="92.3"/><line x1="77" y1="150.3" x2="681.4" y2="150.3"/><line x1="77" y1="208.3" x2="681.4" y2="208.3"/><line x1="77" y1="266.3" x2="681.4" y2="266.3"/><line x1="77" y1="324.3" x2="681.4" y2="324.3"/><line x1="77" y1="382.3" x2="681.4" y2="382.3"/><line x1="77" y1="440.3" x2="681.4" y2="440.3"/><line x1="77.4" y1="57.6" x2="77.4" y2="475" stroke-opacity="0.7"/></g></g>
<g clip-path="url(#b7)"><g stroke="#0a5a94" stroke-width="1"><line x1="217.4" y1="57.6" x2="217.4" y2="475"/><line x1="298.6" y1="57.6" x2="298.6" y2="475"/><line x1="357.2" y1="57.6" x2="357.2" y2="475"/><line x1="402.2" y1="57.6" x2="402.2" y2="475"/><line x1="438.5" y1="57.6" x2="438.5" y2="475"/><line x1="469.9" y1="57.6" x2="469.9" y2="475"/><line x1="497.3" y1="57.6" x2="497.3" y2="475"/><line x1="520.3" y1="57.6" x2="520.3" y2="475"/><line x1="541.6" y1="57.6" x2="541.6" y2="475"/><line x1="77" y1="92.3" x2="681.4" y2="92.3"/><line x1="77" y1="150.3" x2="681.4" y2="150.3"/><line x1="77" y1="208.3" x2="681.4" y2="208.3"/><line x1="77" y1="266.3" x2="681.4" y2="266.3"/><line x1="77" y1="324.3" x2="681.4" y2="324.3"/><line x1="77" y1="382.3" x2="681.4" y2="382.3"/><line x1="77" y1="440.3" x2="681.4" y2="440.3"/><line x1="77.4" y1="57.6" x2="77.4" y2="475" stroke-opacity="0.7"/></g></g>
<g clip-path="url(#b8)"><g stroke="#1e58ac" stroke-width="1"><line x1="217.4" y1="57.6" x2="217.4" y2="475"/><line x1="298.6" y1="57.6" x2="298.6" y2="475"/><line x1="357.2" y1="57.6" x2="357.2" y2="475"/><line x1="402.2" y1="57.6" x2="402.2" y2="475"/><line x1="438.5" y1="57.6" x2="438.5" y2="475"/><line x1="469.9" y1="57.6" x2="469.9" y2="475"/><line x1="497.3" y1="57.6" x2="497.3" y2="475"/><line x1="520.3" y1="57.6" x2="520.3" y2="475"/><line x1="541.6" y1="57.6" x2="541.6" y2="475"/><line x1="77" y1="92.3" x2="681.4" y2="92.3"/><line x1="77" y1="150.3" x2="681.4" y2="150.3"/><line x1="77" y1="208.3" x2="681.4" y2="208.3"/><line x1="77" y1="266.3" x2="681.4" y2="266.3"/><line x1="77" y1="324.3" x2="681.4" y2="324.3"/><line x1="77" y1="382.3" x2="681.4" y2="382.3"/><line x1="77" y1="440.3" x2="681.4" y2="440.3"/><line x1="77.4" y1="57.6" x2="77.4" y2="475" stroke-opacity="0.7"/></g></g>
<g clip-path="url(#b9)"><g stroke="#3060b8" stroke-width="1"><line x1="217.4" y1="57.6" x2="217.4" y2="475"/><line x1="298.6" y1="57.6" x2="298.6" y2="475"/><line x1="357.2" y1="57.6" x2="357.2" y2="475"/><line x1="402.2" y1="57.6" x2="402.2" y2="475"/><line x1="438.5" y1="57.6" x2="438.5" y2="475"/><line x1="469.9" y1="57.6" x2="469.9" y2="475"/><line x1="497.3" y1="57.6" x2="497.3" y2="475"/><line x1="520.3" y1="57.6" x2="520.3" y2="475"/><line x1="541.6" y1="57.6" x2="541.6" y2="475"/><line x1="77" y1="92.3" x2="681.4" y2="92.3"/><line x1="77" y1="150.3" x2="681.4" y2="150.3"/><line x1="77" y1="208.3" x2="681.4" y2="208.3"/><line x1="77" y1="266.3" x2="681.4" y2="266.3"/><line x1="77" y1="324.3" x2="681.4" y2="324.3"/><line x1="77" y1="382.3" x2="681.4" y2="382.3"/><line x1="77" y1="440.3" x2="681.4" y2="440.3"/><line x1="77.4" y1="57.6" x2="77.4" y2="475" stroke-opacity="0.7"/></g></g>
<g clip-path="url(#b10)"><g stroke="#3e5ea2" stroke-width="1"><line x1="217.4" y1="57.6" x2="217.4" y2="475"/><line x1="298.6" y1="57.6" x2="298.6" y2="475"/><line x1="357.2" y1="57.6" x2="357.2" y2="475"/><line x1="402.2" y1="57.6" x2="402.2" y2="475"/><line x1="438.5" y1="57.6" x2="438.5" y2="475"/><line x1="469.9" y1="57.6" x2="469.9" y2="475"/><line x1="497.3" y1="57.6" x2="497.3" y2="475"/><line x1="520.3" y1="57.6" x2="520.3" y2="475"/><line x1="541.6" y1="57.6" x2="541.6" y2="475"/><line x1="77" y1="92.3" x2="681.4" y2="92.3"/><line x1="77" y1="150.3" x2="681.4" y2="150.3"/><line x1="77" y1="208.3" x2="681.4" y2="208.3"/><line x1="77" y1="266.3" x2="681.4" y2="266.3"/><line x1="77" y1="324.3" x2="681.4" y2="324.3"/><line x1="77" y1="382.3" x2="681.4" y2="382.3"/><line x1="77" y1="440.3" x2="681.4" y2="440.3"/><line x1="77.4" y1="57.6" x2="77.4" y2="475" stroke-opacity="0.7"/></g></g>
<polygon points="674.0,208.3 681.4,205.0 681.4,209.3" fill="#0a98a0"/>
<polygon points="674.0,324.3 681.4,327.6 681.4,323.3" fill="#0a98a0"/>
<path d="M77.3 92.3 Q79.6 106.3 77.3 119.3" fill="none" stroke="#1e9a46" stroke-width="1.6"/>
<path d="M77.3 440.3 Q79.6 426.3 77.3 413.3" fill="none" stroke="#1e9a46" stroke-width="1.6"/>
</g>
<path d="M471.0 58.1 H682.5" fill="none" stroke="#42609c" stroke-opacity="0.85" stroke-width="1.3"/>
<path d="M681.9 57.6 V178.0 M681.9 354.6 V475.0" fill="none" stroke="#42609c" stroke-opacity="0.85" stroke-width="1.2"/>
<path d="M471.0 474.7 H682.5" fill="none" stroke="#4458a8" stroke-opacity="0.6" stroke-width="1.0"/>
<path d="M681.8 178.0 V354.6" fill="none" stroke="#1a7a50" stroke-opacity="0.5" stroke-width="1.0"/>
<g stroke="#3c5a48" stroke-width="1"><line x1="77.3" y1="475" x2="77.3" y2="481.5"/><line x1="217.4" y1="475" x2="217.4" y2="481.5"/><line x1="298.6" y1="475" x2="298.6" y2="481.5"/><line x1="357.2" y1="475" x2="357.2" y2="481.5"/><line x1="402.2" y1="475" x2="402.2" y2="481.5"/><line x1="438.5" y1="475" x2="438.5" y2="481.5"/><line x1="469.9" y1="475" x2="469.9" y2="481.5"/><line x1="497.3" y1="475" x2="497.3" y2="481.5"/><line x1="520.3" y1="475" x2="520.3" y2="481.5"/><line x1="541.6" y1="475" x2="541.6" y2="481.5"/><line x1="681.6" y1="475" x2="681.6" y2="481.5"/><line x1="72.5" y1="92.3" x2="77" y2="92.3"/><line x1="72.5" y1="150.3" x2="77" y2="150.3"/><line x1="72.5" y1="208.3" x2="77" y2="208.3"/><line x1="72.5" y1="266.3" x2="77" y2="266.3"/><line x1="72.5" y1="324.3" x2="77" y2="324.3"/><line x1="72.5" y1="382.3" x2="77" y2="382.3"/><line x1="72.5" y1="440.3" x2="77" y2="440.3"/></g>
<rect x="703.7" y="57.50" width="20.2" height="41.50" fill="#880000"/>
<rect x="703.7" y="98.70" width="20.2" height="43.60" fill="#f40000"/>
<rect x="703.7" y="142.00" width="20.2" height="42.50" fill="#ff5a08"/>
<rect x="703.7" y="184.20" width="20.2" height="41.60" fill="#ffae00"/>
<rect x="703.7" y="225.50" width="20.2" height="41.60" fill="#e2ff1e"/>
<rect x="703.7" y="266.80" width="20.2" height="40.60" fill="#7eff82"/>
<rect x="703.7" y="307.10" width="20.2" height="42.50" fill="#1effe1"/>
<rect x="703.7" y="349.30" width="20.2" height="42.10" fill="#00a8ff"/>
<rect x="703.7" y="391.10" width="20.2" height="41.50" fill="#0048ff"/>
<rect x="703.7" y="432.30" width="20.2" height="42.80" fill="#0000e6"/>
<g font-family="'Liberation Sans', sans-serif" stroke="#c8c8c8" stroke-width="0.3" stroke-opacity="0.8">
<text transform="translate(38.40 42.30) scale(1.045 1)" font-size="18.5" text-anchor="start" fill="#c8c8c8" xml:space="preserve">deg</text>
<text transform="translate(305.80 38.30) scale(1.03 1)" font-size="18.5" text-anchor="start" fill="#c8c8c8" xml:space="preserve">Directivity pattern</text>
<text transform="translate(69.70 98.60) scale(1.045 1)" font-size="18.2" text-anchor="end" fill="#c8c8c8" xml:space="preserve">-150.0</text>
<text transform="translate(69.70 156.60) scale(1.045 1)" font-size="18.2" text-anchor="end" fill="#c8c8c8" xml:space="preserve">-100.0</text>
<text transform="translate(69.70 214.60) scale(1.045 1)" font-size="18.2" text-anchor="end" fill="#c8c8c8" xml:space="preserve">-50.0</text>
<text transform="translate(69.70 272.60) scale(1.045 1)" font-size="18.2" text-anchor="end" fill="#c8c8c8" xml:space="preserve">0.0</text>
<text transform="translate(69.70 330.60) scale(1.045 1)" font-size="18.2" text-anchor="end" fill="#c8c8c8" xml:space="preserve">50.0</text>
<text transform="translate(69.70 388.60) scale(1.045 1)" font-size="18.2" text-anchor="end" fill="#c8c8c8" xml:space="preserve">100.0</text>
<text transform="translate(69.70 446.60) scale(1.045 1)" font-size="18.2" text-anchor="end" fill="#c8c8c8" xml:space="preserve">150.0</text>
<text transform="translate(77.60 501.80) scale(1.02 1)" font-size="18.5" text-anchor="middle" fill="#c8c8c8" xml:space="preserve">1k</text>
<text transform="translate(217.40 501.80) scale(1.02 1)" font-size="18.5" text-anchor="middle" fill="#c8c8c8" xml:space="preserve">2k</text>
<text transform="translate(402.20 501.80) scale(1.02 1)" font-size="18.5" text-anchor="middle" fill="#c8c8c8" xml:space="preserve">5k</text>
<text transform="translate(541.60 501.80) scale(1.02 1)" font-size="18.5" text-anchor="middle" fill="#c8c8c8" xml:space="preserve">10k</text>
<text transform="translate(681.40 501.80) scale(1.02 1)" font-size="18.5" text-anchor="middle" fill="#c8c8c8" xml:space="preserve">20k</text>
<text transform="translate(634.00 523.00) scale(1.055 1)" font-size="18.5" text-anchor="start" fill="#c8c8c8" xml:space="preserve">F(Hz)</text>
<text transform="translate(76.80 547.20) scale(1.015 1)" font-size="16.3" text-anchor="start" fill="#c8c8c8" xml:space="preserve">File: Untitled.dpf</text>
<text transform="translate(76.80 559.90) scale(1.03 1)" font-size="16.3" text-anchor="start" fill="#c8c8c8" xml:space="preserve">Project_X_test_1_schallwand_1_rund_full_box_dir</text>
<text transform="translate(614.30 548.00) scale(1.04 1)" font-size="16.5" text-anchor="start" fill="#c8c8c8" xml:space="preserve">2019-12-21  17:08:44</text>
<text transform="translate(730.00 63.40) scale(1.04 1)" font-size="18.5" text-anchor="start" fill="#c8c8c8" xml:space="preserve">dB</text>
<text transform="translate(730.30 106.10) scale(1 1)" font-size="18.5" text-anchor="start" fill="#c8c8c8" xml:space="preserve">-3.0</text>
<text transform="translate(730.30 147.67) scale(1 1)" font-size="18.5" text-anchor="start" fill="#c8c8c8" xml:space="preserve">-6.0</text>
<text transform="translate(730.30 189.24) scale(1 1)" font-size="18.5" text-anchor="start" fill="#c8c8c8" xml:space="preserve">-9.0</text>
<text transform="translate(730.30 230.81) scale(1 1)" font-size="18.5" text-anchor="start" fill="#c8c8c8" xml:space="preserve">-12.0</text>
<text transform="translate(730.30 272.38) scale(1 1)" font-size="18.5" text-anchor="start" fill="#c8c8c8" xml:space="preserve">-15.0</text>
<text transform="translate(730.30 313.95) scale(1 1)" font-size="18.5" text-anchor="start" fill="#c8c8c8" xml:space="preserve">-18.0</text>
<text transform="translate(730.30 355.52) scale(1 1)" font-size="18.5" text-anchor="start" fill="#c8c8c8" xml:space="preserve">-21.0</text>
<text transform="translate(730.30 397.09) scale(1 1)" font-size="18.5" text-anchor="start" fill="#c8c8c8" xml:space="preserve">-24.0</text>
<text transform="translate(730.30 438.66) scale(1 1)" font-size="18.5" text-anchor="start" fill="#c8c8c8" xml:space="preserve">-27.0</text>
<text transform="translate(730.30 480.23) scale(1 1)" font-size="18.5" text-anchor="start" fill="#c8c8c8" xml:space="preserve">-30.0</text>
<text transform="translate(690.50 73.30) scale(1 1)" font-size="17.2" text-anchor="middle" fill="#c8c8c8" xml:space="preserve">A</text>
<text transform="translate(690.50 90.80) scale(1 1)" font-size="17.2" text-anchor="middle" fill="#c8c8c8" xml:space="preserve">R</text>
<text transform="translate(690.50 108.30) scale(1 1)" font-size="17.2" text-anchor="middle" fill="#c8c8c8" xml:space="preserve">T</text>
<text transform="translate(690.50 125.80) scale(1 1)" font-size="17.2" text-anchor="middle" fill="#c8c8c8" xml:space="preserve">A</text>
<text transform="translate(151.80 151.60) scale(0.8 1)" font-size="12.4" text-anchor="middle" fill="#ffe9a8" stroke="none" fill-opacity="0.6" xml:space="preserve">-9.0</text>
<text transform="translate(224.00 179.00) scale(0.8 1)" font-size="12.4" text-anchor="middle" fill="#ffe4dc" stroke="none" fill-opacity="0.9" xml:space="preserve">-6.0</text>
<text transform="translate(213.60 107.50) scale(0.8 1)" font-size="12.4" text-anchor="middle" fill="#f2ffa0" stroke="none" fill-opacity="0.3" xml:space="preserve">-15.0</text>
<text transform="translate(253.90 138.50) scale(0.8 1)" font-size="12.4" text-anchor="middle" fill="#fff3a0" stroke="none" fill-opacity="0.4" xml:space="preserve">-12.0</text>
<text transform="translate(464.70 113.80) scale(0.8 1)" font-size="12.4" text-anchor="middle" fill="#b4e0ff" stroke="none" fill-opacity="0.7" xml:space="preserve">-21.0</text>
<text transform="translate(496.00 105.80) scale(0.8 1)" font-size="12.4" text-anchor="middle" fill="#c4d0ff" stroke="none" fill-opacity="0.9" xml:space="preserve">-24.0</text>
<text transform="translate(523.80 93.60) scale(0.8 1)" font-size="12.4" text-anchor="middle" fill="#d0ccff" stroke="none" fill-opacity="0.95" xml:space="preserve">-27.0</text>
<text transform="translate(486.00 138.80) scale(0.8 1)" font-size="12.4" text-anchor="middle" fill="#c8fff0" stroke="none" fill-opacity="0.4" xml:space="preserve">-18.0</text>
<text transform="translate(119.20 334.10) scale(0.8 1)" font-size="12.4" text-anchor="middle" fill="#ffd8d0" stroke="none" fill-opacity="0.9" xml:space="preserve">-3.0</text>
<text transform="translate(554.00 433.10) scale(0.8 1)" font-size="12.4" text-anchor="middle" fill="#c4bcf4" stroke="none" fill-opacity="0.95" xml:space="preserve">-30.0</text>
</g>
</svg>
</body></html>
